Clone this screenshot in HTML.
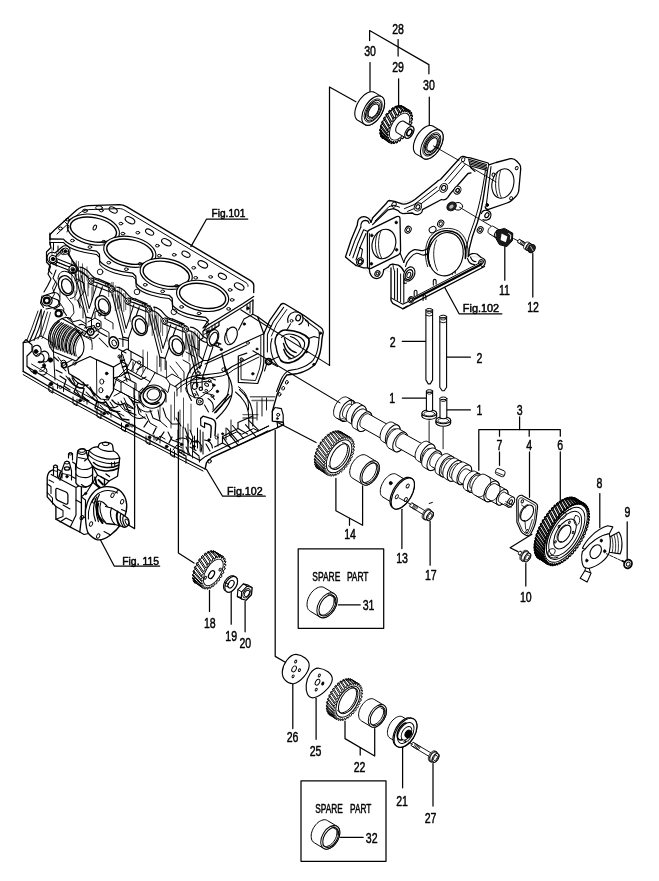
<!DOCTYPE html>
<html><head><meta charset="utf-8"><title>Parts diagram</title>
<style>
html,body{margin:0;padding:0;background:#fff}
svg{display:block}
svg text{font-family:"Liberation Sans",sans-serif;fill:#000;stroke:#000;stroke-width:0.5px}
</style></head><body>
<svg width="659" height="881" viewBox="0 0 659 881" fill="none" stroke="#000" stroke-width="1" stroke-linecap="round" stroke-linejoin="round">
<rect x="0" y="0" width="659" height="881" fill="#fff" stroke="none"/>
<g id="labels" opacity="0.995">
<text transform="translate(398.1,33.6) scale(0.72,1)" font-size="14.7" text-anchor="middle">28</text>
<text transform="translate(370.1,55.6) scale(0.72,1)" font-size="14.7" text-anchor="middle">30</text>
<text transform="translate(398.1,71.9) scale(0.72,1)" font-size="14.7" text-anchor="middle">29</text>
<text transform="translate(428.9,89.9) scale(0.72,1)" font-size="14.7" text-anchor="middle">30</text>
<path d="M369.6,40.5 L369.6,30.5 L428.9,64.6 L428.9,73.8" stroke-width="1.25"/>
<path d="M398.1,39.6 L398.1,56.0" stroke-width="1.25"/>
<path d="M370.0,62.6 L370.0,92.5" stroke-width="1.25"/>
<path d="M398.6,78.8 L398.6,105.9" stroke-width="1.25"/>
<path d="M429.3,97.1 L429.3,126.7" stroke-width="1.25"/>
<path d="M355.9,101.7 L329.5,87.0 L329.5,365.4" stroke-width="1.25"/>
<text transform="translate(504.5,295.4) scale(0.72,1)" font-size="14.7" text-anchor="middle">11</text>
<text transform="translate(533.1,312.1) scale(0.72,1)" font-size="14.7" text-anchor="middle">12</text>
<path d="M504.8,246.7 L504.8,280.2" stroke-width="1.25"/>
<path d="M532.8,253.6 L532.8,297.0" stroke-width="1.25"/>
<text x="462.8" y="311.6" font-size="11" textLength="36.4" lengthAdjust="spacingAndGlyphs">Fig.102</text>
<path d="M444.6,287.3 L459.1,313.8 L501.9,313.8" stroke-width="1.25"/>
<text x="211.6" y="216.7" font-size="11" textLength="33.7" lengthAdjust="spacingAndGlyphs">Fig.101</text>
<path d="M190.9,246.6 L206.6,219.0 L247.8,219.0" stroke-width="1.25"/>
<text x="227" y="495.0" font-size="11" textLength="35.6" lengthAdjust="spacingAndGlyphs">Fig.102</text>
<path d="M206.4,469.3 L222.6,496.2 L265.3,496.2" stroke-width="1.25"/>
<text x="122.2" y="565" font-size="11" textLength="36.8" lengthAdjust="spacingAndGlyphs">Fig. 115</text>
<path d="M100.5,540.0 L114.2,566.0 L159.7,566.0" stroke-width="1.25"/>
<text transform="translate(392.6,346.7) scale(0.72,1)" font-size="14.7" text-anchor="middle">2</text>
<path d="M402.3,341.4 L425.9,341.4" stroke-width="1.25"/>
<text transform="translate(479.4,362.5) scale(0.72,1)" font-size="14.7" text-anchor="middle">2</text>
<path d="M446.8,357.2 L470.4,357.2" stroke-width="1.25"/>
<text transform="translate(392.3,403.4) scale(0.72,1)" font-size="14.7" text-anchor="middle">1</text>
<path d="M402.3,398.1 L426.4,398.1" stroke-width="1.25"/>
<text transform="translate(479.4,415.2) scale(0.72,1)" font-size="14.7" text-anchor="middle">1</text>
<path d="M446.8,409.9 L470.4,409.9" stroke-width="1.25"/>
<text transform="translate(519.6,414.8) scale(0.72,1)" font-size="14.7" text-anchor="middle">3</text>
<path d="M519.6,416.9 L519.6,429.5" stroke-width="1.25"/>
<path d="M478.8,470.3 L478.8,429.5 L560.3,429.5 L560.3,436.2" stroke-width="1.25"/>
<path d="M499.5,429.5 L499.5,436.2" stroke-width="1.25"/>
<path d="M529.2,429.5 L529.2,436.2" stroke-width="1.25"/>
<text transform="translate(499.5,449.5) scale(0.72,1)" font-size="14.7" text-anchor="middle">7</text>
<path d="M499.5,451.9 L499.5,465.3" stroke-width="1.25"/>
<text transform="translate(529.2,449.5) scale(0.72,1)" font-size="14.7" text-anchor="middle">4</text>
<path d="M529.5,451.9 L529.5,497.3" stroke-width="1.25"/>
<text transform="translate(560.3,449.5) scale(0.72,1)" font-size="14.7" text-anchor="middle">6</text>
<path d="M560.3,451.9 L560.3,500.3" stroke-width="1.25"/>
<text transform="translate(599.4,488.2) scale(0.72,1)" font-size="14.7" text-anchor="middle">8</text>
<path d="M599.8,493.6 L599.8,527.5" stroke-width="1.25"/>
<text transform="translate(627.4,516.5) scale(0.72,1)" font-size="14.7" text-anchor="middle">9</text>
<path d="M627.2,521.8 L627.2,560.0" stroke-width="1.25"/>
<text transform="translate(525.8,601.6) scale(0.72,1)" font-size="14.7" text-anchor="middle">10</text>
<path d="M525.8,563.5 L525.8,586.0" stroke-width="1.25"/>
<path d="M531.9,534.3 L510.1,547.7 L518.0,551.6" stroke-width="1.25"/>
<text transform="translate(402.1,563.1) scale(0.72,1)" font-size="14.7" text-anchor="middle">13</text>
<path d="M401.9,509.3 L401.9,548.5" stroke-width="1.25"/>
<text transform="translate(430.8,579.7) scale(0.72,1)" font-size="14.7" text-anchor="middle">17</text>
<path d="M430.1,521.4 L430.1,565.2" stroke-width="1.25"/>
<text transform="translate(350.1,538.8) scale(0.72,1)" font-size="14.7" text-anchor="middle">14</text>
<path d="M335.9,478.3 L335.9,510.8 L362.6,525.3 L362.6,485.9" stroke-width="1.25"/>
<path d="M349.5,518.4 L349.5,525.3" stroke-width="1.25"/>
<text transform="translate(209.8,628.0) scale(0.72,1)" font-size="14.7" text-anchor="middle">18</text>
<path d="M209.5,590.4 L209.5,611.6" stroke-width="1.25"/>
<text transform="translate(231.2,640.5) scale(0.72,1)" font-size="14.7" text-anchor="middle">19</text>
<path d="M231.2,592.4 L231.2,624.2" stroke-width="1.25"/>
<text transform="translate(245.3,648.3) scale(0.72,1)" font-size="14.7" text-anchor="middle">20</text>
<path d="M245.1,601.5 L245.1,631.8" stroke-width="1.25"/>
<text transform="translate(292.5,742.1) scale(0.72,1)" font-size="14.7" text-anchor="middle">26</text>
<path d="M292.8,684.0 L292.8,728.6" stroke-width="1.25"/>
<text transform="translate(315.5,755.8) scale(0.72,1)" font-size="14.7" text-anchor="middle">25</text>
<path d="M316.1,698.3 L316.1,739.3" stroke-width="1.25"/>
<text transform="translate(359.5,771.9) scale(0.72,1)" font-size="14.7" text-anchor="middle">22</text>
<path d="M345.0,721.0 L345.0,738.6 L374.7,756.0 L374.7,728.6" stroke-width="1.25"/>
<path d="M360.2,747.5 L360.2,755.0" stroke-width="1.25"/>
<text transform="translate(402.0,805.9) scale(0.72,1)" font-size="14.7" text-anchor="middle">21</text>
<path d="M402.6,746.8 L402.6,787.8" stroke-width="1.25"/>
<text transform="translate(430.6,822.9) scale(0.72,1)" font-size="14.7" text-anchor="middle">27</text>
<path d="M433.0,763.5 L433.0,806.0" stroke-width="1.25"/>
<text transform="translate(368.6,610.4) scale(0.72,1)" font-size="14.7" text-anchor="middle">31</text>
<path d="M338.3,604.9 L360.2,604.9" stroke-width="1.25"/>
<text transform="translate(371.7,843.2) scale(0.72,1)" font-size="14.7" text-anchor="middle">32</text>
<path d="M340.4,837.3 L363.2,837.3" stroke-width="1.25"/>
<rect x="298.2" y="548.9" width="85.5" height="79.4" stroke-width="1.25"/>
<rect x="301" y="780.8" width="85" height="80.5" stroke-width="1.25"/>
<text x="312.3" y="580.9" font-size="13" textLength="28.1" lengthAdjust="spacingAndGlyphs">SPARE</text>
<text x="346.9" y="580.9" font-size="13" textLength="21.6" lengthAdjust="spacingAndGlyphs">PART</text>
<text x="315.2" y="813.4" font-size="13" textLength="27.6" lengthAdjust="spacingAndGlyphs">SPARE</text>
<text x="350.1" y="813.4" font-size="13" textLength="21.3" lengthAdjust="spacingAndGlyphs">PART</text>
<path d="M126.8,524.0 L134.6,528.6 L134.6,396.0" stroke-width="1.25"/>
<path d="M194.0,563.1 L178.4,552.9 L178.4,412.0" stroke-width="1.25"/>
<path d="M285.8,662.5 L275.2,656.4 L275.2,430.3" stroke-width="1.25"/>
<path d="M278.2,422.8 L316.1,442.5" stroke-width="1.25"/>
</g>
<g id="p14">
<path d="M318.3,469.5 L317.1,468.5 L316.0,467.2 L315.2,465.7 L314.7,463.8 L314.4,461.8 L314.3,459.6 L314.5,457.2 L315.0,454.7 L315.8,452.1 L316.7,449.5 L317.9,446.9 L319.3,444.4 L320.9,442.0 L322.6,439.7 L324.4,437.7 L326.4,435.8 L328.3,434.2 L330.3,432.9 L332.3,431.9 L334.3,431.2 L336.2,430.8 L337.9,430.8 L339.6,431.1 L341.0,431.8 L350.4,437.4 L351.7,438.4 L352.7,439.7 L353.5,441.3 L354.1,443.1 L354.4,445.1 L354.4,447.4 L354.2,449.8 L353.7,452.3 L353.0,454.8 L352.1,457.4 L350.9,460.0 L349.5,462.5 L347.9,464.9 L346.2,467.2 L344.3,469.3 L342.4,471.1 L340.4,472.7 L338.4,474.0 L336.4,475.1 L334.5,475.7 L332.6,476.1 L330.8,476.1 L329.2,475.8 L327.8,475.2 Z" stroke-width="0.01" fill="#fff"/>
<path d="M318.8,469.7 L319.5,467.8 L319.0,467.6 L317.6,469.0 L317.1,468.5 L318.0,466.6 L317.6,466.2 L316.2,467.4 L315.7,466.7 L316.8,464.9 L316.6,464.4 L315.1,465.3 L314.8,464.5 L316.1,462.8 L315.9,462.2 L314.5,462.8 L314.4,461.8 L315.7,460.3 L315.7,459.6 L314.3,459.9 L314.4,458.8 L315.8,457.5 L315.9,456.7 L314.6,456.7 L314.8,455.5 L316.3,454.5 L316.5,453.7 L315.4,453.3 L315.8,452.1 L317.2,451.3 L317.5,450.5 L316.6,449.8 L317.1,448.6 L318.5,448.2 L318.9,447.4 L318.2,446.4 L318.8,445.2 L320.2,445.1 L320.6,444.4 L320.1,443.1 L320.9,442.0 L322.1,442.2 L322.6,441.5 L322.3,440.0 L323.2,439.0 L324.2,439.6 L324.8,439.0 L324.8,437.3 L325.7,436.4 L326.5,437.3 L327.1,436.7 L327.4,434.9 L328.3,434.2 L328.9,435.4 L329.6,435.0 L330.1,433.1 L331.0,432.5 L331.4,433.9 L332.0,433.6 L332.7,431.7 L333.7,431.4 L333.8,433.0 L334.3,432.8 L335.3,431.0 L336.2,430.8 L336.0,432.6 L336.6,432.6 L337.7,430.8 L338.5,430.9 L338.1,432.7 L338.6,432.9 L339.9,431.2 L340.5,431.5 L339.9,433.4" stroke-width="0.9"/>
<path d="M350.8,437.7 L343.2,433.8" stroke-width="0.9"/>
<path d="M327.4,474.9 L316.2,467.4" stroke-width="0.9"/>
<path d="M326.8,474.5 L315.7,466.7" stroke-width="0.9"/>
<path d="M325.9,473.4 L315.1,465.3" stroke-width="0.9"/>
<path d="M325.4,472.8 L314.8,464.5" stroke-width="0.9"/>
<path d="M324.7,471.5 L314.5,462.8" stroke-width="0.9"/>
<path d="M324.4,470.6 L314.4,461.8" stroke-width="0.9"/>
<path d="M324.0,469.0 L314.3,459.9" stroke-width="0.9"/>
<path d="M323.9,468.0 L314.4,458.8" stroke-width="0.9"/>
<path d="M323.7,466.1 L314.6,456.7" stroke-width="0.9"/>
<path d="M323.8,465.1 L314.8,455.5" stroke-width="0.9"/>
<path d="M324.0,463.0 L315.4,453.3" stroke-width="0.9"/>
<path d="M324.1,461.8 L315.8,452.1" stroke-width="0.9"/>
<path d="M324.6,459.7 L316.6,449.8" stroke-width="0.9"/>
<path d="M325.0,458.4 L317.1,448.6" stroke-width="0.9"/>
<path d="M325.7,456.2 L318.2,446.4" stroke-width="0.9"/>
<path d="M326.2,455.0 L318.8,445.2" stroke-width="0.9"/>
<path d="M327.3,452.8 L320.1,443.1" stroke-width="0.9"/>
<path d="M327.9,451.6 L320.9,442.0" stroke-width="0.9"/>
<path d="M329.1,449.4 L322.3,440.0" stroke-width="0.9"/>
<path d="M329.9,448.3 L323.2,439.0" stroke-width="0.9"/>
<path d="M331.3,446.3 L324.8,437.3" stroke-width="0.9"/>
<path d="M332.1,445.3 L325.7,436.4" stroke-width="0.9"/>
<path d="M333.7,443.5 L327.4,434.9" stroke-width="0.9"/>
<path d="M334.6,442.6 L328.3,434.2" stroke-width="0.9"/>
<path d="M336.3,441.0 L330.1,433.1" stroke-width="0.9"/>
<path d="M337.2,440.3 L331.0,432.5" stroke-width="0.9"/>
<path d="M339.0,439.1 L332.7,431.7" stroke-width="0.9"/>
<path d="M339.9,438.5 L333.7,431.4" stroke-width="0.9"/>
<path d="M341.6,437.6 L335.3,431.0" stroke-width="0.9"/>
<path d="M342.6,437.2 L336.2,430.8" stroke-width="0.9"/>
<path d="M344.2,436.7 L337.7,430.8" stroke-width="0.9"/>
<path d="M345.1,436.6 L338.5,430.9" stroke-width="0.9"/>
<path d="M346.7,436.4 L339.9,431.2" stroke-width="0.9"/>
<path d="M347.5,436.5 L340.5,431.5" stroke-width="0.9"/>
<path d="M348.9,436.8 L341.7,432.3" stroke-width="0.9"/>
<path d="M349.6,437.0 L342.3,432.8" stroke-width="0.9"/>
<path d="M349.4,439.2 L350.8,437.7 L351.4,438.1 L350.5,440.0 L350.9,440.4 L352.3,439.2 L352.8,439.8 L351.8,441.7 L352.0,442.1 L353.5,441.1 L353.8,442.0 L352.6,443.7 L352.7,444.3 L354.2,443.6 L354.3,444.6 L353.0,446.1 L353.1,446.8 L354.5,446.5 L354.4,447.5 L353.0,448.9 L352.9,449.6 L354.2,449.6 L354.1,450.8 L352.6,451.9 L352.4,452.6 L353.6,452.9 L353.2,454.2 L351.8,455.0 L351.5,455.8 L352.5,456.4 L352.0,457.6 L350.5,458.1 L350.2,458.9 L350.9,459.8 L350.3,461.0 L349.0,461.2 L348.5,462.0 L349.1,463.2 L348.3,464.3 L347.1,464.2 L346.6,464.9 L346.9,466.3 L346.1,467.3 L345.0,466.9 L344.4,467.5 L344.5,469.1 L343.6,470.0 L342.7,469.2 L342.1,469.8 L341.9,471.6 L341.0,472.3 L340.3,471.2 L339.7,471.7 L339.2,473.5 L338.3,474.1 L337.9,472.8 L337.3,473.1 L336.6,475.0 L335.6,475.4 L335.5,473.8 L334.9,474.0 L334.0,475.9 L333.1,476.0 L333.2,474.3 L332.6,474.3 L331.5,476.2 L330.7,476.1 L331.1,474.3 L330.6,474.2 L329.3,475.8 L328.6,475.6 L329.2,473.7 L328.8,473.4 L327.4,474.9 L326.8,474.5 L327.7,472.6 L327.3,472.2 L325.9,473.4 L325.4,472.8 L326.4,470.9 L326.2,470.5 L324.7,471.5 L324.4,470.6 L325.6,468.9 L325.5,468.3 L324.0,469.0 L323.9,468.0 L325.2,466.5 L325.1,465.8 L323.7,466.1 L323.8,465.1 L325.2,463.7 L325.3,463.0 L324.0,463.0 L324.1,461.8 L325.6,460.7 L325.8,460.0 L324.6,459.7 L325.0,458.4 L326.4,457.6 L326.7,456.8 L325.7,456.2 L326.2,455.0 L327.7,454.5 L328.0,453.7 L327.3,452.8 L327.9,451.6 L329.2,451.4 L329.7,450.6 L329.1,449.4 L329.9,448.3 L331.1,448.4 L331.6,447.7 L331.3,446.3 L332.1,445.3 L333.2,445.7 L333.8,445.1 L333.7,443.5 L334.6,442.6 L335.5,443.4 L336.1,442.8 L336.3,441.0 L337.2,440.3 L337.9,441.4 L338.5,440.9 L339.0,439.1 L339.9,438.5 L340.3,439.8 L340.9,439.5 L341.6,437.6 L342.6,437.2 L342.7,438.8 L343.3,438.6 L344.2,436.7 L345.1,436.6 L345.0,438.3 L345.6,438.3 L346.7,436.4 L347.5,436.5 L347.1,438.3 L347.6,438.4 L348.9,436.8 L349.6,437.0 L349.0,438.9 Z" stroke-width="0.9" fill="#fff"/>
<ellipse cx="339.1" cy="456.3" rx="10.07" ry="18.30" transform="rotate(31.0 339.1 456.3)" stroke-width="1.0"/>
<ellipse cx="339.6" cy="456.6" rx="7.44" ry="14.30" transform="rotate(31.0 339.6 456.6)" stroke-width="1.0"/>
<path d="M342.5,442.8 L343.8,442.8 L345.0,443.2 L345.9,443.9 L346.7,445.0 L347.2,446.2 L347.5,447.8 L347.5,449.5 L347.3,451.4 L346.9,453.3 L346.2,455.4 L345.3,457.4 L344.2,459.4 L342.9,461.3 L341.5,463.1 L340.1,464.7 L338.5,466.0 L337.0,467.1 L335.4,467.8 L333.9,468.3 L332.6,468.4 L331.3,468.3 L330.3,467.7 L329.4,466.9 L328.7,465.8" stroke-width="1.0"/>
<path d="M352.6,478.2 L351.7,477.6 L351.0,476.8 L350.5,475.8 L350.1,474.6 L349.8,473.4 L349.7,472.0 L349.8,470.5 L350.1,469.0 L350.5,467.4 L351.0,465.8 L351.7,464.2 L352.6,462.7 L353.5,461.3 L354.6,459.9 L355.7,458.7 L356.9,457.6 L358.2,456.6 L359.4,455.9 L360.7,455.3 L361.9,454.9 L363.1,454.7 L364.3,454.7 L365.3,455.0 L366.3,455.4 L376.6,461.6 L377.4,462.2 L378.1,463.1 L378.6,464.0 L379.1,465.2 L379.3,466.5 L379.4,467.8 L379.3,469.3 L379.0,470.9 L378.6,472.4 L378.1,474.0 L377.4,475.6 L376.5,477.1 L375.6,478.6 L374.5,479.9 L373.4,481.2 L372.2,482.3 L371.0,483.2 L369.7,484.0 L368.4,484.5 L367.2,484.9 L366.0,485.1 L364.9,485.1 L363.8,484.8 L362.8,484.4 Z" stroke-width="1.0" fill="#fff"/>
<ellipse cx="369.7" cy="473.0" rx="7.98" ry="13.30" transform="rotate(31.0 369.7 473.0)" stroke-width="1.0" fill="#fff"/>
<ellipse cx="370.0" cy="473.2" rx="6.55" ry="11.30" transform="rotate(31.0 370.0 473.2)" stroke-width="1.0"/>
<path d="M370.6,462.1 L371.8,461.9 L373.0,462.0 L374.0,462.4 L374.8,463.0 L375.5,463.8 L376.0,464.8 L376.4,466.1 L376.5,467.5 L376.4,469.0 L376.1,470.6 L375.6,472.2 L374.9,473.8 L374.1,475.4 L373.1,476.9 L372.0,478.3 L370.8,479.6 L369.5,480.6 L368.3,481.4 L367.0,482.0 L365.7,482.4 L364.5,482.5 L363.5,482.3 L362.5,481.8 L361.7,481.2" stroke-width="1.0"/>
</g>
<g id="p13">
<path d="M382.7,496.9 L381.9,496.3 L381.3,495.6 L380.8,494.6 L380.5,493.5 L380.3,492.3 L380.3,490.9 L380.4,489.5 L380.7,488.0 L381.1,486.5 L381.7,484.9 L382.4,483.4 L383.3,481.9 L384.2,480.4 L385.2,479.0 L386.4,477.8 L387.5,476.7 L388.7,475.7 L389.9,474.9 L391.1,474.3 L392.3,473.9 L393.4,473.7 L394.5,473.7 L395.4,473.9 L396.3,474.3 L408.3,481.5 L409.1,482.1 L409.7,482.8 L410.2,483.8 L410.5,484.9 L410.7,486.1 L410.7,487.4 L410.6,488.9 L410.3,490.4 L409.9,491.9 L409.3,493.5 L408.6,495.0 L407.7,496.5 L406.8,498.0 L405.8,499.3 L404.6,500.6 L403.5,501.7 L402.3,502.7 L401.1,503.4 L399.9,504.1 L398.7,504.5 L397.6,504.7 L396.5,504.7 L395.6,504.5 L394.7,504.1 Z" stroke-width="1.0" fill="#fff"/>
<ellipse cx="401.5" cy="492.8" rx="7.26" ry="13.20" transform="rotate(31.0 401.5 492.8)" stroke-width="1.0" fill="#fff"/>
<path d="M392.7,507.7 L391.8,507.0 L391.1,506.1 L390.6,504.9 L390.2,503.5 L390.0,501.9 L390.1,500.2 L390.3,498.4 L390.7,496.4 L391.4,494.4 L392.2,492.4 L393.1,490.3 L394.2,488.3 L395.5,486.4 L396.8,484.6 L398.2,483.0 L399.7,481.5 L401.2,480.2 L402.7,479.1 L404.3,478.3 L405.7,477.7 L407.1,477.3 L408.4,477.3 L409.6,477.5 L410.6,477.9 L411.8,478.6 L412.7,479.3 L413.4,480.3 L413.9,481.4 L414.3,482.8 L414.4,484.4 L414.4,486.1 L414.2,488.0 L413.7,489.9 L413.1,491.9 L412.3,494.0 L411.4,496.0 L410.3,498.0 L409.0,499.9 L407.7,501.7 L406.3,503.3 L404.8,504.8 L403.3,506.1 L401.7,507.2 L400.2,508.1 L398.8,508.7 L397.4,509.0 L396.1,509.1 L394.9,508.9 L393.8,508.4 Z" stroke-width="1.2" fill="#fff"/>
<ellipse cx="402.8" cy="493.5" rx="8.70" ry="17.40" transform="rotate(31.0 402.8 493.5)" stroke-width="1.2" fill="#fff"/>
<ellipse cx="407.7" cy="486.0" rx="1.32" ry="2.20" transform="rotate(31.0 407.7 486.0)" stroke-width="0.9"/>
<ellipse cx="396.8" cy="496.7" rx="1.32" ry="2.20" transform="rotate(31.0 396.8 496.7)" stroke-width="0.9"/>
<ellipse cx="405.8" cy="499.5" rx="1.32" ry="2.20" transform="rotate(31.0 405.8 499.5)" stroke-width="0.9"/>
<ellipse cx="390.7" cy="483.1" rx="1.4" ry="1.6" fill="#000"/>
<path d="M398.9,497.9 L411.1,504.5" stroke-width="0.9"/>
<path d="M412.3,503.1 L427.3,512.1" stroke-width="0.9"/>
<path d="M410.1,506.7 L425.1,515.7" stroke-width="0.9"/>
<path d="M410.1,506.7 L409.8,506.3 L409.7,505.8 L409.9,505.0 L410.2,504.3 L410.7,503.7 L411.3,503.2 L411.8,503.0 L412.3,503.1" stroke-width="0.9"/>
<path d="M413.5,503.8 L413.8,504.4 L413.8,505.2 L413.4,506.2 L412.7,507.0 L412.0,507.5 L411.3,507.4" stroke-width="0.9"/>
<path d="M414.7,504.5 L415.0,505.1 L415.0,506.0 L414.6,506.9 L413.9,507.8 L413.2,508.2 L412.5,508.1" stroke-width="0.9"/>
<path d="M415.9,505.3 L416.2,505.8 L416.2,506.7 L415.8,507.7 L415.1,508.5 L414.4,508.9 L413.7,508.9" stroke-width="0.9"/>
<path d="M417.1,506.0 L417.4,506.5 L417.4,507.4 L417.0,508.4 L416.3,509.2 L415.6,509.6 L414.9,509.6" stroke-width="0.9"/>
<path d="M423.2,518.9 L422.9,518.6 L422.6,518.3 L422.4,517.9 L422.2,517.4 L422.2,516.9 L422.2,516.3 L422.2,515.6 L422.3,515.0 L422.5,514.3 L422.8,513.6 L423.1,512.9 L423.5,512.3 L423.9,511.6 L424.3,511.0 L424.8,510.5 L425.3,510.0 L425.8,509.6 L426.4,509.2 L426.9,509.0 L427.4,508.8 L427.9,508.7 L428.4,508.7 L428.8,508.8 L429.2,508.9 L430.2,509.6 L430.5,509.8 L430.8,510.2 L431.0,510.6 L431.2,511.0 L431.3,511.6 L431.3,512.2 L431.2,512.8 L431.1,513.5 L430.9,514.1 L430.6,514.8 L430.3,515.5 L430.0,516.2 L429.6,516.8 L429.1,517.4 L428.6,518.0 L428.1,518.4 L427.6,518.9 L427.1,519.2 L426.5,519.5 L426.0,519.7 L425.5,519.8 L425.1,519.8 L424.6,519.7 L424.2,519.5 Z" stroke-width="0.9" fill="#fff"/>
<ellipse cx="427.2" cy="514.5" rx="3.19" ry="5.80" transform="rotate(31.0 427.2 514.5)" stroke-width="0.9" fill="#fff"/>
<path d="M424.7,518.8 L424.4,518.5 L424.2,518.3 L424.0,517.9 L423.9,517.5 L423.8,517.0 L423.8,516.5 L423.8,516.0 L423.9,515.4 L424.1,514.9 L424.3,514.3 L424.6,513.7 L424.9,513.1 L425.3,512.6 L425.6,512.1 L426.1,511.6 L426.5,511.2 L426.9,510.9 L427.4,510.6 L427.8,510.3 L428.3,510.2 L428.7,510.1 L429.1,510.1 L429.4,510.2 L429.8,510.3 L432.5,512.0 L432.8,512.2 L433.0,512.5 L433.2,512.8 L433.3,513.2 L433.4,513.7 L433.4,514.2 L433.4,514.7 L433.3,515.3 L433.1,515.9 L432.9,516.4 L432.6,517.0 L432.3,517.6 L431.9,518.1 L431.6,518.6 L431.1,519.1 L430.7,519.5 L430.3,519.9 L429.8,520.2 L429.4,520.4 L428.9,520.5 L428.5,520.6 L428.1,520.6 L427.8,520.6 L427.4,520.4 Z" stroke-width="0.9" fill="#fff"/>
<ellipse cx="430.0" cy="516.2" rx="2.71" ry="4.93" transform="rotate(31.0 430.0 516.2)" stroke-width="0.9" fill="#fff"/>
<path d="M433.3,513.2 L432.3,517.6 L428.9,520.5 L426.6,519.1 L427.6,514.8 L431.0,511.8 Z" stroke-width="0.9" fill="#fff"/>
<ellipse cx="430.0" cy="516.2" rx="1.59" ry="2.90" transform="rotate(31.0 430.0 516.2)" stroke-width="0.7200000000000001"/>
<path d="M429.2,503.5 L432.4,502.4" stroke-width="1.0"/>
</g>
<g id="p22">
<path d="M296.2,654.4 C302.2,654.9 309.7,659.7 309.2,665.7 C308.7,672.7 300.4,682.7 293.4,683.7 C287.4,684.2 281.8,678.6 282.3,671.6 C282.8,664.6 289.2,654.1 296.2,654.4 Z" fill="#fff" stroke-width="1.15"/>
<ellipse cx="294.1" cy="668.9" rx="1.98" ry="3.20" transform="rotate(31.0 294.1 668.9)" stroke-width="0.9"/>
<ellipse cx="295.7" cy="661.5" rx="0.93" ry="1.50" transform="rotate(31.0 295.7 661.5)" stroke-width="0.9"/>
<ellipse cx="299.4" cy="670.2" rx="0.93" ry="1.50" transform="rotate(31.0 299.4 670.2)" stroke-width="0.9"/>
<ellipse cx="293.1" cy="676.3" rx="0.93" ry="1.50" transform="rotate(31.0 293.1 676.3)" stroke-width="0.9"/>
<path d="M318.8,668.2 C324.8,668.7 332.8,673.5 332.3,679.5 C331.8,686.5 320.5,696.8 313.5,697.8 C307.5,698.3 305.7,691.8 306.2,684.8 C306.7,677.8 311.8,667.9 318.8,668.2 Z" fill="#fff" stroke-width="1.15"/>
<ellipse cx="317.5" cy="682.2" rx="1.98" ry="3.20" transform="rotate(31.0 317.5 682.2)" stroke-width="0.9"/>
<ellipse cx="319.3" cy="675.5" rx="0.93" ry="1.50" transform="rotate(31.0 319.3 675.5)" stroke-width="0.9"/>
<ellipse cx="322.8" cy="683.5" rx="0.93" ry="1.50" transform="rotate(31.0 322.8 683.5)" stroke-width="0.9" fill="#000"/>
<ellipse cx="316.2" cy="689.6" rx="0.93" ry="1.50" transform="rotate(31.0 316.2 689.6)" stroke-width="0.9"/>
<path d="M330.2,715.6 L329.0,714.6 L328.0,713.4 L327.3,711.9 L326.7,710.2 L326.4,708.2 L326.4,706.1 L326.6,703.8 L327.1,701.4 L327.8,699.0 L328.7,696.5 L329.8,694.0 L331.1,691.6 L332.6,689.3 L334.3,687.2 L336.0,685.2 L337.9,683.4 L339.8,681.9 L341.7,680.6 L343.6,679.7 L345.5,679.0 L347.2,678.7 L348.9,678.7 L350.5,679.0 L351.9,679.6 L358.7,683.7 L359.9,684.6 L360.9,685.9 L361.7,687.3 L362.2,689.1 L362.5,691.0 L362.5,693.2 L362.3,695.5 L361.9,697.9 L361.2,700.3 L360.3,702.8 L359.1,705.2 L357.8,707.6 L356.3,709.9 L354.7,712.1 L352.9,714.1 L351.1,715.9 L349.2,717.4 L347.3,718.6 L345.3,719.6 L343.5,720.3 L341.7,720.6 L340.0,720.6 L338.5,720.3 L337.1,719.7 Z" stroke-width="0.01" fill="#fff"/>
<path d="M331.1,716.0 L331.7,714.1 L331.3,713.9 L329.9,715.3 L329.3,714.9 L330.1,713.0 L329.8,712.6 L328.3,713.8 L327.9,713.2 L328.9,711.3 L328.7,710.8 L327.2,711.8 L326.9,710.9 L328.1,709.2 L328.0,708.6 L326.5,709.2 L326.4,708.2 L327.8,706.7 L327.8,706.0 L326.4,706.3 L326.5,705.2 L327.9,703.8 L328.0,703.1 L326.7,703.0 L327.0,701.8 L328.5,700.8 L328.7,700.0 L327.6,699.6 L328.0,698.4 L329.4,697.7 L329.7,696.9 L328.9,696.1 L329.4,694.9 L330.8,694.5 L331.2,693.7 L330.6,692.6 L331.2,691.5 L332.5,691.5 L333.0,690.7 L332.6,689.4 L333.4,688.3 L334.6,688.6 L335.1,687.9 L335.0,686.4 L335.8,685.4 L336.8,686.1 L337.4,685.5 L337.5,683.7 L338.5,682.9 L339.2,683.9 L339.8,683.5 L340.2,681.6 L341.1,681.0 L341.6,682.3 L342.2,681.9 L342.9,680.0 L343.8,679.6 L344.1,681.1 L344.6,680.9 L345.5,679.0 L346.4,678.8 L346.4,680.5 L346.9,680.4 L348.0,678.6 L348.9,678.6 L348.5,680.5 L349.0,680.6 L350.3,678.9 L351.0,679.1 L350.4,681.1" stroke-width="0.9"/>
<path d="M359.1,683.9 L353.8,681.3" stroke-width="0.9"/>
<path d="M336.7,719.5 L328.3,713.8" stroke-width="0.9"/>
<path d="M336.1,719.0 L327.9,713.2" stroke-width="0.9"/>
<path d="M335.2,718.0 L327.2,711.8" stroke-width="0.9"/>
<path d="M334.7,717.3 L326.9,710.9" stroke-width="0.9"/>
<path d="M334.1,715.9 L326.5,709.2" stroke-width="0.9"/>
<path d="M333.8,715.0 L326.4,708.2" stroke-width="0.9"/>
<path d="M333.4,713.3 L326.4,706.3" stroke-width="0.9"/>
<path d="M333.3,712.3 L326.5,705.2" stroke-width="0.9"/>
<path d="M333.2,710.4 L326.7,703.0" stroke-width="0.9"/>
<path d="M333.3,709.3 L327.0,701.8" stroke-width="0.9"/>
<path d="M333.6,707.1 L327.6,699.6" stroke-width="0.9"/>
<path d="M333.8,705.9 L328.0,698.4" stroke-width="0.9"/>
<path d="M334.4,703.7 L328.9,696.1" stroke-width="0.9"/>
<path d="M334.8,702.5 L329.4,694.9" stroke-width="0.9"/>
<path d="M335.7,700.2 L330.6,692.6" stroke-width="0.9"/>
<path d="M336.3,699.0 L331.2,691.5" stroke-width="0.9"/>
<path d="M337.4,696.8 L332.6,689.4" stroke-width="0.9"/>
<path d="M338.1,695.6 L333.4,688.3" stroke-width="0.9"/>
<path d="M339.5,693.5 L335.0,686.4" stroke-width="0.9"/>
<path d="M340.3,692.4 L335.8,685.4" stroke-width="0.9"/>
<path d="M341.8,690.5 L337.5,683.7" stroke-width="0.9"/>
<path d="M342.7,689.5 L338.5,682.9" stroke-width="0.9"/>
<path d="M344.4,687.9 L340.2,681.6" stroke-width="0.9"/>
<path d="M345.3,687.1 L341.1,681.0" stroke-width="0.9"/>
<path d="M347.1,685.7 L342.9,680.0" stroke-width="0.9"/>
<path d="M348.0,685.1 L343.8,679.6" stroke-width="0.9"/>
<path d="M349.8,684.1 L345.5,679.0" stroke-width="0.9"/>
<path d="M350.7,683.7 L346.4,678.8" stroke-width="0.9"/>
<path d="M352.4,683.1 L348.0,678.6" stroke-width="0.9"/>
<path d="M353.3,682.9 L348.9,678.6" stroke-width="0.9"/>
<path d="M354.9,682.7 L350.3,678.9" stroke-width="0.9"/>
<path d="M355.7,682.8 L351.0,679.1" stroke-width="0.9"/>
<path d="M357.1,683.0 L352.2,679.8" stroke-width="0.9"/>
<path d="M357.9,683.3 L352.8,680.3" stroke-width="0.9"/>
<path d="M357.7,685.4 L359.1,683.9 L359.7,684.4 L358.8,686.3 L359.2,686.7 L360.6,685.4 L361.1,686.1 L360.0,688.0 L360.3,688.5 L361.7,687.5 L362.0,688.4 L360.8,690.1 L360.9,690.7 L362.4,690.1 L362.5,691.1 L361.2,692.6 L361.2,693.3 L362.6,693.0 L362.5,694.1 L361.0,695.4 L360.9,696.2 L362.2,696.3 L362.0,697.5 L360.5,698.5 L360.3,699.3 L361.4,699.7 L361.0,700.9 L359.5,701.6 L359.2,702.4 L360.1,703.2 L359.5,704.4 L358.1,704.8 L357.7,705.6 L358.4,706.6 L357.7,707.8 L356.4,707.8 L355.9,708.6 L356.3,709.9 L355.5,711.0 L354.4,710.7 L353.8,711.3 L354.0,712.9 L353.1,713.9 L352.1,713.2 L351.6,713.8 L351.4,715.5 L350.5,716.3 L349.8,715.3 L349.2,715.8 L348.7,717.7 L347.8,718.3 L347.3,717.0 L346.7,717.4 L346.0,719.3 L345.1,719.7 L344.9,718.2 L344.3,718.4 L343.4,720.3 L342.5,720.5 L342.6,718.8 L342.0,718.8 L340.9,720.7 L340.1,720.6 L340.4,718.8 L339.9,718.7 L338.7,720.4 L337.9,720.1 L338.5,718.2 L338.1,718.0 L336.7,719.5 L336.1,719.0 L337.0,717.1 L336.6,716.7 L335.2,718.0 L334.7,717.3 L335.8,715.4 L335.5,714.9 L334.1,715.9 L333.8,715.0 L335.0,713.3 L334.9,712.7 L333.4,713.3 L333.3,712.3 L334.6,710.8 L334.6,710.1 L333.2,710.4 L333.3,709.3 L334.8,708.0 L334.9,707.2 L333.6,707.1 L333.8,705.9 L335.3,704.9 L335.5,704.1 L334.4,703.7 L334.8,702.5 L336.3,701.8 L336.6,701.0 L335.7,700.2 L336.3,699.0 L337.7,698.6 L338.1,697.8 L337.4,696.8 L338.1,695.6 L339.4,695.6 L339.9,694.8 L339.5,693.5 L340.3,692.4 L341.4,692.7 L342.0,692.1 L341.8,690.5 L342.7,689.5 L343.7,690.2 L344.2,689.6 L344.4,687.9 L345.3,687.1 L346.0,688.1 L346.6,687.6 L347.1,685.7 L348.0,685.1 L348.5,686.4 L349.1,686.0 L349.8,684.1 L350.7,683.7 L350.9,685.2 L351.5,685.0 L352.4,683.1 L353.3,682.9 L353.2,684.6 L353.8,684.6 L354.9,682.7 L355.7,682.8 L355.4,684.6 L355.9,684.7 L357.1,683.0 L357.9,683.3 L357.3,685.2 Z" stroke-width="0.9" fill="#fff"/>
<ellipse cx="347.9" cy="701.7" rx="9.52" ry="17.30" transform="rotate(31.0 347.9 701.7)" stroke-width="1.0"/>
<ellipse cx="348.2" cy="700.8" rx="7.44" ry="14.30" transform="rotate(31.0 348.2 700.8)" stroke-width="1.0"/>
<path d="M351.5,687.2 L352.8,687.2 L354.0,687.6 L354.9,688.3 L355.7,689.4 L356.2,690.6 L356.5,692.2 L356.5,693.9 L356.3,695.8 L355.9,697.7 L355.2,699.8 L354.3,701.8 L353.2,703.8 L351.9,705.7 L350.5,707.5 L349.1,709.1 L347.5,710.4 L346.0,711.5 L344.4,712.2 L342.9,712.7 L341.6,712.8 L340.3,712.7 L339.3,712.1 L338.4,711.3 L337.7,710.2" stroke-width="1.0"/>
<path d="M361.3,720.8 L360.5,720.2 L359.8,719.4 L359.3,718.5 L358.9,717.4 L358.7,716.2 L358.6,714.9 L358.7,713.5 L358.9,712.1 L359.3,710.6 L359.8,709.1 L360.5,707.6 L361.3,706.2 L362.2,704.9 L363.2,703.6 L364.2,702.4 L365.4,701.4 L366.5,700.5 L367.7,699.8 L368.9,699.2 L370.1,698.9 L371.2,698.7 L372.3,698.7 L373.3,699.0 L374.2,699.4 L383.8,705.2 L384.6,705.8 L385.3,706.6 L385.8,707.5 L386.2,708.6 L386.4,709.8 L386.5,711.1 L386.4,712.4 L386.2,713.9 L385.8,715.4 L385.3,716.9 L384.6,718.3 L383.8,719.8 L382.9,721.1 L381.9,722.4 L380.9,723.6 L379.7,724.6 L378.6,725.5 L377.4,726.2 L376.2,726.8 L375.0,727.1 L373.9,727.3 L372.8,727.2 L371.9,727.0 L371.0,726.6 Z" stroke-width="1.0" fill="#fff"/>
<ellipse cx="377.4" cy="715.9" rx="7.50" ry="12.50" transform="rotate(31.0 377.4 715.9)" stroke-width="1.0" fill="#fff"/>
<ellipse cx="377.7" cy="716.1" rx="6.09" ry="10.50" transform="rotate(31.0 377.7 716.1)" stroke-width="1.0"/>
<path d="M378.3,705.8 L379.4,705.7 L380.4,705.8 L381.4,706.1 L382.2,706.6 L382.8,707.4 L383.3,708.4 L383.6,709.5 L383.7,710.8 L383.6,712.2 L383.4,713.7 L382.9,715.2 L382.3,716.7 L381.5,718.2 L380.6,719.6 L379.6,720.9 L378.4,722.0 L377.3,723.0 L376.1,723.8 L374.9,724.3 L373.7,724.7 L372.6,724.7 L371.6,724.6 L370.7,724.2 L370.0,723.5" stroke-width="1.0"/>
<path d="M381,708 l3.5,2 -0.5,4" stroke-width="0.9"/>
<path d="M389.9,738.0 L389.1,737.4 L388.5,736.7 L388.0,735.8 L387.7,734.7 L387.5,733.5 L387.4,732.3 L387.5,730.9 L387.8,729.5 L388.1,728.1 L388.7,726.6 L389.3,725.2 L390.1,723.7 L391.0,722.4 L391.9,721.1 L393.0,720.0 L394.1,719.0 L395.2,718.1 L396.4,717.4 L397.5,716.8 L398.6,716.5 L399.7,716.3 L400.8,716.3 L401.7,716.5 L402.5,716.9 L409.8,721.3 L410.6,721.8 L411.2,722.6 L411.7,723.5 L412.0,724.5 L412.2,725.7 L412.3,726.9 L412.2,728.3 L412.0,729.7 L411.6,731.2 L411.0,732.6 L410.4,734.1 L409.6,735.5 L408.7,736.8 L407.8,738.1 L406.7,739.2 L405.6,740.3 L404.5,741.1 L403.3,741.9 L402.2,742.4 L401.1,742.8 L400.0,742.9 L399.0,742.9 L398.0,742.7 L397.2,742.3 Z" stroke-width="1.0" fill="#fff"/>
<ellipse cx="403.5" cy="731.8" rx="7.13" ry="12.30" transform="rotate(31.0 403.5 731.8)" stroke-width="1.0" fill="#fff"/>
<path d="M396.2,745.9 L395.3,745.2 L394.5,744.2 L393.8,743.0 L393.4,741.7 L393.1,740.2 L393.0,738.5 L393.1,736.7 L393.5,734.9 L394.0,733.0 L394.7,731.1 L395.5,729.2 L396.5,727.4 L397.7,725.7 L398.9,724.0 L400.3,722.5 L401.7,721.2 L403.2,720.0 L404.7,719.1 L406.2,718.4 L407.6,717.9 L409.0,717.7 L410.4,717.7 L411.6,718.0 L412.7,718.5 L413.7,719.1 L414.7,719.8 L415.5,720.8 L416.2,722.0 L416.6,723.3 L416.9,724.8 L417.0,726.5 L416.8,728.2 L416.5,730.1 L416.0,732.0 L415.3,733.9 L414.5,735.7 L413.5,737.6 L412.3,739.3 L411.1,741.0 L409.7,742.5 L408.3,743.8 L406.8,744.9 L405.3,745.9 L403.8,746.6 L402.3,747.1 L400.9,747.3 L399.6,747.3 L398.4,747.0 L397.3,746.5 Z" stroke-width="1.15" fill="#fff"/>
<ellipse cx="405.5" cy="732.8" rx="9.28" ry="16.00" transform="rotate(31.0 405.5 732.8)" stroke-width="1.15" fill="#fff"/>
<ellipse cx="405.8" cy="733.0" rx="6.67" ry="11.50" transform="rotate(31.0 405.8 733.0)" stroke-width="0.9"/>
<ellipse cx="406.5" cy="733.3" rx="4.35" ry="7.50" transform="rotate(31.0 406.5 733.3)" stroke-width="0.9"/>
<ellipse cx="408.3" cy="733.9" rx="3.0" ry="3.9" transform="rotate(31 408.3 733.9)" fill="#000"/>
<ellipse cx="404.9" cy="741.3" rx="0.78" ry="1.30" transform="rotate(31.0 404.9 741.3)" stroke-width="0.8"/>
<path d="M402.1,739.9 L401.3,740.0 L400.5,740.0 L399.8,739.8 L399.1,739.5 L398.5,739.1 L398.1,738.5 L397.7,737.8 L397.4,737.0 L397.2,736.1 L397.2,735.2 L397.3,734.1 L397.5,733.0 L397.8,731.9 L398.2,730.8 L398.7,729.6 L399.3,728.6 L400.0,727.5 L400.7,726.6 L401.5,725.7 L402.4,724.9 L403.2,724.2 L404.1,723.6 L405.0,723.2 L405.9,722.9" stroke-width="1.6"/>
<path d="M408.7,742.2 L412.5,744.3" stroke-width="0.9"/>
<path d="M413.6,742.5 L433.3,754.3" stroke-width="0.9"/>
<path d="M411.6,745.9 L431.3,757.8" stroke-width="0.9"/>
<path d="M411.6,745.9 L411.3,745.6 L411.2,745.0 L411.3,744.3 L411.7,743.6 L412.1,743.0 L412.7,742.6 L413.2,742.4 L413.6,742.5" stroke-width="0.9"/>
<path d="M414.8,743.2 L415.2,743.7 L415.1,744.6 L414.7,745.5 L414.1,746.3 L413.4,746.7 L412.8,746.6" stroke-width="0.9"/>
<path d="M416.0,743.9 L416.4,744.4 L416.3,745.3 L415.9,746.2 L415.3,747.0 L414.6,747.4 L414.0,747.4" stroke-width="0.9"/>
<path d="M417.2,744.6 L417.6,745.2 L417.5,746.0 L417.1,746.9 L416.5,747.7 L415.8,748.1 L415.2,748.1" stroke-width="0.9"/>
<path d="M418.4,745.4 L418.8,745.9 L418.7,746.7 L418.3,747.7 L417.7,748.4 L417.0,748.9 L416.4,748.8" stroke-width="0.9"/>
<path d="M419.6,746.1 L420.0,746.6 L419.9,747.4 L419.5,748.4 L418.9,749.2 L418.2,749.6 L417.6,749.5" stroke-width="0.9"/>
<path d="M429.3,761.0 L429.0,760.8 L428.7,760.4 L428.5,760.0 L428.4,759.5 L428.3,759.0 L428.3,758.4 L428.3,757.8 L428.5,757.1 L428.6,756.4 L428.9,755.7 L429.2,755.1 L429.6,754.4 L430.0,753.8 L430.4,753.2 L430.9,752.6 L431.4,752.1 L432.0,751.7 L432.5,751.4 L433.0,751.1 L433.5,750.9 L434.0,750.8 L434.5,750.8 L434.9,750.9 L435.3,751.1 L436.3,751.7 L436.7,751.9 L436.9,752.3 L437.1,752.7 L437.3,753.2 L437.4,753.7 L437.4,754.3 L437.3,754.9 L437.2,755.6 L437.0,756.3 L436.8,757.0 L436.4,757.6 L436.1,758.3 L435.7,758.9 L435.2,759.5 L434.7,760.1 L434.2,760.6 L433.7,761.0 L433.2,761.3 L432.6,761.6 L432.1,761.8 L431.6,761.9 L431.2,761.9 L430.7,761.8 L430.4,761.6 Z" stroke-width="0.9" fill="#fff"/>
<ellipse cx="433.3" cy="756.7" rx="3.19" ry="5.80" transform="rotate(31.0 433.3 756.7)" stroke-width="0.9" fill="#fff"/>
<path d="M430.8,760.9 L430.5,760.7 L430.3,760.4 L430.1,760.0 L430.0,759.6 L429.9,759.2 L429.9,758.7 L430.0,758.1 L430.1,757.6 L430.2,757.0 L430.4,756.4 L430.7,755.8 L431.0,755.3 L431.4,754.7 L431.8,754.2 L432.2,753.8 L432.6,753.3 L433.0,753.0 L433.5,752.7 L433.9,752.5 L434.4,752.3 L434.8,752.2 L435.2,752.2 L435.6,752.3 L435.9,752.4 L438.0,753.7 L438.3,753.9 L438.5,754.2 L438.7,754.6 L438.8,755.0 L438.9,755.4 L438.9,756.0 L438.9,756.5 L438.8,757.0 L438.6,757.6 L438.4,758.2 L438.1,758.8 L437.8,759.3 L437.5,759.9 L437.1,760.4 L436.7,760.9 L436.2,761.3 L435.8,761.6 L435.3,761.9 L434.9,762.2 L434.4,762.3 L434.0,762.4 L433.6,762.4 L433.3,762.3 L432.9,762.2 Z" stroke-width="0.9" fill="#fff"/>
<ellipse cx="435.5" cy="758.0" rx="2.71" ry="4.93" transform="rotate(31.0 435.5 758.0)" stroke-width="0.9" fill="#fff"/>
<path d="M438.8,755.0 L437.8,759.3 L434.4,762.3 L432.1,760.9 L433.2,756.6 L436.5,753.6 Z" stroke-width="0.9" fill="#fff"/>
<ellipse cx="435.5" cy="758.0" rx="1.59" ry="2.90" transform="rotate(31.0 435.5 758.0)" stroke-width="0.7200000000000001"/>
</g>
<g id="spare">
<path d="M310.1,611.1 L309.2,610.4 L308.4,609.6 L307.8,608.6 L307.4,607.4 L307.1,606.0 L307.0,604.6 L307.1,603.1 L307.3,601.5 L307.7,599.8 L308.3,598.2 L309.0,596.6 L309.9,595.0 L310.8,593.5 L311.9,592.1 L313.1,590.8 L314.4,589.7 L315.7,588.8 L317.0,588.0 L318.3,587.4 L319.6,587.0 L320.9,586.9 L322.1,586.9 L323.2,587.2 L324.2,587.6 L334.1,593.6 L334.9,594.2 L335.7,595.1 L336.3,596.1 L336.8,597.3 L337.0,598.6 L337.1,600.1 L337.1,601.6 L336.8,603.2 L336.4,604.8 L335.9,606.5 L335.1,608.1 L334.3,609.7 L333.3,611.2 L332.2,612.6 L331.0,613.8 L329.8,615.0 L328.5,615.9 L327.2,616.7 L325.8,617.3 L324.5,617.7 L323.3,617.8 L322.1,617.8 L321.0,617.5 L319.9,617.0 Z" stroke-width="1.0" fill="#fff"/>
<ellipse cx="327.0" cy="605.3" rx="8.49" ry="13.70" transform="rotate(31.0 327.0 605.3)" stroke-width="1.0" fill="#fff"/>
<ellipse cx="327.4" cy="605.5" rx="6.96" ry="11.60" transform="rotate(31.0 327.4 605.5)" stroke-width="1.0"/>
<path d="M328.1,594.2 L329.4,594.0 L330.5,594.1 L331.6,594.5 L332.5,595.1 L333.3,596.0 L333.8,597.1 L334.2,598.4 L334.3,599.8 L334.3,601.4 L334.0,603.0 L333.5,604.7 L332.8,606.4 L332.0,608.0 L330.9,609.6 L329.8,611.0 L328.5,612.3 L327.2,613.3 L325.9,614.2 L324.5,614.8 L323.2,615.1 L322.0,615.2 L320.9,615.0 L319.8,614.5 L319.0,613.8" stroke-width="1.0"/>
<path d="M330.5,595.5 l3.8,2.2 -0.3,4.5" stroke-width="0.9"/>
<path d="M314.1,842.6 L313.2,842.0 L312.5,841.1 L311.9,840.2 L311.5,839.0 L311.3,837.8 L311.2,836.4 L311.2,835.0 L311.4,833.5 L311.8,832.0 L312.4,830.4 L313.0,828.9 L313.8,827.4 L314.8,826.0 L315.8,824.7 L316.9,823.5 L318.1,822.4 L319.3,821.5 L320.6,820.8 L321.8,820.3 L323.0,819.9 L324.2,819.7 L325.3,819.8 L326.4,820.0 L327.3,820.5 L336.9,826.2 L337.8,826.9 L338.5,827.7 L339.1,828.7 L339.5,829.8 L339.7,831.0 L339.8,832.4 L339.8,833.8 L339.6,835.3 L339.2,836.9 L338.6,838.4 L338.0,839.9 L337.2,841.4 L336.2,842.8 L335.2,844.1 L334.1,845.3 L332.9,846.4 L331.7,847.3 L330.4,848.0 L329.2,848.6 L328.0,848.9 L326.8,849.1 L325.7,849.0 L324.6,848.8 L323.7,848.4 Z" stroke-width="1.0" fill="#fff"/>
<ellipse cx="330.3" cy="837.3" rx="8.00" ry="12.90" transform="rotate(31.0 330.3 837.3)" stroke-width="1.0" fill="#fff"/>
<ellipse cx="330.7" cy="837.5" rx="6.54" ry="10.90" transform="rotate(31.0 330.7 837.5)" stroke-width="1.0"/>
<path d="M331.3,826.8 L332.5,826.7 L333.6,826.8 L334.6,827.1 L335.4,827.7 L336.1,828.5 L336.7,829.6 L337.0,830.8 L337.1,832.1 L337.1,833.6 L336.8,835.1 L336.3,836.7 L335.7,838.3 L334.9,839.8 L333.9,841.3 L332.9,842.6 L331.7,843.8 L330.5,844.8 L329.2,845.6 L327.9,846.1 L326.7,846.5 L325.5,846.5 L324.5,846.3 L323.5,845.9 L322.7,845.2" stroke-width="1.0"/>
<path d="M333.5,828 l3.8,2.2 -0.3,4.5" stroke-width="0.9"/>
</g>
<g id="p18">
<path d="M195.5,583.6 L194.5,582.9 L193.7,581.8 L193.1,580.5 L192.7,579.0 L192.6,577.3 L192.6,575.5 L192.9,573.5 L193.3,571.4 L194.0,569.2 L194.9,567.0 L195.9,564.8 L197.1,562.7 L198.4,560.6 L199.9,558.7 L201.4,556.9 L203.0,555.3 L204.7,553.9 L206.3,552.7 L207.9,551.8 L209.5,551.1 L211.0,550.8 L212.4,550.7 L213.7,550.9 L214.8,551.4 L223.0,556.3 L224.0,557.1 L224.7,558.1 L225.3,559.4 L225.7,560.9 L225.9,562.6 L225.8,564.4 L225.6,566.4 L225.1,568.5 L224.4,570.7 L223.6,572.9 L222.6,575.1 L221.4,577.2 L220.0,579.3 L218.6,581.2 L217.0,583.0 L215.4,584.7 L213.8,586.1 L212.2,587.2 L210.5,588.1 L208.9,588.8 L207.4,589.1 L206.0,589.2 L204.8,589.0 L203.6,588.5 Z" stroke-width="0.01" fill="#fff"/>
<path d="M197.1,582.0 L196.6,581.7 L195.1,583.4 L194.5,582.8 L195.5,580.7 L195.2,580.3 L193.6,581.6 L193.2,580.7 L194.4,578.7 L194.3,578.1 L192.7,578.9 L192.6,577.9 L194.0,576.1 L194.0,575.3 L192.6,575.7 L192.7,574.4 L194.3,572.9 L194.4,572.1 L193.2,571.9 L193.6,570.5 L195.2,569.4 L195.5,568.6 L194.5,567.9 L195.1,566.5 L196.6,565.9 L197.1,565.0 L196.4,563.8 L197.2,562.5 L198.6,562.4 L199.1,561.5 L198.8,560.0 L199.8,558.8 L200.9,559.2 L201.5,558.5 L201.6,556.6 L202.7,555.6 L203.5,556.5 L204.2,555.9 L204.6,553.9 L205.7,553.1 L206.2,554.4 L206.8,554.0 L207.7,551.9 L208.7,551.4 L208.8,553.1 L209.4,552.9 L210.5,550.9 L211.5,550.7 L211.2,552.7 L211.8,552.7 L213.1,550.8 L213.9,551.0 L213.3,553.0" stroke-width="1.0"/>
<path d="M223.4,556.5 L216.7,553.4" stroke-width="1.0"/>
<path d="M203.2,588.3 L193.6,581.6" stroke-width="1.0"/>
<path d="M202.6,587.7 L193.2,580.7" stroke-width="1.0"/>
<path d="M201.7,586.5 L192.7,578.9" stroke-width="1.0"/>
<path d="M201.3,585.6 L192.6,577.9" stroke-width="1.0"/>
<path d="M200.9,583.8 L192.6,575.7" stroke-width="1.0"/>
<path d="M200.7,582.8 L192.7,574.4" stroke-width="1.0"/>
<path d="M200.7,580.5 L193.2,571.9" stroke-width="1.0"/>
<path d="M200.9,579.3 L193.6,570.5" stroke-width="1.0"/>
<path d="M201.3,576.8 L194.5,567.9" stroke-width="1.0"/>
<path d="M201.7,575.4 L195.1,566.5" stroke-width="1.0"/>
<path d="M202.6,572.8 L196.4,563.8" stroke-width="1.0"/>
<path d="M203.3,571.4 L197.2,562.5" stroke-width="1.0"/>
<path d="M204.6,568.7 L198.8,560.0" stroke-width="1.0"/>
<path d="M205.4,567.4 L199.8,558.8" stroke-width="1.0"/>
<path d="M207.0,564.9 L201.6,556.6" stroke-width="1.0"/>
<path d="M207.9,563.7 L202.7,555.6" stroke-width="1.0"/>
<path d="M209.8,561.5 L204.6,553.9" stroke-width="1.0"/>
<path d="M210.8,560.5 L205.7,553.1" stroke-width="1.0"/>
<path d="M212.8,558.8 L207.7,551.9" stroke-width="1.0"/>
<path d="M213.8,558.0 L208.7,551.4" stroke-width="1.0"/>
<path d="M215.8,556.8 L210.5,550.9" stroke-width="1.0"/>
<path d="M216.8,556.3 L211.5,550.7" stroke-width="1.0"/>
<path d="M218.7,555.7 L213.1,550.8" stroke-width="1.0"/>
<path d="M219.6,555.6 L213.9,551.0" stroke-width="1.0"/>
<path d="M221.3,555.7 L215.2,551.6" stroke-width="1.0"/>
<path d="M222.1,555.9 L215.8,552.2" stroke-width="1.0"/>
<path d="M221.8,558.2 L223.4,556.5 L224.0,557.1 L223.0,559.2 L223.3,559.6 L224.9,558.3 L225.3,559.2 L224.0,561.2 L224.2,561.8 L225.7,561.0 L225.9,562.0 L224.4,563.8 L224.4,564.6 L225.9,564.3 L225.7,565.5 L224.2,567.0 L224.0,567.8 L225.3,568.0 L224.9,569.4 L223.3,570.5 L223.0,571.4 L224.0,572.0 L223.3,573.4 L221.8,574.0 L221.4,574.9 L222.0,576.1 L221.2,577.4 L219.9,577.5 L219.3,578.4 L219.6,579.9 L218.7,581.1 L217.5,580.7 L216.9,581.4 L216.8,583.3 L215.8,584.3 L215.0,583.4 L214.3,584.0 L213.8,586.0 L212.8,586.8 L212.3,585.5 L211.6,585.9 L210.8,588.0 L209.8,588.5 L209.7,586.8 L209.0,587.0 L207.9,589.1 L207.0,589.2 L207.3,587.3 L206.7,587.2 L205.3,589.1 L204.5,588.9 L205.2,586.9 L204.8,586.6 L203.2,588.3 L202.6,587.7 L203.6,585.6 L203.3,585.2 L201.7,586.5 L201.3,585.6 L202.6,583.6 L202.4,583.0 L200.9,583.8 L200.7,582.8 L202.2,581.0 L202.2,580.2 L200.7,580.5 L200.9,579.3 L202.4,577.8 L202.6,577.0 L201.3,576.8 L201.7,575.4 L203.3,574.3 L203.6,573.4 L202.6,572.8 L203.3,571.4 L204.8,570.8 L205.2,569.9 L204.6,568.7 L205.4,567.4 L206.7,567.3 L207.3,566.4 L207.0,564.9 L207.9,563.7 L209.1,564.1 L209.7,563.4 L209.8,561.5 L210.8,560.5 L211.6,561.4 L212.3,560.8 L212.8,558.8 L213.8,558.0 L214.3,559.3 L215.0,558.9 L215.8,556.8 L216.8,556.3 L216.9,558.0 L217.6,557.8 L218.7,555.7 L219.6,555.6 L219.3,557.5 L219.9,557.6 L221.3,555.7 L222.1,555.9 L221.4,557.9 Z" stroke-width="1.0" fill="#fff"/>
<ellipse cx="213.3" cy="572.4" rx="7.40" ry="14.80" transform="rotate(31.0 213.3 572.4)" stroke-width="0.9"/>
<ellipse cx="211.5" cy="574.6" rx="2.37" ry="4.30" transform="rotate(31.0 211.5 574.6)" stroke-width="1.3"/>
<ellipse cx="220.1" cy="569.6" rx="0.96" ry="1.60" transform="rotate(31.0 220.1 569.6)" stroke-width="0.9"/>
<ellipse cx="205.3" cy="577.8" rx="0.96" ry="1.60" transform="rotate(31.0 205.3 577.8)" stroke-width="0.9"/>
<path d="M225.5,590.9 L224.9,590.5 L224.5,589.9 L224.1,589.3 L223.8,588.5 L223.6,587.7 L223.6,586.8 L223.6,585.8 L223.7,584.8 L224.0,583.8 L224.4,582.8 L224.8,581.8 L225.3,580.8 L226.0,579.8 L226.6,579.0 L227.4,578.2 L228.2,577.5 L229.0,576.9 L229.8,576.4 L230.6,576.0 L231.5,575.8 L232.3,575.7 L233.0,575.7 L233.7,575.9 L234.3,576.2 L235.6,576.9 L236.2,577.3 L236.7,577.9 L237.0,578.5 L237.3,579.3 L237.5,580.1 L237.6,581.0 L237.5,582.0 L237.4,583.0 L237.1,584.0 L236.8,585.0 L236.3,586.1 L235.8,587.0 L235.2,588.0 L234.5,588.9 L233.7,589.7 L232.9,590.4 L232.1,591.0 L231.3,591.5 L230.5,591.8 L229.6,592.1 L228.9,592.2 L228.1,592.1 L227.4,592.0 L226.8,591.7 Z" stroke-width="1.1" fill="#fff"/>
<ellipse cx="231.2" cy="584.3" rx="5.33" ry="8.60" transform="rotate(31.0 231.2 584.3)" stroke-width="1.1" fill="#fff"/>
<ellipse cx="231.0" cy="584.2" rx="2.60" ry="4.20" transform="rotate(31.0 231.0 584.2)" stroke-width="1.1"/>
<path d="M224.6,582.2 L228.6,584.4 M224.9,585.8 L228.2,586.6" stroke-width="1.0"/>
<path d="M242.2,597.9 L237.3,596.6 L237.9,589.6 L243.3,583.9 L248.2,585.1 L252.0,587.5 L251.5,594.5 L246.1,600.2 Z" stroke-width="1.1" fill="#fff"/>
<path d="M241.2,598.9 L237.3,596.6" stroke-width="1.0"/>
<path d="M241.7,591.9 L237.9,589.6" stroke-width="1.0"/>
<path d="M247.1,586.2 L243.3,583.9" stroke-width="1.0"/>
<path d="M252.0,587.5 L251.5,594.5 L246.1,600.2 L241.2,598.9 L241.7,591.9 L247.1,586.2 Z" stroke-width="1.1" fill="#fff"/>
<ellipse cx="246.6" cy="593.2" rx="3.05" ry="5.08" transform="rotate(31.0 246.6 593.2)" stroke-width="1.0"/>
<ellipse cx="246.9" cy="593.4" rx="2.07" ry="3.44" transform="rotate(31.0 246.9 593.4)" stroke-width="0.9"/>
</g>
<g id="p6">
<path d="M516.7,499.6 C516.9,497 519.5,495 521.8,495.3 L535.5,503 C537.6,504.3 537.8,505.5 537.6,507 L536.2,518.6 C535.8,522 533,530 530.6,534 C529.4,536 527.8,536.2 526,535.3 L523,533.6 C521.6,532.6 521,531.6 520.4,530 L516.9,522.2 Z" fill="#fff" stroke-width="1.15"/>
<path d="M518.4,501 C518.6,498.6 520.4,497.4 522,497.8 L534.4,504.8 C535.8,505.6 535.9,506.4 535.8,507.6 L534.6,518.4 C534.2,521.6 531.6,529 529.4,532.8 C528.6,534 527.6,534.2 526.4,533.6 L524,532.2 C523,531.4 522.4,530.6 521.9,529.2 L518.6,521.8 Z" stroke-width="0.8"/>
<ellipse cx="527.1" cy="513.1" rx="5.46" ry="8.80" transform="rotate(31.0 527.1 513.1)" stroke-width="1.1"/>
<path d="M524.7,520.5 L523.9,520.6 L523.1,520.6 L522.4,520.4 L521.8,520.1 L521.2,519.7 L520.7,519.2 L520.3,518.5 L520.0,517.7 L519.9,516.9 L519.8,515.9 L519.8,515.0 L520.0,513.9 L520.2,512.9 L520.6,511.8 L521.1,510.8 L521.6,509.8 L522.3,508.8 L523.0,507.9 L523.7,507.1 L524.5,506.4 L525.3,505.8 L526.2,505.3 L527.0,504.9 L527.9,504.7" stroke-width="0.9"/>
<ellipse cx="522.3" cy="501.4" rx="1.10" ry="1.70" transform="rotate(31.0 522.3 501.4)" stroke-width="0.9"/>
<ellipse cx="527.1" cy="531.2" rx="1.10" ry="1.70" transform="rotate(31.0 527.1 531.2)" stroke-width="0.9"/>
<path d="M521.5,505.0 L525.8,508.0" stroke-width="0.8"/>
<path d="M525.0,521.3 L525.6,529.0" stroke-width="0.8"/>
<path d="M532.3,519.5 L529.0,529.5" stroke-width="0.8"/>
<path d="M520.4,551.3 L524.7,553.9" stroke-width="0.9"/>
<path d="M518.6,554.3 L522.9,556.8" stroke-width="0.9"/>
<path d="M518.6,554.3 L518.4,554.0 L518.3,553.5 L518.4,552.9 L518.7,552.3 L519.1,551.8 L519.6,551.4 L520.0,551.3 L520.4,551.3" stroke-width="0.9"/>
<path d="M521.6,552.1 L521.9,552.5 L521.8,553.2 L521.5,554.0 L521.0,554.7 L520.3,555.0 L519.8,555.0" stroke-width="0.9"/>
<path d="M522.8,552.8 L523.1,553.2 L523.0,553.9 L522.7,554.7 L522.2,555.4 L521.5,555.7 L521.0,555.7" stroke-width="0.9"/>
<path d="M520.9,560.2 L520.6,559.9 L520.3,559.6 L520.1,559.2 L520.0,558.7 L519.9,558.2 L519.9,557.6 L519.9,557.0 L520.1,556.4 L520.2,555.7 L520.5,555.1 L520.8,554.4 L521.1,553.8 L521.5,553.2 L522.0,552.6 L522.5,552.1 L522.9,551.6 L523.4,551.2 L524.0,550.9 L524.5,550.6 L525.0,550.4 L525.4,550.3 L525.9,550.3 L526.3,550.4 L526.7,550.6 L527.7,551.2 L528.0,551.4 L528.3,551.8 L528.5,552.2 L528.6,552.6 L528.7,553.2 L528.7,553.7 L528.7,554.3 L528.5,555.0 L528.4,555.6 L528.1,556.3 L527.8,556.9 L527.5,557.6 L527.1,558.2 L526.6,558.8 L526.1,559.3 L525.7,559.8 L525.2,560.2 L524.6,560.5 L524.1,560.8 L523.6,560.9 L523.2,561.0 L522.7,561.0 L522.3,561.0 L521.9,560.8 Z" stroke-width="0.9" fill="#fff"/>
<ellipse cx="524.8" cy="556.0" rx="3.08" ry="5.60" transform="rotate(31.0 524.8 556.0)" stroke-width="0.9" fill="#fff"/>
<path d="M522.4,560.1 L522.1,559.9 L521.9,559.6 L521.7,559.2 L521.6,558.9 L521.5,558.4 L521.5,557.9 L521.5,557.4 L521.6,556.9 L521.8,556.3 L522.0,555.7 L522.3,555.2 L522.6,554.6 L522.9,554.1 L523.3,553.6 L523.7,553.2 L524.1,552.8 L524.5,552.4 L525.0,552.2 L525.4,551.9 L525.8,551.8 L526.2,551.7 L526.6,551.7 L527.0,551.8 L527.3,551.9 L529.8,553.5 L530.1,553.7 L530.3,553.9 L530.5,554.3 L530.6,554.7 L530.7,555.1 L530.7,555.6 L530.7,556.1 L530.6,556.7 L530.4,557.2 L530.2,557.8 L529.9,558.3 L529.6,558.9 L529.3,559.4 L528.9,559.9 L528.5,560.3 L528.1,560.7 L527.7,561.1 L527.2,561.4 L526.8,561.6 L526.4,561.7 L526.0,561.8 L525.6,561.8 L525.2,561.8 L524.9,561.6 Z" stroke-width="0.9" fill="#fff"/>
<ellipse cx="527.4" cy="557.5" rx="2.62" ry="4.76" transform="rotate(31.0 527.4 557.5)" stroke-width="0.9" fill="#fff"/>
<path d="M530.6,554.7 L529.6,558.9 L526.4,561.7 L524.1,560.4 L525.1,556.2 L528.4,553.3 Z" stroke-width="0.9" fill="#fff"/>
<ellipse cx="527.4" cy="557.5" rx="1.54" ry="2.80" transform="rotate(31.0 527.4 557.5)" stroke-width="0.7200000000000001"/>
<path d="M539.2,559.3 L537.5,557.9 L536.1,556.0 L535.0,553.6 L534.4,550.8 L534.1,547.6 L534.3,544.2 L534.8,540.4 L535.7,536.5 L537.0,532.4 L538.7,528.2 L540.7,524.1 L542.9,520.1 L545.4,516.2 L548.2,512.5 L551.0,509.1 L554.0,506.0 L557.1,503.4 L560.1,501.1 L563.1,499.4 L566.1,498.1 L568.8,497.4 L571.4,497.2 L573.7,497.5 L575.8,498.4 L584.4,503.6 L586.1,505.0 L587.5,506.9 L588.6,509.2 L589.2,512.0 L589.5,515.2 L589.4,518.7 L588.8,522.4 L587.9,526.4 L586.6,530.5 L584.9,534.6 L583.0,538.7 L580.7,542.8 L578.2,546.7 L575.5,550.4 L572.6,553.8 L569.6,556.8 L566.6,559.5 L563.5,561.7 L560.5,563.5 L557.6,564.7 L554.8,565.5 L552.2,565.7 L549.9,565.3 L547.8,564.4 Z" stroke-width="0.01" fill="#fff"/>
<path d="M541.5,558.2 L541.1,558.0 L539.7,559.6 L539.2,559.2 L539.9,557.3 L539.5,557.1 L538.2,558.5 L537.7,558.0 L538.5,556.1 L538.2,555.8 L536.8,557.1 L536.4,556.5 L537.4,554.6 L537.1,554.1 L535.7,555.3 L535.4,554.6 L536.5,552.7 L536.3,552.2 L534.9,553.2 L534.7,552.3 L535.9,550.6 L535.8,550.0 L534.4,550.7 L534.3,549.8 L535.5,548.1 L535.5,547.5 L534.1,548.0 L534.1,547.0 L535.5,545.4 L535.5,544.7 L534.2,545.1 L534.3,544.0 L535.7,542.6 L535.8,541.8 L534.5,541.9 L534.7,540.8 L536.1,539.5 L536.3,538.7 L535.2,538.6 L535.5,537.4 L536.9,536.3 L537.1,535.5 L536.1,535.2 L536.5,534.0 L537.9,533.0 L538.2,532.2 L537.3,531.7 L537.8,530.4 L539.2,529.7 L539.5,528.8 L538.7,528.1 L539.3,526.9 L540.6,526.3 L541.0,525.5 L540.4,524.6 L541.1,523.4 L542.3,523.0 L542.8,522.2 L542.3,521.1 L543.0,519.9 L544.2,519.8 L544.7,519.0 L544.4,517.7 L545.2,516.6 L546.3,516.6 L546.8,515.9 L546.7,514.5 L547.5,513.4 L548.5,513.7 L549.1,512.9 L549.0,511.4 L549.9,510.4 L550.8,510.9 L551.4,510.2 L551.5,508.5 L552.4,507.6 L553.2,508.3 L553.8,507.7 L554.1,506.0 L555.0,505.1 L555.7,506.0 L556.3,505.5 L556.7,503.6 L557.6,502.9 L558.1,504.0 L558.7,503.5 L559.3,501.7 L560.3,501.0 L560.6,502.3 L561.2,501.9 L561.9,500.0 L562.8,499.5 L563.0,500.9 L563.6,500.6 L564.5,498.7 L565.4,498.4 L565.4,499.9 L566.0,499.7 L566.9,497.8 L567.8,497.6 L567.6,499.3 L568.2,499.2 L569.3,497.3 L570.1,497.2 L569.8,499.0 L570.3,499.0 L571.5,497.2 L572.2,497.2 L571.8,499.1 L572.2,499.2 L573.5,497.5 L574.2,497.7 L573.6,499.5 L574.0,499.7 L575.3,498.1" stroke-width="1.15"/>
<path d="M584.7,503.8 L578.2,500.6" stroke-width="1.15"/>
<path d="M547.5,564.2 L536.8,557.1" stroke-width="1.15"/>
<path d="M547.0,563.8 L536.4,556.5" stroke-width="1.15"/>
<path d="M546.0,563.0 L535.7,555.3" stroke-width="1.15"/>
<path d="M545.6,562.5 L535.4,554.6" stroke-width="1.15"/>
<path d="M544.8,561.4 L534.9,553.2" stroke-width="1.15"/>
<path d="M544.4,560.7 L534.7,552.3" stroke-width="1.15"/>
<path d="M543.8,559.4 L534.4,550.7" stroke-width="1.15"/>
<path d="M543.6,558.6 L534.3,549.8" stroke-width="1.15"/>
<path d="M543.2,557.1 L534.1,548.0" stroke-width="1.15"/>
<path d="M543.0,556.3 L534.1,547.0" stroke-width="1.15"/>
<path d="M542.8,554.6 L534.2,545.1" stroke-width="1.15"/>
<path d="M542.7,553.6 L534.3,544.0" stroke-width="1.15"/>
<path d="M542.7,551.7 L534.5,541.9" stroke-width="1.15"/>
<path d="M542.7,550.7 L534.7,540.8" stroke-width="1.15"/>
<path d="M542.9,548.7 L535.2,538.6" stroke-width="1.15"/>
<path d="M543.0,547.6 L535.5,537.4" stroke-width="1.15"/>
<path d="M543.4,545.5 L536.1,535.2" stroke-width="1.15"/>
<path d="M543.6,544.3 L536.5,534.0" stroke-width="1.15"/>
<path d="M544.2,542.1 L537.3,531.7" stroke-width="1.15"/>
<path d="M544.5,540.9 L537.8,530.4" stroke-width="1.15"/>
<path d="M545.2,538.6 L538.7,528.1" stroke-width="1.15"/>
<path d="M545.7,537.4 L539.3,526.9" stroke-width="1.15"/>
<path d="M546.6,535.1 L540.4,524.6" stroke-width="1.15"/>
<path d="M547.1,533.8 L541.1,523.4" stroke-width="1.15"/>
<path d="M548.1,531.5 L542.3,521.1" stroke-width="1.15"/>
<path d="M548.7,530.3 L543.0,519.9" stroke-width="1.15"/>
<path d="M549.9,528.0 L544.4,517.7" stroke-width="1.15"/>
<path d="M550.6,526.8 L545.2,516.6" stroke-width="1.15"/>
<path d="M551.9,524.5 L546.7,514.5" stroke-width="1.15"/>
<path d="M552.6,523.4 L547.5,513.4" stroke-width="1.15"/>
<path d="M554.1,521.2 L549.0,511.4" stroke-width="1.15"/>
<path d="M554.9,520.1 L549.9,510.4" stroke-width="1.15"/>
<path d="M556.4,518.1 L551.5,508.5" stroke-width="1.15"/>
<path d="M557.2,517.0 L552.4,507.6" stroke-width="1.15"/>
<path d="M558.8,515.1 L554.1,506.0" stroke-width="1.15"/>
<path d="M559.7,514.1 L555.0,505.1" stroke-width="1.15"/>
<path d="M561.4,512.4 L556.7,503.6" stroke-width="1.15"/>
<path d="M562.3,511.5 L557.6,502.9" stroke-width="1.15"/>
<path d="M564.0,509.9 L559.3,501.7" stroke-width="1.15"/>
<path d="M564.9,509.1 L560.3,501.0" stroke-width="1.15"/>
<path d="M566.6,507.8 L561.9,500.0" stroke-width="1.15"/>
<path d="M567.5,507.1 L562.8,499.5" stroke-width="1.15"/>
<path d="M569.2,505.9 L564.5,498.7" stroke-width="1.15"/>
<path d="M570.1,505.4 L565.4,498.4" stroke-width="1.15"/>
<path d="M571.8,504.5 L566.9,497.8" stroke-width="1.15"/>
<path d="M572.7,504.0 L567.8,497.6" stroke-width="1.15"/>
<path d="M574.3,503.4 L569.3,497.3" stroke-width="1.15"/>
<path d="M575.2,503.1 L570.1,497.2" stroke-width="1.15"/>
<path d="M576.7,502.7 L571.5,497.2" stroke-width="1.15"/>
<path d="M577.5,502.5 L572.2,497.2" stroke-width="1.15"/>
<path d="M579.0,502.3 L573.5,497.5" stroke-width="1.15"/>
<path d="M579.7,502.3 L574.2,497.7" stroke-width="1.15"/>
<path d="M581.1,502.4 L575.3,498.1" stroke-width="1.15"/>
<path d="M581.8,502.6 L575.9,498.5" stroke-width="1.15"/>
<path d="M583.0,502.9 L576.9,499.2" stroke-width="1.15"/>
<path d="M583.6,503.2 L577.4,499.7" stroke-width="1.15"/>
<path d="M583.4,505.3 L584.7,503.8 L585.2,504.2 L584.5,506.1 L584.8,506.4 L586.2,505.0 L586.6,505.5 L585.7,507.5 L586.0,507.8 L587.4,506.6 L587.8,507.3 L586.7,509.2 L586.9,509.6 L588.4,508.6 L588.6,509.4 L587.5,511.2 L587.6,511.7 L589.0,510.9 L589.2,511.7 L588.0,513.5 L588.0,514.1 L589.4,513.4 L589.5,514.4 L588.2,516.0 L588.2,516.7 L589.5,516.3 L589.5,517.3 L588.1,518.8 L588.0,519.6 L589.3,519.3 L589.2,520.4 L587.8,521.8 L587.6,522.6 L588.8,522.5 L588.6,523.7 L587.1,524.9 L587.0,525.7 L588.0,525.9 L587.7,527.1 L586.3,528.2 L586.0,529.0 L587.0,529.4 L586.5,530.6 L585.1,531.5 L584.8,532.3 L585.6,532.9 L585.1,534.2 L583.8,534.8 L583.4,535.7 L584.1,536.5 L583.5,537.7 L582.2,538.2 L581.7,539.0 L582.3,540.0 L581.6,541.2 L580.4,541.5 L579.9,542.3 L580.3,543.5 L579.6,544.6 L578.4,544.7 L577.9,545.4 L578.1,546.8 L577.3,547.9 L576.3,547.7 L575.7,548.5 L575.8,549.9 L575.0,551.0 L574.0,550.6 L573.4,551.3 L573.4,552.9 L572.5,553.9 L571.6,553.3 L571.0,553.9 L570.8,555.6 L569.9,556.5 L569.2,555.7 L568.6,556.3 L568.2,558.1 L567.3,558.9 L566.7,557.9 L566.1,558.4 L565.6,560.2 L564.7,560.9 L564.3,559.7 L563.6,560.2 L563.0,562.1 L562.1,562.6 L561.8,561.3 L561.2,561.6 L560.4,563.5 L559.5,564.0 L559.4,562.5 L558.8,562.7 L557.9,564.6 L557.0,564.9 L557.1,563.3 L556.5,563.5 L555.5,565.3 L554.7,565.5 L554.9,563.8 L554.4,563.8 L553.2,565.7 L552.5,565.7 L552.8,563.9 L552.3,563.8 L551.1,565.6 L550.4,565.4 L550.9,563.6 L550.5,563.5 L549.2,565.1 L548.6,564.8 L549.2,562.9 L548.8,562.7 L547.5,564.2 L547.0,563.8 L547.7,561.9 L547.4,561.6 L546.0,563.0 L545.6,562.5 L546.5,560.5 L546.2,560.2 L544.8,561.4 L544.4,560.7 L545.5,558.8 L545.3,558.4 L543.8,559.4 L543.6,558.6 L544.7,556.8 L544.6,556.3 L543.2,557.1 L543.0,556.3 L544.2,554.5 L544.2,553.9 L542.8,554.6 L542.7,553.6 L544.0,552.0 L544.0,551.3 L542.7,551.7 L542.7,550.7 L544.1,549.2 L544.2,548.4 L542.9,548.7 L543.0,547.6 L544.4,546.2 L544.6,545.4 L543.4,545.5 L543.6,544.3 L545.1,543.1 L545.2,542.3 L544.2,542.1 L544.5,540.9 L545.9,539.8 L546.2,539.0 L545.2,538.6 L545.7,537.4 L547.1,536.5 L547.4,535.7 L546.6,535.1 L547.1,533.8 L548.4,533.2 L548.8,532.3 L548.1,531.5 L548.7,530.3 L550.0,529.8 L550.5,529.0 L549.9,528.0 L550.6,526.8 L551.8,526.5 L552.3,525.7 L551.9,524.5 L552.6,523.4 L553.8,523.3 L554.3,522.6 L554.1,521.2 L554.9,520.1 L555.9,520.3 L556.5,519.5 L556.4,518.1 L557.2,517.0 L558.2,517.4 L558.8,516.7 L558.8,515.1 L559.7,514.1 L560.6,514.7 L561.2,514.1 L561.4,512.4 L562.3,511.5 L563.0,512.3 L563.6,511.7 L564.0,509.9 L564.9,509.1 L565.5,510.1 L566.1,509.6 L566.6,507.8 L567.5,507.1 L567.9,508.3 L568.6,507.8 L569.2,505.9 L570.1,505.4 L570.4,506.7 L571.0,506.4 L571.8,504.5 L572.7,504.0 L572.8,505.5 L573.4,505.3 L574.3,503.4 L575.2,503.1 L575.1,504.7 L575.7,504.5 L576.7,502.7 L577.5,502.5 L577.3,504.2 L577.8,504.2 L579.0,502.3 L579.7,502.3 L579.4,504.1 L579.9,504.2 L581.1,502.4 L581.8,502.6 L581.3,504.4 L581.7,504.5 L583.0,502.9 L583.6,503.2 L583.0,505.1 Z" stroke-width="1.15" fill="#fff"/>
<ellipse cx="565.9" cy="533.2" rx="15.65" ry="32.60" transform="rotate(31.0 565.9 533.2)" stroke-width="1.0"/>
<ellipse cx="565.6" cy="533.4" rx="14.02" ry="29.20" transform="rotate(31.0 565.6 533.4)" stroke-width="1.0"/>
<path d="M557.9,557.2 L555.7,557.8 L553.7,558.0 L551.8,557.7 L550.2,557.0 L548.8,555.9 L547.7,554.4 L546.9,552.5 L546.4,550.3 L546.1,547.8 L546.3,545.1 L546.7,542.1 L547.4,539.0 L548.4,535.8 L549.7,532.5 L551.3,529.3 L553.1,526.1 L555.1,523.0 L557.2,520.1 L559.5,517.4 L561.8,515.0 L564.2,512.9 L566.7,511.1 L569.0,509.7 L571.3,508.8" stroke-width="1.0"/>
<ellipse cx="565.2" cy="533.6" rx="12.00" ry="25.00" transform="rotate(31.0 565.2 533.6)" stroke-width="0.9"/>
<ellipse cx="565.0" cy="534.0" rx="8.63" ry="16.60" transform="rotate(31.0 565.0 534.0)" stroke-width="1.0"/>
<ellipse cx="564.4" cy="533.6" rx="5.17" ry="9.40" transform="rotate(31.0 564.4 533.6)" stroke-width="1.1"/>
<path d="M561.6,541.5 L560.8,541.7 L560.1,541.7 L559.4,541.5 L558.8,541.3 L558.2,540.8 L557.8,540.3 L557.4,539.6 L557.2,538.8 L557.1,538.0 L557.0,537.0 L557.1,536.0 L557.3,534.9 L557.7,533.8 L558.1,532.7 L558.6,531.6 L559.2,530.5 L559.8,529.5 L560.6,528.5 L561.4,527.7 L562.2,526.9 L563.0,526.2 L563.9,525.6 L564.7,525.2 L565.6,524.9" stroke-width="0.8"/>
<ellipse cx="569.4" cy="522.3" rx="0.78" ry="1.30" transform="rotate(31.0 569.4 522.3)" stroke-width="0.9"/>
<ellipse cx="573.1" cy="532.4" rx="0.78" ry="1.30" transform="rotate(31.0 573.1 532.4)" stroke-width="0.9"/>
<ellipse cx="555.4" cy="541.9" rx="0.78" ry="1.30" transform="rotate(31.0 555.4 541.9)" stroke-width="0.9"/>
<ellipse cx="559.0" cy="526.5" rx="0.78" ry="1.30" transform="rotate(31.0 559.0 526.5)" stroke-width="0.9"/>
<path d="M560,514.2 c1.5,-1.8 4.2,-2.5 5.6,-1.4 c1.2,1.0 0.6,3.2 -1.4,5.0 c-1.6,1.4 -3.6,1.8 -4.6,1.0 c-0.9,-0.8 -0.7,-3.0 0.4,-4.6 Z" stroke-width="0.9"/>
<path d="M575.6,515.6 c1.6,-0.6 3.6,0.8 4.0,3.2 c0.4,2.6 -0.6,5.4 -2.2,6.2 c-1.4,0.6 -2.8,-0.8 -3.2,-3.2 c-0.4,-2.6 0,-5.6 1.4,-6.2 Z" stroke-width="0.9"/>
<path d="M549.2,550.0 c1.4,-1.6 4.4,-1.8 5.6,-0.6 c1.0,1.2 0.2,3.6 -1.6,5.2 c-1.6,1.4 -3.8,1.6 -4.8,0.6 c-0.9,-1.0 -0.5,-3.6 0.8,-5.2 Z" stroke-width="0.9"/>
<path d="M582.4,548.2 C586,540 596,529.5 607.6,525.8 L612.8,526.9 L609.3,533.8 C600,535 590,543 584.9,549.3 Z" fill="#fff" stroke-width="1.1"/>
<path d="M608.7,537.6 L618.9,532.1 C622.5,537 623,548 620.1,553.9 L609.3,552.2 Z" fill="#fff" stroke-width="1.1"/>
<path d="M611.6,536.2 C613.3,541 613.4,547.5 612.2,552.6 M614.0,534.8 C616.0,540 616.2,547.5 615.0,553.0 M616.6,533.4 C618.8,539 619.0,547.5 617.8,553.4" stroke-width="0.8"/>
<path d="M584.9,549.3 C590,543 600,535 609.3,533.8 C610.5,538 610.6,546 609.3,552.2 C607,559 598,566.5 588.5,568.5 L584.5,567.5 C581.5,565 581.0,556 582.4,551.5 Z" fill="#fff" stroke-width="1.1"/>
<ellipse cx="595.7" cy="551.6" rx="5.03" ry="7.40" transform="rotate(31.0 595.7 551.6)" stroke-width="1.1"/>
<ellipse cx="601.3" cy="540.6" rx="1.2" ry="1.6" fill="#000" stroke-width="0.6"/>
<ellipse cx="604.7" cy="551.2" rx="1.2" ry="1.6" fill="#000" stroke-width="0.6"/>
<ellipse cx="586.8" cy="560.5" rx="1.2" ry="1.6" fill="#000" stroke-width="0.6"/>
<path d="M584.8,570.8 L591.1,573.0 L587.1,582.1 L580.2,578.2 Z" fill="#fff" stroke-width="1.1"/>
<path d="M585.5,567.8 L585.0,570.8" stroke-width="1.0"/>
<path d="M589.2,568.3 L590.4,572.6" stroke-width="1.0"/>
<path d="M606.4,553.7 L623.5,561.7" stroke-width="0.9" stroke-dasharray="3 1.2"/>
<ellipse cx="628.0" cy="564.0" rx="3.74" ry="4.40" transform="rotate(31.0 628.0 564.0)" stroke-width="1.8"/>
<ellipse cx="628.2" cy="564.1" rx="1.76" ry="2.20" transform="rotate(31.0 628.2 564.1)" stroke-width="0.9"/>
<path d="M622.2,560.8 L624.4,562.0" stroke-width="1.6"/>
<path d="M496.0,469.8 c0.4,-1.2 1.6,-1.6 2.8,-1.2 l5.2,2.2 c1.0,0.5 1.2,1.4 1.0,2.4 l-0.6,2.4 c-0.4,1.0 -1.4,1.4 -2.6,1.0 l-5.2,-2.2 c-1.0,-0.5 -1.4,-1.4 -1.2,-2.4 Z" fill="#fff" stroke-width="1.0"/>
<path d="M496.2,472.2 l7.6,3.2" stroke-width="0.8"/>
</g>
<g id="cam">
<path d="M335.8,417.6 L335.2,417.1 L334.6,416.5 L334.1,415.7 L333.8,414.7 L333.6,413.6 L333.6,412.5 L333.6,411.2 L333.8,409.9 L334.2,408.5 L334.7,407.1 L335.2,405.7 L335.9,404.4 L336.7,403.1 L337.6,401.9 L338.5,400.7 L339.5,399.7 L340.5,398.9 L341.6,398.1 L342.6,397.6 L343.6,397.2 L344.6,397.0 L345.5,396.9 L346.4,397.1 L347.2,397.4 L353.3,400.8 L353.9,401.3 L354.5,401.9 L355.0,402.8 L355.3,403.7 L355.5,404.8 L355.6,406.0 L355.5,407.2 L355.3,408.5 L354.9,409.9 L354.5,411.3 L353.9,412.7 L353.2,414.0 L352.4,415.3 L351.5,416.5 L350.6,417.7 L349.6,418.7 L348.6,419.5 L347.5,420.3 L346.5,420.8 L345.5,421.2 L344.5,421.5 L343.6,421.5 L342.7,421.4 L342.0,421.0 Z" stroke-width="1.0" fill="#fff"/>
<ellipse cx="347.6" cy="410.9" rx="6.38" ry="11.60" transform="rotate(29.2 347.6 410.9)" stroke-width="1.0" fill="#fff"/>
<path d="M348.8,398.4 L349.6,398.8 L350.3,399.4 L350.8,400.1 L351.2,401.1 L351.5,402.1 L351.6,403.4 L351.6,404.7 L351.4,406.1 L351.1,407.5 L350.6,409.0 L350.0,410.4 L349.3,411.8 L348.4,413.2 L347.5,414.5 L346.5,415.6 L345.5,416.7 L344.4,417.6 L343.3,418.3 L342.2,418.8 L341.1,419.2 L340.1,419.3 L339.2,419.3 L338.3,419.0 L337.6,418.5" stroke-width="0.9"/>
<path d="M351.0,399.6 L351.8,400.0 L352.5,400.6 L353.0,401.4 L353.4,402.3 L353.7,403.4 L353.8,404.6 L353.8,405.9 L353.6,407.3 L353.2,408.7 L352.8,410.2 L352.2,411.6 L351.4,413.1 L350.6,414.4 L349.7,415.7 L348.7,416.9 L347.6,417.9 L346.6,418.8 L345.5,419.5 L344.4,420.0 L343.3,420.4 L342.3,420.5 L341.4,420.5 L340.5,420.2 L339.7,419.8" stroke-width="0.9"/>
<path d="M344.0,417.5 L343.5,417.1 L343.1,416.7 L342.9,416.2 L342.6,415.6 L342.5,414.9 L342.5,414.1 L342.5,413.3 L342.7,412.4 L342.9,411.6 L343.2,410.7 L343.6,409.8 L344.0,408.9 L344.5,408.1 L345.1,407.3 L345.7,406.6 L346.3,405.9 L347.0,405.3 L347.7,404.9 L348.3,404.5 L349.0,404.2 L349.6,404.1 L350.2,404.1 L350.8,404.2 L351.3,404.4 L356.5,407.3 L356.9,407.6 L357.3,408.0 L357.6,408.6 L357.8,409.2 L357.9,409.9 L358.0,410.6 L357.9,411.5 L357.8,412.3 L357.6,413.2 L357.3,414.1 L356.9,415.0 L356.4,415.9 L355.9,416.7 L355.4,417.5 L354.8,418.2 L354.1,418.9 L353.5,419.4 L352.8,419.9 L352.1,420.3 L351.5,420.5 L350.8,420.7 L350.2,420.7 L349.7,420.6 L349.2,420.4 Z" stroke-width="1.0" fill="#fff"/>
<ellipse cx="352.8" cy="413.8" rx="4.12" ry="7.50" transform="rotate(29.2 352.8 413.8)" stroke-width="1.0" fill="#fff"/>
<path d="M348.3,422.0 L347.7,421.5 L347.1,420.9 L346.7,420.1 L346.4,419.2 L346.2,418.2 L346.2,417.1 L346.3,416.0 L346.5,414.7 L346.8,413.5 L347.2,412.2 L347.8,410.9 L348.4,409.6 L349.1,408.4 L349.9,407.3 L350.8,406.2 L351.7,405.3 L352.7,404.5 L353.6,403.8 L354.6,403.3 L355.6,402.9 L356.5,402.7 L357.3,402.7 L358.1,402.8 L358.8,403.1 L364.1,406.0 L364.7,406.5 L365.2,407.1 L365.7,407.9 L366.0,408.7 L366.2,409.7 L366.2,410.8 L366.1,412.0 L365.9,413.3 L365.6,414.5 L365.2,415.8 L364.6,417.1 L364.0,418.4 L363.3,419.6 L362.5,420.7 L361.6,421.7 L360.7,422.7 L359.7,423.5 L358.8,424.2 L357.8,424.7 L356.8,425.1 L355.9,425.3 L355.1,425.3 L354.3,425.2 L353.5,424.9 Z" stroke-width="1.0" fill="#fff"/>
<ellipse cx="358.8" cy="415.5" rx="5.94" ry="10.80" transform="rotate(29.2 358.8 415.5)" stroke-width="1.0" fill="#fff"/>
<path d="M354.4,423.3 L354.0,423.0 L353.6,422.6 L353.3,422.0 L353.1,421.4 L353.0,420.7 L353.0,420.0 L353.0,419.2 L353.1,418.3 L353.4,417.4 L353.7,416.5 L354.0,415.6 L354.5,414.8 L355.0,413.9 L355.6,413.1 L356.2,412.4 L356.8,411.8 L357.5,411.2 L358.1,410.7 L358.8,410.4 L359.5,410.1 L360.1,410.0 L360.7,409.9 L361.2,410.0 L361.7,410.2 L363.5,411.2 L363.9,411.5 L364.3,411.9 L364.6,412.5 L364.8,413.1 L364.9,413.8 L365.0,414.5 L364.9,415.4 L364.8,416.2 L364.6,417.1 L364.3,418.0 L363.9,418.9 L363.4,419.8 L362.9,420.6 L362.4,421.4 L361.8,422.1 L361.1,422.8 L360.5,423.3 L359.8,423.8 L359.1,424.2 L358.5,424.4 L357.8,424.6 L357.2,424.6 L356.7,424.5 L356.2,424.3 Z" stroke-width="1.0" fill="#fff"/>
<ellipse cx="359.8" cy="417.7" rx="4.12" ry="7.50" transform="rotate(29.2 359.8 417.7)" stroke-width="1.0" fill="#fff"/>
<path d="M354.0,428.2 L353.3,427.8 L352.8,427.1 L352.4,426.4 L352.1,425.5 L351.9,424.5 L351.9,423.4 L351.9,422.2 L352.1,421.0 L352.4,419.7 L352.9,418.4 L353.4,417.2 L354.1,415.9 L354.8,414.7 L355.6,413.6 L356.5,412.5 L357.4,411.6 L358.3,410.8 L359.3,410.1 L360.3,409.5 L361.2,409.2 L362.1,409.0 L363.0,408.9 L363.8,409.1 L364.5,409.4 L369.8,412.3 L370.4,412.8 L370.9,413.4 L371.3,414.1 L371.6,415.0 L371.8,416.0 L371.9,417.1 L371.8,418.3 L371.6,419.5 L371.3,420.8 L370.9,422.1 L370.3,423.4 L369.7,424.6 L368.9,425.8 L368.1,427.0 L367.3,428.0 L366.3,428.9 L365.4,429.8 L364.4,430.4 L363.5,431.0 L362.5,431.3 L361.6,431.5 L360.7,431.6 L359.9,431.4 L359.2,431.1 Z" stroke-width="1.0" fill="#fff"/>
<ellipse cx="364.5" cy="421.7" rx="5.94" ry="10.80" transform="rotate(29.2 364.5 421.7)" stroke-width="1.0" fill="#fff"/>
<path d="M361.4,427.3 L360.9,427.0 L360.5,426.6 L360.2,426.0 L360.0,425.4 L359.9,424.7 L359.9,423.9 L359.9,423.1 L360.1,422.2 L360.3,421.3 L360.6,420.4 L361.0,419.5 L361.4,418.6 L361.9,417.8 L362.5,417.0 L363.1,416.2 L363.8,415.6 L364.4,415.0 L365.1,414.5 L365.8,414.2 L366.5,413.9 L367.1,413.8 L367.7,413.7 L368.3,413.8 L368.8,414.0 L390.6,426.2 L391.0,426.6 L391.4,427.0 L391.7,427.5 L391.9,428.1 L392.1,428.8 L392.1,429.6 L392.0,430.4 L391.9,431.3 L391.7,432.2 L391.4,433.1 L391.0,434.0 L390.5,434.9 L390.0,435.8 L389.5,436.6 L388.8,437.3 L388.2,438.0 L387.5,438.5 L386.9,439.0 L386.2,439.4 L385.5,439.6 L384.9,439.8 L384.3,439.8 L383.7,439.7 L383.2,439.5 Z" stroke-width="1.0" fill="#fff"/>
<ellipse cx="386.9" cy="432.9" rx="4.18" ry="7.60" transform="rotate(29.2 386.9 432.9)" stroke-width="1.0" fill="#fff"/>
<path d="M382.2,441.2 L381.6,440.8 L381.0,440.2 L380.6,439.4 L380.3,438.5 L380.1,437.5 L380.1,436.4 L380.2,435.3 L380.4,434.0 L380.7,432.8 L381.1,431.5 L381.6,430.2 L382.3,428.9 L383.0,427.7 L383.8,426.6 L384.7,425.5 L385.6,424.6 L386.6,423.8 L387.5,423.1 L388.5,422.6 L389.4,422.2 L390.4,422.0 L391.2,422.0 L392.0,422.1 L392.7,422.4 L398.0,425.3 L398.6,425.8 L399.1,426.4 L399.6,427.1 L399.9,428.0 L400.1,429.0 L400.1,430.1 L400.0,431.3 L399.8,432.5 L399.5,433.8 L399.1,435.1 L398.5,436.4 L397.9,437.6 L397.2,438.9 L396.4,440.0 L395.5,441.0 L394.6,442.0 L393.6,442.8 L392.7,443.5 L391.7,444.0 L390.7,444.4 L389.8,444.6 L389.0,444.6 L388.2,444.5 L387.4,444.2 Z" stroke-width="1.0" fill="#fff"/>
<ellipse cx="392.7" cy="434.7" rx="5.94" ry="10.80" transform="rotate(29.2 392.7 434.7)" stroke-width="1.0" fill="#fff"/>
<path d="M388.4,442.4 L388.0,442.1 L387.6,441.7 L387.3,441.1 L387.1,440.5 L387.0,439.8 L386.9,439.0 L387.0,438.2 L387.1,437.3 L387.3,436.5 L387.6,435.5 L388.0,434.6 L388.5,433.8 L389.0,432.9 L389.6,432.1 L390.2,431.4 L390.8,430.7 L391.5,430.1 L392.2,429.7 L392.8,429.3 L393.5,429.0 L394.2,428.9 L394.8,428.9 L395.3,429.0 L395.8,429.2 L398.5,430.6 L398.9,430.9 L399.3,431.4 L399.6,431.9 L399.8,432.5 L399.9,433.2 L400.0,434.0 L399.9,434.8 L399.8,435.7 L399.5,436.6 L399.2,437.5 L398.8,438.4 L398.4,439.3 L397.9,440.1 L397.3,440.9 L396.7,441.7 L396.1,442.3 L395.4,442.9 L394.7,443.4 L394.0,443.8 L393.4,444.0 L392.7,444.2 L392.1,444.2 L391.5,444.1 L391.0,443.9 Z" stroke-width="1.0" fill="#fff"/>
<ellipse cx="394.7" cy="437.3" rx="4.18" ry="7.60" transform="rotate(29.2 394.7 437.3)" stroke-width="1.0" fill="#fff"/>
<path d="M388.7,448.0 L388.1,447.5 L387.6,446.9 L387.2,446.2 L386.9,445.3 L386.7,444.3 L386.6,443.2 L386.7,442.0 L386.9,440.8 L387.2,439.5 L387.6,438.2 L388.2,436.9 L388.8,435.7 L389.6,434.5 L390.4,433.3 L391.2,432.3 L392.2,431.3 L393.1,430.5 L394.1,429.9 L395.0,429.3 L396.0,429.0 L396.9,428.7 L397.8,428.7 L398.6,428.8 L399.3,429.1 L405.4,432.6 L406.0,433.0 L406.6,433.6 L407.0,434.4 L407.3,435.3 L407.5,436.3 L407.5,437.4 L407.4,438.5 L407.3,439.8 L406.9,441.1 L406.5,442.3 L406.0,443.6 L405.3,444.9 L404.6,446.1 L403.8,447.2 L402.9,448.3 L402.0,449.2 L401.0,450.0 L400.1,450.7 L399.1,451.2 L398.2,451.6 L397.2,451.8 L396.4,451.8 L395.6,451.7 L394.9,451.4 Z" stroke-width="1.0" fill="#fff"/>
<ellipse cx="400.1" cy="442.0" rx="5.94" ry="10.80" transform="rotate(29.2 400.1 442.0)" stroke-width="1.0" fill="#fff"/>
<path d="M397.2,447.3 L396.7,447.0 L396.3,446.6 L396.0,446.0 L395.8,445.4 L395.7,444.7 L395.7,443.9 L395.7,443.1 L395.8,442.2 L396.1,441.3 L396.4,440.4 L396.8,439.5 L397.2,438.6 L397.7,437.8 L398.3,437.0 L398.9,436.3 L399.6,435.6 L400.2,435.0 L400.9,434.5 L401.6,434.2 L402.2,433.9 L402.9,433.8 L403.5,433.7 L404.1,433.8 L404.6,434.0 L425.5,445.7 L426.0,446.1 L426.3,446.5 L426.6,447.0 L426.8,447.7 L427.0,448.4 L427.0,449.1 L427.0,450.0 L426.8,450.8 L426.6,451.7 L426.3,452.6 L425.9,453.5 L425.5,454.4 L424.9,455.3 L424.4,456.1 L423.8,456.8 L423.1,457.5 L422.4,458.0 L421.8,458.5 L421.1,458.9 L420.4,459.1 L419.8,459.3 L419.2,459.3 L418.6,459.2 L418.1,459.0 Z" stroke-width="1.0" fill="#fff"/>
<ellipse cx="421.8" cy="452.4" rx="4.18" ry="7.60" transform="rotate(29.2 421.8 452.4)" stroke-width="1.0" fill="#fff"/>
<path d="M417.3,460.5 L416.6,460.0 L416.1,459.4 L415.7,458.7 L415.4,457.8 L415.2,456.8 L415.1,455.7 L415.2,454.5 L415.4,453.3 L415.7,452.0 L416.2,450.7 L416.7,449.4 L417.4,448.2 L418.1,447.0 L418.9,445.8 L419.8,444.8 L420.7,443.9 L421.6,443.0 L422.6,442.4 L423.6,441.8 L424.5,441.5 L425.4,441.3 L426.3,441.2 L427.1,441.3 L427.8,441.6 L433.0,444.6 L433.7,445.0 L434.2,445.6 L434.6,446.4 L434.9,447.3 L435.1,448.3 L435.2,449.4 L435.1,450.6 L434.9,451.8 L434.6,453.1 L434.2,454.4 L433.6,455.6 L433.0,456.9 L432.2,458.1 L431.4,459.2 L430.6,460.3 L429.6,461.2 L428.7,462.0 L427.7,462.7 L426.8,463.2 L425.8,463.6 L424.9,463.8 L424.0,463.9 L423.2,463.7 L422.5,463.4 Z" stroke-width="1.0" fill="#fff"/>
<ellipse cx="427.8" cy="454.0" rx="5.94" ry="10.80" transform="rotate(29.2 427.8 454.0)" stroke-width="1.0" fill="#fff"/>
<path d="M423.3,461.9 L422.9,461.6 L422.5,461.2 L422.2,460.7 L422.0,460.0 L421.9,459.3 L421.8,458.6 L421.9,457.7 L422.0,456.9 L422.3,456.0 L422.6,455.1 L422.9,454.2 L423.4,453.3 L423.9,452.4 L424.5,451.6 L425.1,450.9 L425.7,450.2 L426.4,449.7 L427.1,449.2 L427.8,448.8 L428.4,448.5 L429.1,448.4 L429.7,448.4 L430.2,448.5 L430.8,448.7 L433.4,450.1 L433.8,450.5 L434.2,450.9 L434.5,451.4 L434.7,452.0 L434.8,452.8 L434.9,453.5 L434.8,454.4 L434.7,455.2 L434.5,456.1 L434.1,457.0 L433.8,457.9 L433.3,458.8 L432.8,459.7 L432.2,460.5 L431.6,461.2 L431.0,461.9 L430.3,462.4 L429.6,462.9 L428.9,463.3 L428.3,463.5 L427.6,463.7 L427.0,463.7 L426.5,463.6 L426.0,463.4 Z" stroke-width="1.0" fill="#fff"/>
<ellipse cx="429.7" cy="456.8" rx="4.18" ry="7.60" transform="rotate(29.2 429.7 456.8)" stroke-width="1.0" fill="#fff"/>
<path d="M423.8,467.2 L423.2,466.8 L422.6,466.2 L422.2,465.4 L421.9,464.5 L421.7,463.5 L421.7,462.4 L421.8,461.3 L422.0,460.0 L422.3,458.8 L422.7,457.5 L423.3,456.2 L423.9,454.9 L424.6,453.7 L425.4,452.6 L426.3,451.5 L427.2,450.6 L428.2,449.8 L429.1,449.1 L430.1,448.6 L431.1,448.2 L432.0,448.0 L432.8,448.0 L433.6,448.1 L434.3,448.4 L439.6,451.3 L440.2,451.8 L440.7,452.4 L441.2,453.1 L441.5,454.0 L441.7,455.0 L441.7,456.1 L441.6,457.3 L441.4,458.5 L441.1,459.8 L440.7,461.1 L440.1,462.4 L439.5,463.6 L438.8,464.9 L438.0,466.0 L437.1,467.0 L436.2,468.0 L435.2,468.8 L434.3,469.5 L433.3,470.0 L432.3,470.4 L431.4,470.6 L430.6,470.6 L429.8,470.5 L429.0,470.2 Z" stroke-width="1.0" fill="#fff"/>
<ellipse cx="434.3" cy="460.7" rx="5.94" ry="10.80" transform="rotate(29.2 434.3 460.7)" stroke-width="1.0" fill="#fff"/>
<path d="M431.2,466.3 L430.8,466.0 L430.4,465.6 L430.1,465.0 L429.9,464.4 L429.7,463.7 L429.7,463.0 L429.8,462.1 L429.9,461.3 L430.1,460.4 L430.4,459.4 L430.8,458.5 L431.3,457.7 L431.8,456.8 L432.3,456.0 L433.0,455.3 L433.6,454.6 L434.3,454.0 L434.9,453.6 L435.6,453.2 L436.3,452.9 L436.9,452.8 L437.5,452.8 L438.1,452.9 L438.6,453.1 L446.5,457.5 L446.9,457.8 L447.3,458.2 L447.6,458.7 L447.8,459.4 L447.9,460.1 L448.0,460.8 L447.9,461.7 L447.8,462.5 L447.5,463.4 L447.2,464.3 L446.9,465.2 L446.4,466.1 L445.9,467.0 L445.3,467.8 L444.7,468.5 L444.1,469.2 L443.4,469.7 L442.7,470.2 L442.0,470.6 L441.4,470.9 L440.7,471.0 L440.1,471.0 L439.6,470.9 L439.1,470.7 Z" stroke-width="1.0" fill="#fff"/>
<ellipse cx="442.8" cy="464.1" rx="4.18" ry="7.60" transform="rotate(29.2 442.8 464.1)" stroke-width="1.0" fill="#fff"/>
<path d="M437.2,474.0 L436.5,473.6 L436.0,472.9 L435.5,472.1 L435.2,471.2 L435.0,470.1 L435.0,469.0 L435.0,467.7 L435.2,466.4 L435.6,465.1 L436.0,463.7 L436.6,462.4 L437.3,461.0 L438.1,459.8 L438.9,458.6 L439.8,457.5 L440.8,456.5 L441.8,455.6 L442.8,454.9 L443.8,454.3 L444.8,453.9 L445.8,453.7 L446.7,453.7 L447.6,453.8 L448.3,454.1 L452.7,456.6 L453.4,457.1 L453.9,457.7 L454.4,458.5 L454.7,459.4 L454.9,460.5 L454.9,461.7 L454.9,462.9 L454.6,464.2 L454.3,465.5 L453.8,466.9 L453.3,468.3 L452.6,469.6 L451.8,470.9 L451.0,472.1 L450.1,473.2 L449.1,474.2 L448.1,475.0 L447.1,475.7 L446.0,476.3 L445.0,476.7 L444.1,476.9 L443.2,476.9 L442.3,476.8 L441.6,476.5 Z" stroke-width="1.0" fill="#fff"/>
<ellipse cx="447.1" cy="466.5" rx="6.27" ry="11.40" transform="rotate(29.2 447.1 466.5)" stroke-width="1.0" fill="#fff"/>
<path d="M442.7,474.4 L442.2,474.0 L441.8,473.5 L441.4,472.9 L441.2,472.1 L441.0,471.3 L441.0,470.4 L441.0,469.4 L441.2,468.4 L441.5,467.3 L441.8,466.2 L442.3,465.2 L442.8,464.1 L443.4,463.1 L444.1,462.2 L444.8,461.3 L445.6,460.5 L446.4,459.8 L447.2,459.3 L448.0,458.8 L448.8,458.5 L449.5,458.3 L450.2,458.3 L450.9,458.4 L451.5,458.7 L455.0,460.6 L455.5,461.0 L456.0,461.5 L456.3,462.1 L456.6,462.9 L456.7,463.7 L456.8,464.6 L456.7,465.6 L456.6,466.6 L456.3,467.7 L455.9,468.8 L455.5,469.9 L454.9,470.9 L454.3,471.9 L453.7,472.8 L452.9,473.7 L452.2,474.5 L451.4,475.2 L450.6,475.7 L449.8,476.2 L449.0,476.5 L448.2,476.7 L447.5,476.7 L446.8,476.6 L446.2,476.3 Z" stroke-width="1.0" fill="#fff"/>
<ellipse cx="450.6" cy="468.5" rx="4.95" ry="9.00" transform="rotate(29.2 450.6 468.5)" stroke-width="1.0" fill="#fff"/>
<path d="M445.1,478.4 L444.4,477.9 L443.8,477.3 L443.4,476.5 L443.1,475.6 L442.9,474.5 L442.8,473.4 L442.9,472.1 L443.1,470.8 L443.4,469.5 L443.9,468.1 L444.5,466.7 L445.1,465.4 L445.9,464.2 L446.8,463.0 L447.7,461.8 L448.7,460.9 L449.7,460.0 L450.7,459.3 L451.7,458.7 L452.7,458.3 L453.7,458.1 L454.6,458.1 L455.4,458.2 L456.2,458.5 L460.5,461.0 L461.2,461.5 L461.8,462.1 L462.2,462.9 L462.5,463.8 L462.7,464.9 L462.8,466.0 L462.7,467.3 L462.5,468.6 L462.2,469.9 L461.7,471.3 L461.1,472.7 L460.5,474.0 L459.7,475.3 L458.8,476.5 L457.9,477.6 L456.9,478.5 L455.9,479.4 L454.9,480.1 L453.9,480.7 L452.9,481.1 L451.9,481.3 L451.0,481.3 L450.2,481.2 L449.4,480.9 Z" stroke-width="1.0" fill="#fff"/>
<ellipse cx="455.0" cy="470.9" rx="6.27" ry="11.40" transform="rotate(29.2 455.0 470.9)" stroke-width="1.0" fill="#fff"/>
<path d="M451.1,477.9 L450.6,477.6 L450.2,477.1 L449.9,476.6 L449.7,475.9 L449.5,475.2 L449.5,474.3 L449.6,473.5 L449.7,472.6 L449.9,471.6 L450.3,470.7 L450.7,469.7 L451.1,468.8 L451.7,467.9 L452.3,467.0 L452.9,466.3 L453.6,465.6 L454.3,465.0 L455.0,464.5 L455.7,464.1 L456.4,463.8 L457.1,463.6 L457.8,463.6 L458.3,463.7 L458.9,463.9 L462.4,465.9 L462.8,466.2 L463.2,466.7 L463.5,467.2 L463.8,467.9 L463.9,468.6 L463.9,469.5 L463.9,470.3 L463.7,471.2 L463.5,472.2 L463.2,473.1 L462.8,474.1 L462.3,475.0 L461.8,475.9 L461.2,476.8 L460.5,477.5 L459.8,478.2 L459.1,478.8 L458.4,479.3 L457.7,479.7 L457.0,480.0 L456.3,480.1 L455.7,480.2 L455.1,480.1 L454.6,479.9 Z" stroke-width="1.0" fill="#fff"/>
<ellipse cx="458.5" cy="472.9" rx="4.40" ry="8.00" transform="rotate(29.2 458.5 472.9)" stroke-width="1.0" fill="#fff"/>
<path d="M453.8,481.3 L453.2,480.8 L452.6,480.2 L452.2,479.4 L451.9,478.5 L451.7,477.5 L451.7,476.4 L451.7,475.3 L451.9,474.0 L452.3,472.8 L452.7,471.5 L453.2,470.2 L453.9,468.9 L454.6,467.7 L455.4,466.6 L456.3,465.5 L457.2,464.6 L458.2,463.8 L459.1,463.1 L460.1,462.6 L461.0,462.2 L461.9,462.0 L462.8,462.0 L463.6,462.1 L464.3,462.4 L469.6,465.3 L470.2,465.8 L470.7,466.4 L471.1,467.2 L471.5,468.0 L471.6,469.0 L471.7,470.1 L471.6,471.3 L471.4,472.5 L471.1,473.8 L470.7,475.1 L470.1,476.4 L469.5,477.7 L468.7,478.9 L467.9,480.0 L467.1,481.0 L466.2,482.0 L465.2,482.8 L464.2,483.5 L463.3,484.0 L462.3,484.4 L461.4,484.6 L460.5,484.6 L459.7,484.5 L459.0,484.2 Z" stroke-width="1.0" fill="#fff"/>
<ellipse cx="464.3" cy="474.8" rx="5.94" ry="10.80" transform="rotate(29.2 464.3 474.8)" stroke-width="1.0" fill="#fff"/>
<path d="M460.0,482.4 L459.6,482.1 L459.2,481.7 L458.9,481.1 L458.7,480.5 L458.5,479.8 L458.5,479.0 L458.6,478.2 L458.7,477.4 L458.9,476.5 L459.2,475.5 L459.6,474.6 L460.1,473.8 L460.6,472.9 L461.1,472.1 L461.8,471.4 L462.4,470.7 L463.1,470.1 L463.8,469.7 L464.4,469.3 L465.1,469.0 L465.7,468.9 L466.3,468.9 L466.9,469.0 L467.4,469.2 L474.4,473.1 L474.8,473.4 L475.2,473.8 L475.5,474.4 L475.7,475.0 L475.9,475.7 L475.9,476.5 L475.8,477.3 L475.7,478.2 L475.5,479.0 L475.2,480.0 L474.8,480.9 L474.3,481.7 L473.8,482.6 L473.3,483.4 L472.6,484.1 L472.0,484.8 L471.3,485.4 L470.7,485.8 L470.0,486.2 L469.3,486.5 L468.7,486.6 L468.1,486.6 L467.5,486.5 L467.0,486.3 Z" stroke-width="1.0" fill="#fff"/>
<ellipse cx="470.7" cy="479.7" rx="4.18" ry="7.60" transform="rotate(29.2 470.7 479.7)" stroke-width="1.0" fill="#fff"/>
<path d="M465.1,489.7 L464.5,489.2 L464.0,488.6 L463.6,487.9 L463.3,487.0 L463.1,486.1 L463.1,485.0 L463.2,483.9 L463.3,482.7 L463.6,481.5 L464.1,480.2 L464.6,479.0 L465.2,477.8 L465.9,476.6 L466.7,475.5 L467.5,474.5 L468.4,473.6 L469.3,472.8 L470.3,472.2 L471.2,471.7 L472.1,471.3 L473.0,471.1 L473.8,471.1 L474.6,471.2 L475.3,471.5 L479.6,473.9 L480.3,474.4 L480.8,475.0 L481.2,475.7 L481.5,476.5 L481.6,477.5 L481.7,478.6 L481.6,479.7 L481.4,480.9 L481.1,482.1 L480.7,483.4 L480.2,484.6 L479.6,485.8 L478.9,487.0 L478.1,488.1 L477.2,489.1 L476.4,490.0 L475.4,490.8 L474.5,491.4 L473.6,491.9 L472.7,492.3 L471.8,492.5 L471.0,492.5 L470.2,492.4 L469.5,492.1 Z" stroke-width="1.0" fill="#fff"/>
<ellipse cx="474.6" cy="483.0" rx="5.72" ry="10.40" transform="rotate(29.2 474.6 483.0)" stroke-width="1.0" fill="#fff"/>
<path d="M477.0,472.5 L477.7,472.9 L478.3,473.4 L478.8,474.1 L479.2,474.9 L479.4,475.9 L479.5,477.0 L479.5,478.2 L479.3,479.4 L479.0,480.7 L478.6,482.0 L478.0,483.3 L477.4,484.6 L476.6,485.8 L475.8,487.0 L474.9,488.0 L474.0,488.9 L473.0,489.7 L472.0,490.4 L471.0,490.9 L470.1,491.2 L469.2,491.3 L468.3,491.2 L467.6,491.0 L466.9,490.6" stroke-width="0.9"/>
<path d="M471.3,488.8 L470.9,488.5 L470.5,488.0 L470.2,487.5 L470.0,486.9 L469.9,486.2 L469.9,485.4 L469.9,484.6 L470.0,483.7 L470.3,482.8 L470.6,481.9 L471.0,481.0 L471.4,480.1 L471.9,479.3 L472.5,478.5 L473.1,477.7 L473.8,477.1 L474.4,476.5 L475.1,476.0 L475.8,475.6 L476.4,475.4 L477.1,475.2 L477.7,475.2 L478.3,475.3 L478.8,475.5 L483.1,477.9 L483.6,478.3 L483.9,478.7 L484.2,479.2 L484.5,479.9 L484.6,480.6 L484.6,481.3 L484.6,482.2 L484.4,483.0 L484.2,483.9 L483.9,484.8 L483.5,485.7 L483.1,486.6 L482.6,487.5 L482.0,488.3 L481.4,489.0 L480.7,489.7 L480.1,490.2 L479.4,490.7 L478.7,491.1 L478.0,491.3 L477.4,491.5 L476.8,491.5 L476.2,491.4 L475.7,491.2 Z" stroke-width="1.0" fill="#fff"/>
<ellipse cx="479.4" cy="484.6" rx="4.18" ry="7.60" transform="rotate(29.2 479.4 484.6)" stroke-width="1.0" fill="#fff"/>
<path d="M473.9,494.5 L473.2,494.0 L472.6,493.4 L472.2,492.6 L471.9,491.7 L471.7,490.6 L471.6,489.5 L471.7,488.2 L471.9,486.9 L472.2,485.6 L472.7,484.2 L473.3,482.8 L473.9,481.5 L474.7,480.3 L475.6,479.1 L476.5,477.9 L477.5,477.0 L478.5,476.1 L479.5,475.4 L480.5,474.8 L481.5,474.4 L482.5,474.2 L483.4,474.2 L484.2,474.3 L485.0,474.6 L497.2,481.5 L497.9,481.9 L498.4,482.6 L498.9,483.4 L499.2,484.3 L499.4,485.4 L499.4,486.5 L499.4,487.8 L499.2,489.1 L498.8,490.4 L498.4,491.8 L497.8,493.1 L497.1,494.5 L496.3,495.7 L495.5,496.9 L494.6,498.0 L493.6,499.0 L492.6,499.9 L491.6,500.6 L490.6,501.2 L489.6,501.6 L488.6,501.8 L487.7,501.8 L486.8,501.7 L486.1,501.4 Z" stroke-width="1.0" fill="#fff"/>
<ellipse cx="491.6" cy="491.4" rx="6.27" ry="11.40" transform="rotate(29.2 491.6 491.4)" stroke-width="1.0" fill="#fff"/>
<path d="M488.0,476.4 L488.7,476.8 L489.4,477.3 L489.9,478.1 L490.3,479.0 L490.6,480.1 L490.7,481.3 L490.7,482.5 L490.5,483.9 L490.2,485.3 L489.7,486.8 L489.1,488.2 L488.4,489.6 L487.6,490.9 L486.7,492.2 L485.7,493.3 L484.7,494.4 L483.6,495.2 L482.5,495.9 L481.4,496.5 L480.4,496.8 L479.4,496.9 L478.5,496.9 L477.6,496.6 L476.9,496.2" stroke-width="0.9"/>
<path d="M487.4,498.9 L486.9,498.6 L486.5,498.1 L486.2,497.5 L485.9,496.8 L485.8,496.0 L485.8,495.1 L485.8,494.2 L486.0,493.2 L486.2,492.2 L486.6,491.1 L487.0,490.1 L487.5,489.1 L488.1,488.1 L488.7,487.2 L489.4,486.4 L490.2,485.7 L490.9,485.0 L491.7,484.5 L492.5,484.1 L493.2,483.8 L493.9,483.6 L494.6,483.6 L495.3,483.7 L495.8,483.9 L506.3,489.8 L506.8,490.1 L507.2,490.6 L507.6,491.2 L507.8,491.9 L508.0,492.7 L508.0,493.6 L507.9,494.5 L507.8,495.5 L507.5,496.5 L507.2,497.6 L506.8,498.6 L506.2,499.6 L505.7,500.5 L505.0,501.4 L504.3,502.3 L503.6,503.0 L502.8,503.7 L502.1,504.2 L501.3,504.6 L500.5,504.9 L499.8,505.1 L499.1,505.1 L498.5,505.0 L497.9,504.8 Z" stroke-width="1.0" fill="#fff"/>
<ellipse cx="502.1" cy="497.3" rx="4.73" ry="8.60" transform="rotate(29.2 502.1 497.3)" stroke-width="1.0" fill="#fff"/>
<path d="M498.1,485.2 L498.7,485.5 L499.2,485.9 L499.6,486.5 L499.9,487.2 L500.1,488.0 L500.1,488.9 L500.1,489.9 L500.0,490.9 L499.7,492.0 L499.4,493.0 L498.9,494.1 L498.4,495.2 L497.8,496.2 L497.1,497.1 L496.4,498.0 L495.6,498.8 L494.8,499.4 L494.0,500.0 L493.2,500.4 L492.4,500.6 L491.6,500.7 L490.9,500.7 L490.3,500.5 L489.7,500.2" stroke-width="0.9"/>
<path d="M499.4,502.2 L499.1,501.9 L498.8,501.6 L498.6,501.2 L498.4,500.7 L498.3,500.2 L498.3,499.7 L498.3,499.0 L498.4,498.4 L498.6,497.7 L498.8,497.1 L499.1,496.4 L499.4,495.8 L499.8,495.1 L500.2,494.5 L500.7,494.0 L501.2,493.5 L501.6,493.1 L502.1,492.7 L502.6,492.5 L503.1,492.3 L503.6,492.2 L504.1,492.2 L504.5,492.2 L504.8,492.4 L513.6,497.3 L513.9,497.5 L514.2,497.8 L514.4,498.2 L514.6,498.7 L514.7,499.2 L514.7,499.8 L514.6,500.4 L514.5,501.0 L514.4,501.7 L514.2,502.3 L513.9,503.0 L513.5,503.6 L513.2,504.3 L512.7,504.9 L512.3,505.4 L511.8,505.9 L511.3,506.3 L510.8,506.7 L510.3,506.9 L509.8,507.1 L509.4,507.2 L508.9,507.3 L508.5,507.2 L508.1,507.0 Z" stroke-width="1.0" fill="#fff"/>
<ellipse cx="510.8" cy="502.1" rx="3.08" ry="5.60" transform="rotate(29.2 510.8 502.1)" stroke-width="1.0" fill="#fff"/>
<path d="M505.8,501.6 L512.3,505.1 M504.8,503.6 L511.3,507.1" stroke-width="0.9"/>
<ellipse cx="510.8" cy="502.1" rx="1.32" ry="2.40" transform="rotate(29.2 510.8 502.1)" stroke-width="1.0"/>
<path d="M425.9,309.7 L425.9,379.9 L428.25,383.9 L430.25,383.9 L432.6,379.9 L432.6,309.7" fill="#fff" stroke-width="1.1"/>
<ellipse cx="429.25" cy="309.9" rx="3.3500000000000227" ry="1.4" fill="#fff" stroke-width="1.0"/>
<path d="M425.9,315.2 Q429.25,317.2 432.6,315.2" stroke-width="0.9"/>
<ellipse cx="429.25" cy="312.09999999999997" rx="2.550000000000023" ry="1.2" stroke-width="0.8"/>
<path d="M439.8,316.4 L439.8,387.2 L442.20000000000005,390.8 L444.20000000000005,390.8 L446.6,387.2 L446.6,316.4" fill="#fff" stroke-width="1.1"/>
<ellipse cx="443.20000000000005" cy="316.59999999999997" rx="3.4000000000000057" ry="1.4" fill="#fff" stroke-width="1.0"/>
<path d="M439.8,321.9 Q443.20000000000005,323.9 446.6,321.9" stroke-width="0.9"/>
<ellipse cx="443.20000000000005" cy="318.79999999999995" rx="2.600000000000006" ry="1.2" stroke-width="0.8"/>
<ellipse cx="429.3" cy="415.90000000000003" rx="7.4" ry="3.5" fill="#fff" stroke-width="1.1"/>
<path d="M421.90000000000003,413.3 L421.90000000000003,415.90000000000003 M436.7,413.3 L436.7,415.90000000000003" stroke-width="1.0"/>
<ellipse cx="429.3" cy="413.3" rx="7.4" ry="3.5" fill="#fff" stroke-width="1.1"/>
<ellipse cx="429.3" cy="413.7" rx="5.4" ry="2.3" stroke-width="0.8"/>
<path d="M426.4,390.9 L426.4,410.5 Q429.5,412.5 432.6,410.5 L432.6,390.9" fill="#fff" stroke-width="1.1"/>
<ellipse cx="429.5" cy="391.09999999999997" rx="3.1000000000000227" ry="1.4" fill="#fff" stroke-width="1.0"/>
<ellipse cx="429.5" cy="393.09999999999997" rx="2.300000000000023" ry="1.1" stroke-width="0.8"/>
<ellipse cx="443.3" cy="422.8" rx="7.4" ry="3.5" fill="#fff" stroke-width="1.1"/>
<path d="M435.90000000000003,420.2 L435.90000000000003,422.8 M450.7,420.2 L450.7,422.8" stroke-width="1.0"/>
<ellipse cx="443.3" cy="420.2" rx="7.4" ry="3.5" fill="#fff" stroke-width="1.1"/>
<ellipse cx="443.3" cy="420.59999999999997" rx="5.4" ry="2.3" stroke-width="0.8"/>
<path d="M440,398.2 L440,417.7 Q443.4,419.7 446.8,417.7 L446.8,398.2" fill="#fff" stroke-width="1.1"/>
<ellipse cx="443.4" cy="398.4" rx="3.4000000000000057" ry="1.4" fill="#fff" stroke-width="1.0"/>
<ellipse cx="443.4" cy="400.4" rx="2.600000000000006" ry="1.1" stroke-width="0.8"/>
<path d="M429.1,420.8 L429.1,442.6" stroke-width="0.9"/>
<path d="M443.1,427.1 L443.1,448.9" stroke-width="0.9"/>
</g>
<g id="p28">
<path d="M357.8,120.3 L356.8,119.6 L356.1,118.7 L355.5,117.5 L355.1,116.2 L354.8,114.7 L354.8,113.0 L355.0,111.2 L355.3,109.4 L355.9,107.5 L356.6,105.5 L357.5,103.6 L358.5,101.8 L359.6,100.0 L360.9,98.3 L362.3,96.8 L363.7,95.4 L365.2,94.2 L366.7,93.2 L368.2,92.5 L369.6,92.0 L371.0,91.7 L372.3,91.7 L373.5,91.9 L374.6,92.4 L381.6,96.6 L382.5,97.4 L383.3,98.3 L383.9,99.5 L384.3,100.8 L384.5,102.3 L384.6,104.0 L384.4,105.8 L384.1,107.6 L383.5,109.5 L382.8,111.4 L381.9,113.4 L380.9,115.2 L379.7,117.0 L378.4,118.7 L377.1,120.2 L375.7,121.6 L374.2,122.8 L372.7,123.7 L371.2,124.5 L369.8,125.0 L368.4,125.3 L367.1,125.3 L365.9,125.1 L364.8,124.6 Z" stroke-width="1.1" fill="#fff"/>
<ellipse cx="373.2" cy="110.6" rx="8.97" ry="16.30" transform="rotate(31.0 373.2 110.6)" stroke-width="1.1" fill="#fff"/>
<ellipse cx="373.2" cy="110.6" rx="7.17" ry="13.04" transform="rotate(31.0 373.2 110.6)" stroke-width="0.8"/>
<ellipse cx="373.4" cy="110.7" rx="6.28" ry="11.41" transform="rotate(31.0 373.4 110.7)" stroke-width="1.0"/>
<ellipse cx="373.4" cy="110.7" rx="5.20" ry="9.45" transform="rotate(31.0 373.4 110.7)" stroke-width="0.8"/>
<ellipse cx="373.5" cy="110.8" rx="4.21" ry="7.66" transform="rotate(31.0 373.5 110.8)" stroke-width="1.1"/>
<path d="M370.6,116.8 L369.9,116.9 L369.3,116.9 L368.8,116.8 L368.3,116.6 L367.8,116.2 L367.5,115.8 L367.2,115.2 L367.0,114.6 L366.9,113.9 L366.9,113.1 L366.9,112.3 L367.1,111.4 L367.4,110.5 L367.7,109.6 L368.1,108.7 L368.6,107.8 L369.1,107.0 L369.7,106.2 L370.4,105.5 L371.0,104.8 L371.7,104.3 L372.4,103.8 L373.1,103.5 L373.8,103.2" stroke-width="0.8"/>
<path d="M383.0,138.8 L381.9,138.0 L381.1,136.9 L380.5,135.6 L380.0,134.0 L379.8,132.3 L379.8,130.4 L380.1,128.4 L380.5,126.2 L381.2,124.0 L382.0,121.8 L383.1,119.6 L384.3,117.4 L385.6,115.3 L387.1,113.3 L388.7,111.5 L390.3,109.9 L392.0,108.5 L393.7,107.4 L395.4,106.5 L397.0,105.8 L398.5,105.5 L400.0,105.4 L401.3,105.7 L402.5,106.2 L409.4,110.3 L410.4,111.1 L411.2,112.2 L411.9,113.5 L412.3,115.0 L412.5,116.8 L412.5,118.7 L412.3,120.7 L411.8,122.9 L411.2,125.1 L410.3,127.3 L409.3,129.5 L408.1,131.7 L406.7,133.8 L405.2,135.7 L403.7,137.5 L402.0,139.1 L400.4,140.6 L398.7,141.7 L397.0,142.6 L395.4,143.2 L393.8,143.6 L392.3,143.6 L391.0,143.4 L389.8,142.9 Z" stroke-width="0.01" fill="#fff"/>
<path d="M384.6,137.0 L384.1,136.8 L382.6,138.5 L381.9,137.9 L382.9,135.8 L382.6,135.3 L380.9,136.6 L380.5,135.8 L381.8,133.7 L381.7,133.1 L380.0,133.9 L379.9,132.8 L381.4,131.0 L381.4,130.2 L379.8,130.6 L379.9,129.3 L381.6,127.8 L381.7,126.9 L380.4,126.8 L380.8,125.3 L382.4,124.3 L382.7,123.4 L381.7,122.7 L382.3,121.2 L383.9,120.7 L384.3,119.8 L383.6,118.6 L384.4,117.2 L385.8,117.2 L386.4,116.3 L386.0,114.7 L387.0,113.5 L388.2,114.0 L388.8,113.2 L388.9,111.3 L389.9,110.3 L390.8,111.2 L391.5,110.7 L392.0,108.5 L393.0,107.8 L393.6,109.2 L394.2,108.8 L395.1,106.6 L396.1,106.1 L396.3,107.9 L396.9,107.7 L398.0,105.6 L399.0,105.4 L398.7,107.5 L399.3,107.5 L400.7,105.5 L401.6,105.7 L400.9,107.9" stroke-width="1.05"/>
<path d="M409.8,110.6 L404.5,108.3" stroke-width="1.05"/>
<path d="M389.4,142.6 L380.9,136.6" stroke-width="1.05"/>
<path d="M388.8,142.1 L380.5,135.8" stroke-width="1.05"/>
<path d="M387.8,140.8 L380.0,133.9" stroke-width="1.05"/>
<path d="M387.4,139.9 L379.9,132.8" stroke-width="1.05"/>
<path d="M386.9,138.1 L379.8,130.6" stroke-width="1.05"/>
<path d="M386.7,136.9 L379.9,129.3" stroke-width="1.05"/>
<path d="M386.7,134.7 L380.4,126.8" stroke-width="1.05"/>
<path d="M386.8,133.4 L380.8,125.3" stroke-width="1.05"/>
<path d="M387.2,130.9 L381.7,122.7" stroke-width="1.05"/>
<path d="M387.6,129.5 L382.3,121.2" stroke-width="1.05"/>
<path d="M388.5,126.8 L383.6,118.6" stroke-width="1.05"/>
<path d="M389.1,125.4 L384.4,117.2" stroke-width="1.05"/>
<path d="M390.4,122.7 L386.0,114.7" stroke-width="1.05"/>
<path d="M391.3,121.3 L387.0,113.5" stroke-width="1.05"/>
<path d="M392.9,118.8 L388.9,111.3" stroke-width="1.05"/>
<path d="M393.9,117.6 L389.9,110.3" stroke-width="1.05"/>
<path d="M395.7,115.4 L392.0,108.5" stroke-width="1.05"/>
<path d="M396.8,114.4 L393.0,107.8" stroke-width="1.05"/>
<path d="M398.8,112.7 L395.1,106.6" stroke-width="1.05"/>
<path d="M399.9,111.9 L396.1,106.1" stroke-width="1.05"/>
<path d="M401.9,110.7 L398.0,105.6" stroke-width="1.05"/>
<path d="M403.0,110.2 L399.0,105.4" stroke-width="1.05"/>
<path d="M404.9,109.7 L400.7,105.5" stroke-width="1.05"/>
<path d="M405.9,109.6 L401.6,105.7" stroke-width="1.05"/>
<path d="M407.6,109.6 L402.9,106.5" stroke-width="1.05"/>
<path d="M408.4,109.9 L403.6,107.0" stroke-width="1.05"/>
<path d="M408.2,112.3 L409.8,110.6 L410.4,111.1 L409.4,113.3 L409.7,113.8 L411.4,112.4 L411.8,113.3 L410.5,115.4 L410.7,116.0 L412.3,115.1 L412.5,116.3 L411.0,118.1 L411.0,118.9 L412.5,118.5 L412.4,119.8 L410.8,121.3 L410.6,122.1 L412.0,122.3 L411.6,123.7 L409.9,124.8 L409.6,125.7 L410.7,126.4 L410.1,127.8 L408.5,128.4 L408.0,129.3 L408.8,130.5 L407.9,131.9 L406.5,131.9 L406.0,132.8 L406.3,134.4 L405.3,135.6 L404.1,135.1 L403.5,135.9 L403.5,137.8 L402.4,138.8 L401.5,137.8 L400.8,138.4 L400.4,140.5 L399.3,141.3 L398.8,139.9 L398.1,140.3 L397.3,142.5 L396.2,143.0 L396.1,141.2 L395.4,141.4 L394.3,143.5 L393.3,143.6 L393.6,141.6 L393.0,141.6 L391.6,143.6 L390.8,143.3 L391.5,141.2 L391.0,140.9 L389.4,142.6 L388.8,142.1 L389.8,139.9 L389.5,139.4 L387.8,140.8 L387.4,139.9 L388.7,137.8 L388.5,137.2 L386.9,138.1 L386.7,136.9 L388.2,135.1 L388.2,134.3 L386.7,134.7 L386.8,133.4 L388.4,131.9 L388.6,131.1 L387.2,130.9 L387.6,129.5 L389.3,128.4 L389.6,127.5 L388.5,126.8 L389.1,125.4 L390.7,124.8 L391.2,123.9 L390.4,122.7 L391.3,121.3 L392.7,121.3 L393.2,120.4 L392.9,118.8 L393.9,117.6 L395.1,118.1 L395.7,117.3 L395.7,115.4 L396.8,114.4 L397.7,115.4 L398.4,114.8 L398.8,112.7 L399.9,111.9 L400.4,113.3 L401.1,112.9 L401.9,110.7 L403.0,110.2 L403.1,112.0 L403.8,111.8 L404.9,109.7 L405.9,109.6 L405.6,111.6 L406.2,111.6 L407.6,109.6 L408.4,109.9 L407.7,112.0 Z" stroke-width="1.05" fill="#fff"/>
<ellipse cx="399.6" cy="126.6" rx="7.80" ry="15.00" transform="rotate(31.0 399.6 126.6)" stroke-width="0.9"/>
<path d="M396.9,132.6 L396.5,132.4 L396.2,132.0 L396.0,131.5 L395.8,131.0 L395.7,130.3 L395.7,129.7 L395.8,129.0 L395.9,128.2 L396.1,127.4 L396.4,126.7 L396.8,125.9 L397.2,125.1 L397.7,124.4 L398.2,123.7 L398.7,123.1 L399.3,122.5 L399.9,122.1 L400.5,121.7 L401.1,121.4 L401.7,121.2 L402.2,121.0 L402.8,121.0 L403.3,121.1 L403.7,121.3 L412.7,126.7 L413.1,127.0 L413.4,127.4 L413.6,127.9 L413.8,128.4 L413.9,129.0 L413.9,129.7 L413.8,130.4 L413.7,131.2 L413.5,132.0 L413.2,132.7 L412.8,133.5 L412.4,134.3 L411.9,135.0 L411.4,135.7 L410.9,136.3 L410.3,136.8 L409.7,137.3 L409.1,137.7 L408.5,138.0 L407.9,138.2 L407.4,138.3 L406.8,138.3 L406.3,138.3 L405.9,138.1 Z" stroke-width="1.05" fill="#fff"/>
<ellipse cx="409.3" cy="132.4" rx="3.63" ry="6.60" transform="rotate(31.0 409.3 132.4)" stroke-width="1.05" fill="#fff"/>
<ellipse cx="409.4" cy="132.5" rx="2.16" ry="3.60" transform="rotate(31.0 409.4 132.5)" stroke-width="1.6"/>
<path d="M416.4,154.1 L415.4,153.4 L414.7,152.5 L414.1,151.3 L413.7,150.0 L413.4,148.5 L413.4,146.8 L413.6,145.0 L413.9,143.2 L414.5,141.3 L415.2,139.3 L416.1,137.4 L417.1,135.6 L418.2,133.8 L419.5,132.1 L420.9,130.6 L422.3,129.2 L423.8,128.0 L425.3,127.0 L426.8,126.3 L428.2,125.8 L429.6,125.5 L430.9,125.5 L432.1,125.7 L433.2,126.2 L440.2,130.4 L441.1,131.2 L441.9,132.1 L442.5,133.3 L442.9,134.6 L443.1,136.1 L443.2,137.8 L443.0,139.6 L442.7,141.4 L442.1,143.3 L441.4,145.2 L440.5,147.2 L439.5,149.0 L438.3,150.8 L437.0,152.5 L435.7,154.0 L434.3,155.4 L432.8,156.6 L431.3,157.5 L429.8,158.3 L428.4,158.8 L427.0,159.1 L425.7,159.1 L424.5,158.9 L423.4,158.4 Z" stroke-width="1.1" fill="#fff"/>
<ellipse cx="431.8" cy="144.4" rx="8.97" ry="16.30" transform="rotate(31.0 431.8 144.4)" stroke-width="1.1" fill="#fff"/>
<ellipse cx="431.8" cy="144.4" rx="7.17" ry="13.04" transform="rotate(31.0 431.8 144.4)" stroke-width="0.8"/>
<ellipse cx="432.0" cy="144.5" rx="6.28" ry="11.41" transform="rotate(31.0 432.0 144.5)" stroke-width="1.0"/>
<ellipse cx="432.0" cy="144.5" rx="5.20" ry="9.45" transform="rotate(31.0 432.0 144.5)" stroke-width="0.8"/>
<ellipse cx="432.1" cy="144.6" rx="4.21" ry="7.66" transform="rotate(31.0 432.1 144.6)" stroke-width="1.1"/>
<path d="M429.2,150.6 L428.5,150.7 L427.9,150.7 L427.4,150.6 L426.9,150.4 L426.4,150.0 L426.1,149.6 L425.8,149.0 L425.6,148.4 L425.5,147.7 L425.5,146.9 L425.5,146.1 L425.7,145.2 L426.0,144.3 L426.3,143.4 L426.7,142.5 L427.2,141.6 L427.7,140.8 L428.3,140.0 L429.0,139.3 L429.6,138.6 L430.3,138.1 L431.0,137.6 L431.7,137.3 L432.4,137.0" stroke-width="0.8"/>
</g>
<g id="case">
<path d="M345.5,256.9 L350.9,240.5 L357.3,225.1 L359.1,218.7 L365.5,216.9 L372.8,217.8 L386.4,203.2 L389.2,200.5 L394.6,201.4 L399.7,203.1 L414.9,199.5 L436.1,182.6 L440.5,179.5 L459.5,158.5 L462.5,156.3 L466,157 L470.3,157.9 L488.1,163 L489,164.8 L486.1,179.6 L483.1,199.3 L481.2,209.2 L477.2,223 L472.3,236.8 L469.3,248.6 L469,256 L481.2,257.5 L485.2,261 L484.5,266.5 L402.8,308.8 L392.8,303.4 L391,300.6 L391,272 L383.7,269.7 L377.3,278.2 L370,273.3 L363.7,267.9 L356,265.5 L350.9,261.5 Z" stroke-width="0.12" fill="#fff"/>
<path d="M345.5,256.9 L350.9,240.5 L357.3,225.1 C357.5,221 358.3,219.3 359.1,218.7 C361,216.8 363.6,216.4 365.5,216.9 C368.5,217.8 370.3,220 371,222.3" stroke-width="1.3"/>
<path d="M345.5,256.9 L350.9,261.5 L356,265.5" stroke-width="1.3"/>
<path d="M349.5,255.5 L354.8,240.8 L360.8,227.2" stroke-width="1.06"/>
<path d="M352.8,257.8 L357.8,243.5 L363.6,229.8 L368.0,231.6" stroke-width="1.06"/>
<path d="M356.0,260.0 L360.6,246 L366.0,233.5" stroke-width="1.06"/>
<path d="M360.8,227.2 C360.6,223 362.6,220.6 365.5,220.4 C367.6,220.4 368.8,221.6 369.2,223.4" stroke-width="1.06"/>
<path d="M359.5,247.5 L362.5,249.5 L361.0,258.0" stroke-width="1.06"/>
<ellipse cx="360.0" cy="261.6" rx="3.20" ry="4.00" transform="rotate(31.0 360.0 261.6)" stroke-width="1.1" fill="#fff"/>
<ellipse cx="360.2" cy="261.8" rx="1.84" ry="2.30" transform="rotate(31.0 360.2 261.8)" stroke-width="1.4"/>
<path d="M356,265.5 L363.7,267.9 L369.1,267.9" stroke-width="1.3"/>
<path d="M371,222.3 L372.8,217.8 L386.4,203.2 C387.3,201.2 388.3,200.6 389.2,200.5 L394.6,201.4 L399.7,203.1 C404,205.5 410,203 414.9,199.5 L436.1,182.6 C437.5,180.5 439,180 440.5,179.5 L459.5,158.5 C460.5,157 461.5,156.4 462.5,156.3 C464,156.2 465.3,156.6 466,157.4" stroke-width="1.3"/>
<path d="M372.6,224.6 L388.0,209.8 L393.5,208.6 L398.2,210.6 C399.5,212.6 401.5,213.6 402.8,213.7 L412.5,213.0 C414,214.4 416.5,215.0 418.5,214.4 C421,213.6 422.5,211.5 422.4,209.6 L441.5,199.5 C443.5,200.2 446,199.6 447.6,197.6 L450.5,193.5 L468.0,173.5 L471.0,172.8" stroke-width="1.3"/>
<path d="M375.0,221.0 L389.0,206.6 L394.0,205.2 L399.5,207.2" stroke-width="1.0"/>
<path d="M404.5,208.6 L414.0,204.6 L437.0,187.0" stroke-width="1.0"/>
<path d="M407.5,211.4 L415.5,208.0 L438.6,190.4" stroke-width="1.0"/>
<path d="M445.0,181.0 L462.0,161.5" stroke-width="1.0"/>
<path d="M448.8,183.6 L465.2,164.4" stroke-width="1.0"/>
<ellipse cx="417.9" cy="206.9" rx="3.44" ry="4.30" transform="rotate(31.0 417.9 206.9)" stroke-width="1.0" fill="#fff"/>
<ellipse cx="417.9" cy="206.9" rx="1.84" ry="2.30" transform="rotate(31.0 417.9 206.9)" stroke-width="1.1"/>
<ellipse cx="443.7" cy="187.9" rx="3.68" ry="4.60" transform="rotate(31.0 443.7 187.9)" stroke-width="1.0" fill="#fff"/>
<ellipse cx="443.7" cy="187.9" rx="2.00" ry="2.50" transform="rotate(31.0 443.7 187.9)" stroke-width="1.1"/>
<ellipse cx="457.4" cy="190.2" rx="3.36" ry="4.20" transform="rotate(31.0 457.4 190.2)" stroke-width="1.0" fill="#fff"/>
<ellipse cx="457.6" cy="190.3" rx="1.60" ry="2.00" transform="rotate(31.0 457.6 190.3)" stroke-width="1.3"/>
<ellipse cx="394.0" cy="204.6" rx="2.08" ry="2.60" transform="rotate(31.0 394.0 204.6)" stroke-width="0.9"/>
<ellipse cx="463.2" cy="159.6" rx="1.60" ry="2.00" transform="rotate(31.0 463.2 159.6)" stroke-width="0.9"/>
<path d="M466,157.4 L470.3,157.9 L488.1,163 L489,164.8" stroke-width="1.18"/>
<path d="M469.5,159.5 L486.5,164.4" stroke-width="1.06"/>
<path d="M469.8,161.1 L486.7,165.9" stroke-width="1.06"/>
<path d="M470.1,162.7 L486.9,167.4" stroke-width="1.06"/>
<path d="M470.4,164.3 L487.1,168.9" stroke-width="1.06"/>
<path d="M470.7,165.9 L487.3,170.4" stroke-width="1.06"/>
<path d="M468.6,159 L470.5,167.5 L475,171.5" stroke-width="1.06"/>
<path d="M489,164.8 C487.5,170 486.6,175 486.1,179.6 L483.1,199.3 L481.2,209.2 L477.2,223 L472.3,236.8 L469.3,248.6 L468.6,256.0" stroke-width="1.3"/>
<path d="M485.5,170 C484,180 482,192 480.0,200.5 L478.0,209.0 L474.2,222.0 L469.2,236.0 L466.2,248.0 L465.6,257.5" stroke-width="1.0"/>
<path d="M489,164.8 L496,162.5 L510.5,158.6 C513.5,158.2 515.2,159.4 516.6,161 L519.6,164.4 C520.8,166 520.9,167.4 520.7,169 L518.7,191.0 C518.3,193.4 517.4,194.8 516.0,196.2 L511.6,200.6 C510.2,201.8 508.8,202.4 507.0,203.0 L488.5,209.4 C486.6,209.6 485.4,208.4 485.2,206.6" stroke-width="1.3" fill="#fff"/>
<path d="M491.0,166.6 L486.3,205.0" stroke-width="1.06"/>
<ellipse cx="502.9" cy="183.5" rx="10.8" ry="15.0" transform="rotate(14 502.9 183.5)" fill="#fff" stroke-width="1.1"/>
<path d="M497.5,172.0 C495,178 494.6,189 497.8,196.2" stroke-width="0.9"/>
<path d="M500.6,170.6 C498,178 497.8,190 501.2,197.4" stroke-width="0.8"/>
<ellipse cx="493.4" cy="174.7" rx="1.36" ry="1.70" transform="rotate(31.0 493.4 174.7)" stroke-width="0.9"/>
<ellipse cx="516.7" cy="168.1" rx="1.36" ry="1.70" transform="rotate(31.0 516.7 168.1)" stroke-width="0.9"/>
<ellipse cx="511.1" cy="198.3" rx="1.36" ry="1.70" transform="rotate(31.0 511.1 198.3)" stroke-width="0.9"/>
<ellipse cx="487.2" cy="205.0" rx="1.3" ry="1.5" fill="#000"/>
<path d="M481.5,213.5 C482,210.5 485,209.8 488.0,210.6 C491,211.6 491.6,215 490.4,217.6 C489,220.2 485.5,220.8 483.0,219.6" stroke-width="1.18" fill="#fff"/>
<ellipse cx="486.9" cy="215.2" rx="1.82" ry="2.60" transform="rotate(31.0 486.9 215.2)" stroke-width="1.2"/>
<ellipse cx="480.2" cy="229.9" rx="2.72" ry="3.40" transform="rotate(31.0 480.2 229.9)" stroke-width="1.0" fill="#fff"/>
<ellipse cx="480.2" cy="229.9" rx="1.36" ry="1.70" transform="rotate(31.0 480.2 229.9)" stroke-width="1.0"/>
<path d="M468.6,256.0 C470,253.5 474,253 477,254 L481.2,257.5 C484,258.5 485.6,260 485.2,262.5 C484.8,265 483.5,266.5 481.6,266.9" stroke-width="1.24"/>
<ellipse cx="481.0" cy="262.2" rx="2.16" ry="2.70" transform="rotate(31.0 481.0 262.2)" stroke-width="1.0"/>
<ellipse cx="481.0" cy="262.2" rx="1.04" ry="1.30" transform="rotate(31.0 481.0 262.2)" stroke-width="0.9"/>
<path d="M467.5,258.5 C468.5,262 471.5,264.5 474.5,264.6 M470.5,257.0 C471.5,260 473.5,261.6 476.0,261.8" stroke-width="1.06"/>
<path d="M402.8,308.8 L484.5,266.5" stroke-width="1.3"/>
<path d="M411.5,300.6 L481.0,264.6" stroke-width="2.24"/>
<path d="M413.0,297.6 L478.5,263.4" stroke-width="0.94"/>
<path d="M414.2,296.0 L414.2,291.5 C414.4,289.9 416.8,289.9 417.0,291.5 L417.0,295.0" stroke-width="1.06"/>
<path d="M433.3,285.1 L433.3,280.6 C433.5,279.0 435.9,279.0 436.1,280.6 L436.1,284.1" stroke-width="1.06"/>
<path d="M452.4,274.2 L452.4,269.7 C452.6,268.1 455.0,268.1 455.2,269.7 L455.2,273.2" stroke-width="1.06"/>
<path d="M423.1,300.5 L423.1,296.0 C423.3,294.4 425.7,294.4 425.9,296.0 L425.9,299.5" stroke-width="1.06"/>
<path d="M388.3,267 C389.5,264.8 391.2,264 392.8,264.2 L398.3,265.1 C401,266.5 402.8,268.6 403.8,271.5" stroke-width="1.24"/>
<path d="M391,267.9 L391,300.6 L392.8,303.4 L402.8,308.8 L407.4,306.1" stroke-width="1.3"/>
<path d="M394.6,271.5 L394.6,298.8" stroke-width="1.06"/>
<path d="M397.4,268.5 L397.4,300.2" stroke-width="1.06"/>
<path d="M403.8,275.1 L403.8,302.5" stroke-width="1.06"/>
<path d="M400.6,274.0 L400.6,301.8" stroke-width="0.94"/>
<path d="M391,297.9 L402.8,304.3 L409.0,301.2" stroke-width="1.06"/>
<path d="M392.8,264.2 C393.0,266.5 393.6,269 394.6,271.5" stroke-width="0.94"/>
<ellipse cx="409.3" cy="274.0" rx="5.2" ry="7.4" transform="rotate(25 409.3 274)" fill="#fff" stroke-width="1.1"/>
<ellipse cx="409.0" cy="274.6" rx="3.4" ry="5.2" transform="rotate(25 409 274.6)" stroke-width="1.3"/>
<ellipse cx="408.8" cy="275.0" rx="1.7" ry="2.8" transform="rotate(25 408.8 275)" stroke-width="0.9"/>
<path d="M404.0,279.5 L404.0,283.5 L406.5,283.0" stroke-width="1.06"/>
<ellipse cx="411.0" cy="299.7" rx="2.72" ry="3.20" transform="rotate(31.0 411.0 299.7)" stroke-width="1.0" fill="#fff"/>
<ellipse cx="411.0" cy="299.7" rx="1.44" ry="1.70" transform="rotate(31.0 411.0 299.7)" stroke-width="1.3"/>
<path d="M367.4,233.8 C367.2,232 368,230.6 369.6,229.8 L396.6,216.6 C398.6,215.8 399.9,216.6 400.0,218.8 L400.6,251.0 C400.6,252.8 399.8,254.0 398.4,254.8 L371.0,268.4 C369.0,269.2 367.6,268.4 367.5,266.4 Z" stroke-width="1.3" fill="#fff"/>
<path d="M369.4,233.6 L369.6,267.4" stroke-width="1.0"/>
<ellipse cx="383.9" cy="244.0" rx="11.6" ry="15.0" transform="rotate(17 383.9 244)" fill="#fff" stroke-width="1.15"/>
<path d="M378.0,232.4 C374.6,239 374.4,250 378.4,257.0" stroke-width="0.9"/>
<path d="M381.2,230.4 C377.6,238 377.4,250.5 381.6,258.0" stroke-width="0.85"/>
<ellipse cx="371.8" cy="235.4" rx="1.3" ry="1.5" fill="#000" stroke-width="0.5"/>
<ellipse cx="396.2" cy="222.4" rx="1.3" ry="1.5" fill="#000" stroke-width="0.5"/>
<ellipse cx="396.6" cy="249.8" rx="1.3" ry="1.5" fill="#000" stroke-width="0.5"/>
<ellipse cx="371.4" cy="263.8" rx="1.3" ry="1.5" fill="#000" stroke-width="0.5"/>
<path d="M369.1,267.9 L370,273.3 C371.5,277 374.5,279 377.8,278.4 C381,277.6 383.4,274 383.7,269.7" stroke-width="1.24"/>
<ellipse cx="377.4" cy="273.6" rx="2.40" ry="3.00" transform="rotate(31.0 377.4 273.6)" stroke-width="1.0"/>
<ellipse cx="377.4" cy="273.6" rx="1.20" ry="1.50" transform="rotate(31.0 377.4 273.6)" stroke-width="0.9"/>
<path d="M383.7,269.7 L388.3,267" stroke-width="1.18"/>
<path d="M403.8,262.4 C404.5,259 405.8,257 407.4,255.1 C409.5,252.2 412,250.2 414.7,249.6 C417.5,249.2 420,250.8 422.9,250.6 C425.5,250.4 427.6,248.8 429.3,246.9 C431,244.8 432.4,242.4 433.8,240.5" stroke-width="1.24"/>
<path d="M405.5,266.5 C406.3,262.6 408,260 410.1,257.8 C412,255.6 414,253.8 416.5,253.3 C419,253 421.4,255.2 423.8,255.1 C426.6,254.8 429,253.4 431.1,251.5" stroke-width="1.12"/>
<path d="M400.2,253.3 L403.8,262.4" stroke-width="1.06"/>
<ellipse cx="445.8" cy="254.2" rx="17.2" ry="21.8" transform="rotate(12 445.8 254.2)" fill="#fff" stroke-width="1.15"/>
<path d="M430.0,266.0 C426.0,256 427.0,243 433.8,236.2 C440,230.0 450,229.0 457.0,233.4 C463.6,238 466.6,248 465.4,258.5" stroke-width="1.6"/>
<path d="M427.6,266.6 C423.6,255 425.0,241 432.4,234.0 C439,227.6 451,226.6 458.6,231.2 C465.8,236 469.0,246.5 468.0,257.0" stroke-width="0.9"/>
<path d="M436.5,240.0 C432.5,247 432.6,262 437.4,270.5" stroke-width="0.85"/>
<ellipse cx="408.1" cy="229.7" rx="2.88" ry="3.60" transform="rotate(31.0 408.1 229.7)" stroke-width="1.0"/>
<ellipse cx="408.1" cy="229.7" rx="1.52" ry="1.90" transform="rotate(31.0 408.1 229.7)" stroke-width="0.9"/>
<ellipse cx="440.7" cy="223.6" rx="2.88" ry="3.60" transform="rotate(31.0 440.7 223.6)" stroke-width="1.0"/>
<ellipse cx="440.7" cy="223.6" rx="1.52" ry="1.90" transform="rotate(31.0 440.7 223.6)" stroke-width="0.9"/>
<ellipse cx="432.6" cy="229.6" rx="3.6" ry="2.9" transform="rotate(-30 432.6 229.6)" stroke-width="1.0"/>
<ellipse cx="458.0" cy="206.3" rx="4.6" ry="3.8" fill="#fff" stroke-width="1.0"/>
<ellipse cx="451.6" cy="206.4" rx="5.0" ry="4.0" transform="rotate(-35 451.6 206.4)" fill="#222" stroke-width="1.0"/>
<ellipse cx="451.4" cy="206.6" rx="2.4" ry="1.7" transform="rotate(-35 451.4 206.6)" fill="#bbb" stroke="none"/>
<path d="M459.5,207.2 L491.0,226.0" stroke-width="0.9"/>
<path d="M488.9,233.5 L488.6,233.3 L488.4,233.1 L488.2,232.8 L488.1,232.4 L488.0,232.0 L488.0,231.6 L488.0,231.1 L488.1,230.6 L488.2,230.1 L488.4,229.6 L488.6,229.1 L488.9,228.6 L489.2,228.2 L489.5,227.8 L489.9,227.4 L490.3,227.0 L490.7,226.7 L491.1,226.5 L491.5,226.3 L491.9,226.2 L492.2,226.1 L492.6,226.1 L492.9,226.2 L493.2,226.3 L499.7,230.2 L499.9,230.4 L500.1,230.7 L500.3,231.0 L500.5,231.3 L500.5,231.7 L500.6,232.2 L500.5,232.6 L500.5,233.1 L500.3,233.6 L500.1,234.1 L499.9,234.6 L499.7,235.1 L499.4,235.6 L499.0,236.0 L498.7,236.4 L498.3,236.7 L497.9,237.0 L497.5,237.3 L497.1,237.4 L496.7,237.6 L496.3,237.6 L496.0,237.6 L495.6,237.5 L495.3,237.4 Z" stroke-width="1.0" fill="#fff"/>
<ellipse cx="497.5" cy="233.8" rx="2.52" ry="4.20" transform="rotate(31.0 497.5 233.8)" stroke-width="1.0" fill="#fff"/>
<path d="M497.2,230.4 L504.5,228.4 L512.8,233.2 L512.4,240.6 L506.8,246.6 L499.4,244.6 L496.0,238.6 Z" fill="#1a1a1a" stroke-width="1.0"/>
<path d="M501.6,233.6 L507.4,236.6 L505.8,242.2 L500.6,240.0 Z" fill="#fff" stroke="none"/>
<path d="M508.6,233.6 L510.8,235.0 L510.4,239.0" stroke="#fff" stroke-width="0.9"/>
<path d="M519.7,239.5 L526.2,243.3" stroke-width="0.9"/>
<path d="M517.9,242.5 L524.3,246.4" stroke-width="0.9"/>
<path d="M517.9,242.5 L517.6,242.2 L517.5,241.7 L517.7,241.1 L518.0,240.5 L518.4,239.9 L518.9,239.5 L519.3,239.4 L519.7,239.5" stroke-width="0.9"/>
<path d="M520.9,240.2 L521.2,240.6 L521.2,241.4 L520.8,242.2 L520.3,242.9 L519.6,243.3 L519.1,243.3" stroke-width="0.9"/>
<path d="M522.1,240.9 L522.4,241.4 L522.4,242.1 L522.0,243.0 L521.5,243.7 L520.8,244.0 L520.3,244.0" stroke-width="0.9"/>
<path d="M523.3,241.6 L523.6,242.1 L523.6,242.8 L523.2,243.7 L522.7,244.4 L522.0,244.8 L521.5,244.7" stroke-width="0.9"/>
<path d="M524.5,242.3 L524.8,242.8 L524.8,243.6 L524.4,244.4 L523.9,245.1 L523.2,245.5 L522.7,245.4" stroke-width="0.9"/>
<path d="M525.7,243.1 L526.0,243.5 L526.0,244.3 L525.6,245.1 L525.1,245.8 L524.4,246.2 L523.9,246.1" stroke-width="0.9"/>
<path d="M524.2,248.8 L524.0,248.7 L523.8,248.4 L523.7,248.2 L523.6,247.8 L523.5,247.5 L523.5,247.1 L523.6,246.6 L523.7,246.2 L523.8,245.7 L524.0,245.3 L524.2,244.8 L524.4,244.4 L524.7,243.9 L525.0,243.5 L525.3,243.2 L525.7,242.8 L526.0,242.6 L526.4,242.3 L526.7,242.1 L527.1,242.0 L527.4,242.0 L527.7,242.0 L528.0,242.0 L528.3,242.1 L530.5,243.5 L530.7,243.6 L530.9,243.9 L531.1,244.1 L531.2,244.5 L531.2,244.8 L531.2,245.2 L531.2,245.7 L531.1,246.1 L531.0,246.6 L530.8,247.0 L530.6,247.5 L530.3,247.9 L530.1,248.4 L529.7,248.8 L529.4,249.1 L529.1,249.5 L528.7,249.7 L528.4,250.0 L528.0,250.2 L527.7,250.3 L527.3,250.3 L527.0,250.3 L526.7,250.3 L526.5,250.2 Z" stroke-width="0.9" fill="#fff"/>
<ellipse cx="528.5" cy="246.8" rx="2.15" ry="3.91" transform="rotate(31.0 528.5 246.8)" stroke-width="0.9" fill="#fff"/>
<path d="M531.2,244.5 L530.3,247.9 L527.7,250.3 L525.8,249.2 L526.6,245.7 L529.3,243.4 Z" stroke-width="0.9" fill="#fff"/>
<ellipse cx="528.5" cy="246.8" rx="1.26" ry="2.30" transform="rotate(31.0 528.5 246.8)" stroke-width="0.7200000000000001"/>
<ellipse cx="531.6" cy="248.6" rx="3.4" ry="4.4" transform="rotate(31 531.6 248.6)" fill="#222" stroke-width="1.0"/>
<path d="M530.6,246.4 L533.2,250.8" stroke="#ddd" stroke-width="0.8"/>
<path d="M513.5,238.6 L518.0,240.8" stroke-width="0.9"/>
<path d="M433.5,145.9 L459.0,160.5" stroke-width="0.9"/>
<path d="M463.0,162.5 L496.0,182.0" stroke-width="0.9"/>
</g>
<g id="block-deck">
<path d="M50,234.5 L55,229.5 L76.7,210 C80,207.5 84,206 88.4,205.7 L119.5,204.6 C122,204.6 124,205.2 126.5,206.6 L250.5,280.6 C252.8,282 253.8,283.4 253.8,285.4 L253.7,292.5" stroke-width="1.32"/>
<path d="M50,234.5 L50,239.5" stroke-width="1.26"/>
<path d="M50,239.0 L63.4,239.1 C69.4,246.6 85.4,250.1 96.4,251.1 L99.4,254.1 L99.8,261.2 C105.8,268.7 121.8,272.2 132.8,273.2 L135.8,276.2 L136.2,283.3 C142.2,290.8 158.2,294.3 169.2,295.3 L172.2,298.3 L172.6,305.4 C178.6,312.9 194.6,316.4 205.6,317.4 L208.6,320.4 L203,328 L219,318.5 L242.7,303.8 L253.7,296.5" stroke-width="1.26"/>
<path d="M50,242.4 L63.4,242.4 C69.4,249.9 85.4,253.4 96.4,254.4 L99.4,257.4 L99.8,264.5 C105.8,272.0 121.8,275.5 132.8,276.5 L135.8,279.5 L136.2,286.6 C142.2,294.1 158.2,297.6 169.2,298.6 L172.2,301.6 L172.6,308.7 C178.6,316.2 194.6,319.7 205.6,320.7 L208.6,323.7 L203,331.4 L219,321.8 L242.7,307 L253.0,300.0" stroke-width="1.03"/>
<path d="M57,234 L79,213.5 C82,211 85,210 88.8,209.6 L119,208.6 C121.5,208.6 123,209.2 125,210.4 L246,282.6 C247.6,283.8 248.2,284.8 248.0,286.4" stroke-width="0.98"/>
<ellipse cx="93.4" cy="229.6" rx="26.4" ry="15.0" transform="rotate(11 93.4 229.6)" fill="#fff" stroke-width="1.15"/>
<ellipse cx="93.4" cy="229.6" rx="23.4" ry="12.0" transform="rotate(11 93.4 229.6)" fill="#fff" stroke-width="1.4"/>
<ellipse cx="113.2" cy="210.0" rx="4.4" ry="2.5" transform="rotate(28 113.2 210.0)" stroke-width="1.1"/>
<ellipse cx="130.0" cy="220.2" rx="5.2" ry="2.9" transform="rotate(28 130.0 220.2)" stroke-width="1.1"/>
<ellipse cx="67.4" cy="219.6" rx="1.9" ry="1.3" stroke-width="1.0"/>
<ellipse cx="120.9" cy="223.6" rx="1.9" ry="1.3" stroke-width="1.0"/>
<ellipse cx="72.4" cy="240.6" rx="1.9" ry="1.3" stroke-width="1.0"/>
<ellipse cx="101.4" cy="210.6" rx="1.9" ry="1.3" stroke-width="1.0"/>
<ellipse cx="122.9" cy="233.6" rx="1.9" ry="1.3" stroke-width="1.0"/>
<ellipse cx="89.9" cy="247.1" rx="1.9" ry="1.3" stroke-width="1.0"/>
<ellipse cx="119.4" cy="242.6" rx="1.9" ry="1.3" stroke-width="1.0"/>
<ellipse cx="129.8" cy="251.7" rx="26.4" ry="15.0" transform="rotate(11 129.8 251.7)" fill="#fff" stroke-width="1.15"/>
<ellipse cx="129.8" cy="251.7" rx="23.4" ry="12.0" transform="rotate(11 129.8 251.7)" fill="#fff" stroke-width="1.4"/>
<ellipse cx="149.6" cy="232.1" rx="4.4" ry="2.5" transform="rotate(28 149.6 232.1)" stroke-width="1.1"/>
<ellipse cx="166.4" cy="242.3" rx="5.2" ry="2.9" transform="rotate(28 166.4 242.3)" stroke-width="1.1"/>
<ellipse cx="103.8" cy="241.7" rx="1.9" ry="1.3" stroke-width="1.0"/>
<ellipse cx="157.3" cy="245.7" rx="1.9" ry="1.3" stroke-width="1.0"/>
<ellipse cx="108.8" cy="262.7" rx="1.9" ry="1.3" stroke-width="1.0"/>
<ellipse cx="137.8" cy="232.7" rx="1.9" ry="1.3" stroke-width="1.0"/>
<ellipse cx="159.3" cy="255.7" rx="1.9" ry="1.3" stroke-width="1.0"/>
<ellipse cx="126.3" cy="269.2" rx="1.9" ry="1.3" stroke-width="1.0"/>
<ellipse cx="155.8" cy="264.7" rx="1.9" ry="1.3" stroke-width="1.0"/>
<ellipse cx="166.2" cy="273.8" rx="26.4" ry="15.0" transform="rotate(11 166.2 273.8)" fill="#fff" stroke-width="1.15"/>
<ellipse cx="166.2" cy="273.8" rx="23.4" ry="12.0" transform="rotate(11 166.2 273.8)" fill="#fff" stroke-width="1.4"/>
<ellipse cx="186.0" cy="254.2" rx="4.4" ry="2.5" transform="rotate(28 186.0 254.2)" stroke-width="1.1"/>
<ellipse cx="202.8" cy="264.4" rx="5.2" ry="2.9" transform="rotate(28 202.8 264.4)" stroke-width="1.1"/>
<ellipse cx="140.2" cy="263.8" rx="1.9" ry="1.3" stroke-width="1.0"/>
<ellipse cx="193.7" cy="267.8" rx="1.9" ry="1.3" stroke-width="1.0"/>
<ellipse cx="145.2" cy="284.8" rx="1.9" ry="1.3" stroke-width="1.0"/>
<ellipse cx="174.2" cy="254.8" rx="1.9" ry="1.3" stroke-width="1.0"/>
<ellipse cx="195.7" cy="277.8" rx="1.9" ry="1.3" stroke-width="1.0"/>
<ellipse cx="162.7" cy="291.3" rx="1.9" ry="1.3" stroke-width="1.0"/>
<ellipse cx="192.2" cy="286.8" rx="1.9" ry="1.3" stroke-width="1.0"/>
<ellipse cx="202.6" cy="295.9" rx="26.4" ry="15.0" transform="rotate(11 202.6 295.9)" fill="#fff" stroke-width="1.15"/>
<ellipse cx="202.6" cy="295.9" rx="23.4" ry="12.0" transform="rotate(11 202.6 295.9)" fill="#fff" stroke-width="1.4"/>
<ellipse cx="222.4" cy="276.3" rx="4.4" ry="2.5" transform="rotate(28 222.4 276.3)" stroke-width="1.1"/>
<ellipse cx="239.2" cy="286.5" rx="5.2" ry="2.9" transform="rotate(28 239.2 286.5)" stroke-width="1.1"/>
<ellipse cx="176.6" cy="285.9" rx="1.9" ry="1.3" stroke-width="1.0"/>
<ellipse cx="230.1" cy="289.9" rx="1.9" ry="1.3" stroke-width="1.0"/>
<ellipse cx="181.6" cy="306.9" rx="1.9" ry="1.3" stroke-width="1.0"/>
<ellipse cx="210.6" cy="276.9" rx="1.9" ry="1.3" stroke-width="1.0"/>
<ellipse cx="232.1" cy="299.9" rx="1.9" ry="1.3" stroke-width="1.0"/>
<ellipse cx="199.1" cy="313.4" rx="1.9" ry="1.3" stroke-width="1.0"/>
<ellipse cx="228.6" cy="308.9" rx="1.9" ry="1.3" stroke-width="1.0"/>
<ellipse cx="94.8" cy="227.6" rx="1.5" ry="2.6" transform="rotate(25 94.8 227.6)" stroke-width="1.0"/>
<ellipse cx="99" cy="207.8" rx="3.4" ry="2.0" stroke-width="1.0"/>
<ellipse cx="85" cy="210.8" rx="2.4" ry="1.6" stroke-width="1.0"/>
<ellipse cx="60.5" cy="228.5" rx="2.0" ry="1.5" stroke-width="1.0"/>
<path d="M64,221 L69,226 L67,232" stroke-width="0.92"/>
</g>
<g id="block-side">
<path d="M52.0,247.8 L52.0,262.2" stroke-width="0.63"/>
<path d="M56.5,253.1 L56.5,266.3" stroke-width="0.63"/>
<path d="M75.0,263.3 L75.0,281.1" stroke-width="0.63"/>
<path d="M78.5,261.6 L78.5,281.7" stroke-width="0.63"/>
<path d="M82.5,263.8 L82.5,282.7" stroke-width="0.63"/>
<path d="M87.0,266.8 L87.0,280.2" stroke-width="0.63"/>
<path d="M55.1,258.0 L76.1,266.2 M53.1,264.0 L74.1,272.2" stroke-width="1.15"/>
<ellipse cx="54.1" cy="261.0" rx="3.0" ry="3.0" stroke-width="1.0" fill="#fff"/>
<ellipse cx="54.1" cy="261.0" rx="1.4" ry="1.4" stroke-width="0.9"/>
<ellipse cx="75.1" cy="269.2" rx="3.0" ry="3.0" stroke-width="1.0" fill="#fff"/>
<ellipse cx="75.1" cy="269.2" rx="1.4" ry="1.4" stroke-width="0.9"/>
<ellipse cx="63.3" cy="251.9" rx="2.8" ry="2.8" stroke-width="0.9"/>
<ellipse cx="66.0" cy="285.6" rx="7.4" ry="10.2" transform="rotate(-20 66.0 285.6)" fill="#fff" stroke-width="1.35"/>
<ellipse cx="66.9" cy="286.2" rx="5.0" ry="7.6" transform="rotate(-20 66.9 286.2)" stroke-width="1.15"/>
<path d="M62.4,280.1 C60.4,284.6 61.6,290.6 65.4,293.6" stroke-width="0.8"/>
<path d="M71.8,260.5 L71.8,285.7" stroke-width="0.63"/>
<path d="M76.3,260.8 L76.3,276.4" stroke-width="0.63"/>
<path d="M80.8,267.5 L80.8,294.7" stroke-width="0.63"/>
<path d="M84.3,269.2 L84.3,287.6" stroke-width="0.63"/>
<path d="M88.8,275.1 L88.8,287.9" stroke-width="0.63"/>
<path d="M93.3,276.9 L93.3,293.5" stroke-width="0.63"/>
<path d="M111.8,282.3 L111.8,296.1" stroke-width="0.63"/>
<path d="M115.3,285.7 L115.3,310.7" stroke-width="0.63"/>
<path d="M119.3,287.1 L119.3,308.4" stroke-width="0.63"/>
<path d="M123.8,293.4 L123.8,311.4" stroke-width="0.63"/>
<path d="M75.1,273.7 L86.0,317.1 L91.5,318.4 L102.4,286.8" stroke-width="1.09"/>
<path d="M81.3,275.5 L89.2,308.6 L97.0,284.7" stroke-width="1.03"/>
<path d="M78.2,274.6 L87.8,312.6" stroke-width="0.8"/>
<path d="M86.0,317.1 L86.0,326.6 M91.5,318.4 L91.5,329.6" stroke-width="1.03"/>
<path d="M77.8,270.6 C87.8,271.6 85.8,281.6 96.8,282.6" stroke-width="1.26"/>
<path d="M79.8,267.1 C90.8,268.1 88.8,278.1 98.8,279.1" stroke-width="1.15"/>
<path d="M96.8,282.6 L109.3,287.6 M98.8,279.1 L110.3,284.1" stroke-width="1.15"/>
<ellipse cx="106.8" cy="284.6" rx="1.5" ry="1.5" stroke-width="1.0"/>
<path d="M91.9,278.0 L112.9,286.2 M89.9,284.0 L110.9,292.2" stroke-width="1.15"/>
<ellipse cx="90.9" cy="281.0" rx="3.0" ry="3.0" stroke-width="1.0" fill="#fff"/>
<ellipse cx="90.9" cy="281.0" rx="1.4" ry="1.4" stroke-width="0.9"/>
<ellipse cx="111.9" cy="289.2" rx="3.0" ry="3.0" stroke-width="1.0" fill="#fff"/>
<ellipse cx="111.9" cy="289.2" rx="1.4" ry="1.4" stroke-width="0.9"/>
<ellipse cx="100.1" cy="271.9" rx="2.8" ry="2.8" stroke-width="0.9"/>
<ellipse cx="102.8" cy="305.6" rx="7.4" ry="10.2" transform="rotate(-20 102.8 305.6)" fill="#fff" stroke-width="1.35"/>
<ellipse cx="103.8" cy="306.2" rx="5.0" ry="7.6" transform="rotate(-20 103.8 306.2)" stroke-width="1.15"/>
<path d="M99.2,300.1 C97.2,304.6 98.4,310.6 102.2,313.6" stroke-width="0.8"/>
<path d="M108.7,283.6 L108.7,296.6" stroke-width="0.63"/>
<path d="M113.2,282.4 L113.2,297.7" stroke-width="0.63"/>
<path d="M117.7,290.1 L117.7,308.9" stroke-width="0.63"/>
<path d="M121.2,289.2 L121.2,310.6" stroke-width="0.63"/>
<path d="M125.7,293.0 L125.7,309.8" stroke-width="0.63"/>
<path d="M130.2,298.5 L130.2,321.7" stroke-width="0.63"/>
<path d="M148.7,305.2 L148.7,326.4" stroke-width="0.63"/>
<path d="M152.2,309.5 L152.2,335.5" stroke-width="0.63"/>
<path d="M156.2,313.6 L156.2,330.2" stroke-width="0.63"/>
<path d="M160.7,318.3 L160.7,332.2" stroke-width="0.63"/>
<path d="M112.0,293.7 L122.9,337.1 L128.4,338.4 L139.3,306.8" stroke-width="1.09"/>
<path d="M118.2,295.5 L126.1,328.6 L133.9,304.7" stroke-width="1.03"/>
<path d="M115.1,294.6 L124.7,332.6" stroke-width="0.8"/>
<path d="M122.9,337.1 L122.9,346.6 M128.4,338.4 L128.4,349.6" stroke-width="1.03"/>
<path d="M114.7,290.6 C124.7,291.6 122.7,301.6 133.7,302.6" stroke-width="1.26"/>
<path d="M116.7,287.1 C127.7,288.1 125.7,298.1 135.7,299.1" stroke-width="1.15"/>
<path d="M133.7,302.6 L146.2,307.6 M135.7,299.1 L147.2,304.1" stroke-width="1.15"/>
<ellipse cx="143.7" cy="304.6" rx="1.5" ry="1.5" stroke-width="1.0"/>
<path d="M128.8,298.0 L149.8,306.2 M126.8,304.0 L147.8,312.2" stroke-width="1.15"/>
<ellipse cx="127.8" cy="301.0" rx="3.0" ry="3.0" stroke-width="1.0" fill="#fff"/>
<ellipse cx="127.8" cy="301.0" rx="1.4" ry="1.4" stroke-width="0.9"/>
<ellipse cx="148.8" cy="309.2" rx="3.0" ry="3.0" stroke-width="1.0" fill="#fff"/>
<ellipse cx="148.8" cy="309.2" rx="1.4" ry="1.4" stroke-width="0.9"/>
<ellipse cx="137.0" cy="291.9" rx="2.8" ry="2.8" stroke-width="0.9"/>
<ellipse cx="139.7" cy="325.6" rx="7.4" ry="10.2" transform="rotate(-20 139.7 325.6)" fill="#fff" stroke-width="1.35"/>
<ellipse cx="140.6" cy="326.2" rx="5.0" ry="7.6" transform="rotate(-20 140.6 326.2)" stroke-width="1.15"/>
<path d="M136.1,320.1 C134.1,324.6 135.3,330.6 139.1,333.6" stroke-width="0.8"/>
<path d="M145.6,304.7 L145.6,328.8" stroke-width="0.63"/>
<path d="M150.1,305.2 L150.1,325.1" stroke-width="0.63"/>
<path d="M154.6,307.0 L154.6,329.7" stroke-width="0.63"/>
<path d="M158.1,314.9 L158.1,336.1" stroke-width="0.63"/>
<path d="M162.6,318.5 L162.6,335.6" stroke-width="0.63"/>
<path d="M167.1,319.8 L167.1,341.3" stroke-width="0.63"/>
<path d="M185.6,330.0 L185.6,349.3" stroke-width="0.63"/>
<path d="M189.1,334.1 L189.1,361.3" stroke-width="0.63"/>
<path d="M193.1,333.6 L193.1,356.2" stroke-width="0.63"/>
<path d="M197.6,333.0 L197.6,356.2" stroke-width="0.63"/>
<path d="M148.9,313.7 L159.8,357.1 L165.2,358.4 L176.2,326.8" stroke-width="1.09"/>
<path d="M155.1,315.5 L163.0,348.6 L170.8,324.7" stroke-width="1.03"/>
<path d="M152.0,314.6 L161.6,352.6" stroke-width="0.8"/>
<path d="M159.8,357.1 L159.8,366.6 M165.2,358.4 L165.2,369.6" stroke-width="1.03"/>
<path d="M151.6,310.6 C161.6,311.6 159.6,321.6 170.6,322.6" stroke-width="1.26"/>
<path d="M153.6,307.1 C164.6,308.1 162.6,318.1 172.6,319.1" stroke-width="1.15"/>
<path d="M170.6,322.6 L183.1,327.6 M172.6,319.1 L184.1,324.1" stroke-width="1.15"/>
<ellipse cx="180.6" cy="324.6" rx="1.5" ry="1.5" stroke-width="1.0"/>
<path d="M165.7,318.0 L186.7,326.2 M163.7,324.0 L184.7,332.2" stroke-width="1.15"/>
<ellipse cx="164.7" cy="321.0" rx="3.0" ry="3.0" stroke-width="1.0" fill="#fff"/>
<ellipse cx="164.7" cy="321.0" rx="1.4" ry="1.4" stroke-width="0.9"/>
<ellipse cx="185.7" cy="329.2" rx="3.0" ry="3.0" stroke-width="1.0" fill="#fff"/>
<ellipse cx="185.7" cy="329.2" rx="1.4" ry="1.4" stroke-width="0.9"/>
<ellipse cx="173.9" cy="311.9" rx="2.8" ry="2.8" stroke-width="0.9"/>
<ellipse cx="176.6" cy="345.6" rx="7.4" ry="10.2" transform="rotate(-20 176.6 345.6)" fill="#fff" stroke-width="1.35"/>
<ellipse cx="177.5" cy="346.2" rx="5.0" ry="7.6" transform="rotate(-20 177.5 346.2)" stroke-width="1.15"/>
<path d="M173.0,340.1 C171.0,344.6 172.2,350.6 176.0,353.6" stroke-width="0.8"/>
<path d="M182.4,328.6 L182.4,356.5" stroke-width="0.63"/>
<path d="M186.9,332.7 L186.9,349.3" stroke-width="0.63"/>
<path d="M191.4,331.9 L191.4,354.6" stroke-width="0.63"/>
<path d="M194.9,331.1 L194.9,350.5" stroke-width="0.63"/>
<path d="M199.4,335.0 L199.4,348.9" stroke-width="0.63"/>
<path d="M185.7,333.7 L196.6,377.1 L202.1,378.4 L213.0,346.8" stroke-width="1.09"/>
<path d="M191.9,335.5 L199.8,368.6 L207.6,344.7" stroke-width="1.03"/>
<path d="M188.8,334.6 L198.4,372.6" stroke-width="0.8"/>
<path d="M196.6,377.1 L196.6,386.6 M202.1,378.4 L202.1,389.6" stroke-width="1.03"/>
<path d="M188.4,330.6 C198.4,331.6 196.4,341.6 207.4,342.6" stroke-width="1.26"/>
<path d="M190.4,327.1 C201.4,328.1 199.4,338.1 209.4,339.1" stroke-width="1.15"/>
<path d="M207.4,342.6 L219.9,347.6 M209.4,339.1 L220.9,344.1" stroke-width="1.15"/>
<ellipse cx="217.4" cy="344.6" rx="1.5" ry="1.5" stroke-width="1.0"/>
<path d="M50,242.5 L50.9,247.5 L46.5,252 L46.5,262 L50.5,266.5" stroke-width="1.21"/>
<ellipse cx="52.8" cy="259.1" rx="3.6" ry="3.6" stroke-width="1.1" fill="#fff"/>
<ellipse cx="52.8" cy="259.1" rx="1.6" ry="1.6" stroke-width="1.0"/>
<ellipse cx="65.6" cy="251.2" rx="3.2" ry="3.2" stroke-width="1.0" fill="#fff"/>
<ellipse cx="65.6" cy="251.2" rx="1.4" ry="1.4" stroke-width="0.9"/>
<ellipse cx="72.6" cy="269.0" rx="3.6" ry="3.6" stroke-width="1.1" fill="#fff"/>
<ellipse cx="72.6" cy="269.0" rx="1.6" ry="1.6" stroke-width="1.0"/>
<path d="M55.5,256.5 L63.5,248.5 M56.5,262 L69.5,267 M68.5,253 L75,266" stroke-width="1.15"/>
<path d="M50.5,266.5 L48,274 L51,279 L47.5,286 L44,292" stroke-width="1.15"/>
<path d="M56,270 L53,278 L57,284 L53,293" stroke-width="1.03"/>
<ellipse cx="46.8" cy="300.6" rx="5.4" ry="5.4" stroke-width="1.1" fill="#fff"/>
<ellipse cx="46.8" cy="300.6" rx="2.9" ry="2.9" stroke-width="2.2"/>
<path d="M42,296 L40.5,303 L43.5,307.5 M51.5,297.5 L58,300 L60,305.5 L55,308.5 L48.5,306" stroke-width="1.15"/>
<path d="M41.2,309.7 L34.9,328.9 L29.6,341.6 L23.2,342.7 L23.2,371.4" stroke-width="1.26"/>
<path d="M44.5,311 L38.5,329.5 L34,340.5" stroke-width="1.03"/>
<path d="M47.5,312 L42,330 L38,339" stroke-width="0.92"/>
<path d="M23.2,342.7 L26,339.5 L32,345 L32,351 L27,356 L27,366 L31.5,371.5 L36,374" stroke-width="1.15"/>
<ellipse cx="36.0" cy="351.5" rx="2.0" ry="2.0" stroke-width="0.8" fill="#000"/>
<ellipse cx="35.0" cy="372.0" rx="2.0" ry="2.0" stroke-width="0.8" fill="#000"/>
<ellipse cx="50.5" cy="360.0" rx="2.2" ry="2.2" stroke-width="0.8" fill="#000"/>
<ellipse cx="51.0" cy="384.0" rx="1.8" ry="1.8" stroke-width="0.8" fill="#000"/>
<ellipse cx="44.0" cy="365.5" rx="1.6" ry="1.6" stroke-width="0.8" fill="#000"/>
<path d="M36,356 C39,352 43,353 44,357 C45,361 41,364 38.5,362 M41,368 C44,366 47,368 47,371.5 C46.5,375 42,376 40,374" stroke-width="1.03"/>
<path d="M50.0,347.0 C46.0,338.0 50.0,326.0 58.0,321.0" stroke-width="1.03"/>
<path d="M53.6,348.3 C49.6,339.6 53.6,327.6 61.6,322.6" stroke-width="1.03"/>
<path d="M57.2,349.6 C53.2,341.2 57.2,329.2 65.2,324.2" stroke-width="1.03"/>
<path d="M60.8,350.8 C56.8,342.8 60.8,330.8 68.8,325.8" stroke-width="1.03"/>
<path d="M64.4,352.1 C60.4,344.4 64.4,332.4 72.4,327.4" stroke-width="1.03"/>
<path d="M68.0,353.4 C64.0,346.0 68.0,334.0 76.0,329.0" stroke-width="1.03"/>
<path d="M71.6,354.7 C67.6,347.6 71.6,335.6 79.6,330.6" stroke-width="1.03"/>
<path d="M75.2,356.0 C71.2,349.2 75.2,337.2 83.2,332.2" stroke-width="1.03"/>
<path d="M58,321 L62,318.5 L86.5,332 L84,336" stroke-width="1.15"/>
<path d="M50,347 L53,351.5 L76,361 L80,357" stroke-width="1.15"/>
<path d="M62.5,318.5 C66,316.5 70.5,317.5 72,320.5 M79,325 C82,323.5 86,325 86.5,328.5" stroke-width="1.03"/>
<ellipse cx="58.5" cy="313.5" rx="3.0" ry="3.0" stroke-width="2.0"/>
<path d="M54,309 L63,310 L66.5,315.5" stroke-width="1.03"/>
<ellipse cx="90.6" cy="331.8" rx="3.4" ry="3.4" stroke-width="1.6" fill="#fff"/>
<ellipse cx="90.6" cy="331.8" rx="1.2" ry="1.2" stroke-width="0.8"/>
<path d="M84.5,328 L94,325.5 L97,331 M86,336.5 L93.5,338.5 L98.5,334" stroke-width="1.03"/>
<ellipse cx="113.8" cy="342.6" rx="4.6" ry="6.0" transform="rotate(-20 113.8 342.6)" fill="#fff" stroke-width="1.5"/>
<ellipse cx="114.2" cy="343.0" rx="2.2" ry="3.2" transform="rotate(-20 114.2 343)" stroke-width="0.9"/>
<path d="M98,331.5 L107,336.5 M99,338 L108,347 M119,338.5 L128,340.5 M118.5,349 L126,353" stroke-width="1.03"/>
<path d="M67.8,367.1 L78.4,361.8 L90.1,356.5 L96.5,359.7 L113.5,367.1 L113.5,390.5 L108.2,400 L100.7,399 L79.5,379.9 L68.9,373.5 Z" stroke-width="1.26" fill="#fff"/>
<path d="M96.5,359.7 L96.8,394" stroke-width="0.92"/>
<ellipse cx="106.7" cy="373.5" rx="1.4" ry="1.4" stroke-width="0.6" fill="#000"/>
<ellipse cx="107.1" cy="397.0" rx="1.4" ry="1.4" stroke-width="0.6" fill="#000"/>
<ellipse cx="101.8" cy="381.6" rx="2.0" ry="2.6" stroke-width="0.9"/>
<ellipse cx="100.9" cy="390.2" rx="2.0" ry="2.6" stroke-width="0.9"/>
<ellipse cx="63.5" cy="362.8" rx="2.6" ry="2.6" stroke-width="1.0"/>
<ellipse cx="74.5" cy="363.5" rx="1.6" ry="1.6" stroke-width="0.9"/>
<path d="M61,366 L66,371 M58.5,361 L54,357" stroke-width="1.03"/>
<path d="M66,376 C70,381 72,386 79,388 C84,389 86,385 83,382 M72,378 L75,384 M86,392 C90,396 94,401 99,402 M90,389 L94,396 M82,395 L88,401 M76,390 L80,396" stroke-width="1.03"/>
<path d="M103,403 C108,408 114,409 118,406 M110,402 L114,408 M121,401 L125,409 L131,411 M127,404 L133,408" stroke-width="1.03"/>
<path d="M113.5,367.1 L122,362 L127,364.5 L127,372 L121,376 L113.5,378" stroke-width="1.15"/>
<path d="M122,362 L121.5,352 L127,349 L131,351.5 L131,360" stroke-width="1.03"/>
<path d="M124,377 L136,383.5 L136,390 M127.5,372 L141,379.5 L146,377" stroke-width="1.03"/>
<path d="M131,351.5 L143,358 L143,366 L137,369.5 M133,362 L133,371" stroke-width="1.03"/>
<ellipse cx="119.5" cy="356.5" rx="1.6" ry="1.6" stroke-width="0.9"/>
<ellipse cx="139.0" cy="362.5" rx="1.6" ry="1.6" stroke-width="0.9"/>
<ellipse cx="152.2" cy="395.2" rx="9.2" ry="8.0" transform="rotate(-20 152.2 395.2)" fill="#fff" stroke-width="1.3"/>
<ellipse cx="153.4" cy="394.4" rx="6.4" ry="5.6" transform="rotate(-20 153.4 394.4)" stroke-width="1.0"/>
<path d="M144.5,399 C147,404 154,406 159,402.5" stroke-width="1.6"/>
<path d="M143,388 L139,392 L139,401 L144,407 M161.5,390 L166,394 L166,402" stroke-width="1.03"/>
<path d="M23.2,371.4 L51.9,388.3 L120,425.1 L205.1,469" stroke-width="1.32"/>
<path d="M27,366.5 L55,383.6 L122,420 L200,460.5" stroke-width="1.15"/>
<path d="M31.5,364 L58,380 L124,416" stroke-width="0.92"/>
<ellipse cx="60.5" cy="387.1" rx="1.5" ry="1.5" stroke-width="0.8"/>
<path d="M57.5,383.7 L57.5,388.5 M63.5,386.9 L63.5,391.5" stroke-width="0.92"/>
<ellipse cx="84.0" cy="399.8" rx="1.5" ry="1.5" stroke-width="0.8"/>
<path d="M81.0,396.4 L81.0,401.2 M87.0,399.6 L87.0,404.2" stroke-width="0.92"/>
<ellipse cx="108.0" cy="412.8" rx="1.5" ry="1.5" stroke-width="0.8"/>
<path d="M105.0,409.4 L105.0,414.2 M111.0,412.6 L111.0,417.2" stroke-width="0.92"/>
<ellipse cx="132.0" cy="425.6" rx="1.5" ry="1.5" stroke-width="0.8"/>
<path d="M129.0,422.2 L129.0,427.0 M135.0,425.4 L135.0,430.0" stroke-width="0.92"/>
<ellipse cx="157.0" cy="438.6" rx="1.5" ry="1.5" stroke-width="0.8"/>
<path d="M154.0,435.2 L154.0,440.0 M160.0,438.4 L160.0,443.0" stroke-width="0.92"/>
<ellipse cx="181.0" cy="451.2" rx="1.5" ry="1.5" stroke-width="0.8"/>
<path d="M178.0,447.8 L178.0,452.6 M184.0,451.0 L184.0,455.6" stroke-width="0.92"/>
<path d="M128,412 C133,418 139,420 145,417 M150,410 L153,418 L160,421 M137,405 L141,412 M163,408 L166,417 L172,424 L178,424" stroke-width="1.03"/>
<path d="M168,432 L172,440 L180,443 M185,428 L188,437 L194,442 M176,418 L181,426" stroke-width="1.03"/>
<path d="M171,405 L171,428 M180,410 L180,440 M188,424 L188,452" stroke-width="0.8"/>
</g>
<g id="block-front">
<path d="M253.0,300 L252.8,314.3 L257.7,316.7 L271,326.4" stroke-width="1.26"/>
<path d="M250.0,302.5 L250.0,313 M247,304.5 L247,310" stroke-width="1.03"/>
<ellipse cx="248.0" cy="308.2" rx="1.3" ry="1.3" stroke-width="0.6" fill="#000"/>
<ellipse cx="244.3" cy="324.0" rx="1.3" ry="1.3" stroke-width="0.6" fill="#000"/>
<ellipse cx="221.3" cy="349.5" rx="1.3" ry="1.3" stroke-width="0.6" fill="#000"/>
<ellipse cx="207.5" cy="331.5" rx="1.3" ry="1.3" stroke-width="0.6" fill="#000"/>
<ellipse cx="248.0" cy="342.9" rx="1.4" ry="1.4" stroke-width="0.9"/>
<path d="M203,331.4 L203,338 L199,340.5 L199,345 M219,321.8 L219,325.5 L207,332.5 L207,336" stroke-width="1.15"/>
<path d="M212,326 L212,330 M215,324 L215,328 M209,328.5 L209,332" stroke-width="0.92"/>
<path d="M204,334.4 C210,332 215,329 219,325.5" stroke-width="0.92"/>
<ellipse cx="212.8" cy="337.9" rx="5.4" ry="8.6" stroke-width="1.15" fill="#fff" transform="rotate(22 212.8 337.9)"/>
<ellipse cx="213.6" cy="338.4" rx="3.6" ry="6.4" stroke-width="1.0" transform="rotate(22 213.6 338.4)"/>
<path d="M209.6,332 C208,337 209,343 212,346" stroke-width="0.92"/>
<ellipse cx="231.0" cy="335.9" rx="5.8" ry="9.2" stroke-width="1.15" fill="#fff" transform="rotate(22 231.0 335.9)"/>
<path d="M227.4,328.4 C225.6,333.6 226.6,340.6 230,343.6" stroke-width="0.92"/>
<path d="M199,345 L199,356 L203.5,360.5 L198.3,363.5" stroke-width="1.15"/>
<path d="M203.5,360.5 L207.9,360.4 L226,351.5 L246.8,341.5 L263.8,333.7" stroke-width="1.21"/>
<path d="M205,364 L226.5,354.5 L246.8,345 M252.8,314.3 L244,319 L238.5,330" stroke-width="1.03"/>
<path d="M257.7,316.7 L263.8,333.7 L263.8,362.8 L262.5,370.1 L257.7,383.5 L238.3,382.3 L238.3,356 L246.8,353.1" stroke-width="1.21"/>
<path d="M260.8,336 L260.8,362 L259.5,369 L255.5,380.5 L241,379.6 L241,358" stroke-width="0.92"/>
<ellipse cx="252.8" cy="373.8" rx="1.3" ry="1.3" stroke-width="0.6" fill="#000"/>
<ellipse cx="257.0" cy="349.0" rx="1.1" ry="1.1" stroke-width="0.6" fill="#000"/>
<path d="M329.6,365.4 L240.7,309.8" stroke-width="1.03"/>
<path d="M340,402.9 L252.8,350.7" stroke-width="1.03"/>
<path d="M280.8,304.6 C282,303.4 283.6,303.2 285,304 L304.1,315.5 L320.8,327.5 C322.8,329 323.4,330.4 323.2,332.5 L322,338.6 C321.6,348 319.5,357 316,362.8 C312.5,367.5 306,371.5 296.5,373.8 L286.8,375 C284.6,377.4 283,380.4 281.6,383.8 L277.1,394.4 L272.3,411.4 L272.3,421.1 L283.2,422.3 L283.6,424.6 L275.9,428.4 L269.8,430.8" stroke-width="1.38"/>
<path d="M280.8,304.6 L269.8,320.3 L263.8,333.7" stroke-width="1.32"/>
<path d="M283.6,307.4 L273.2,322 L267.4,334.5 L267.4,352" stroke-width="1.03"/>
<path d="M286.8,309.5 L276.6,324 L271.4,336" stroke-width="0.92"/>
<path d="M288.0,322.5 C286.6,317.5 289.4,313 294.2,312 C298.8,311.2 302.4,313.6 303,317.6 C303.4,320.8 301.6,323.6 299,324.6" stroke-width="1.21"/>
<ellipse cx="298.2" cy="317.9" rx="2.3" ry="3.0" stroke-width="1.2" transform="rotate(20 298.2 317.9)"/>
<ellipse cx="291.6" cy="320.8" rx="1.4" ry="1.4" stroke-width="0.9"/>
<path d="M303,317.6 L308,321.5 L308.6,326" stroke-width="1.03"/>
<path d="M305.5,320.4 L317.4,329.4 C319.2,330.8 319.6,332.4 319.4,334.5 L318.6,343 C318,350 316,356.4 313,360.4 C310,364 305,366.8 297.5,369 L288.4,370.6 C285,372.8 282.6,376 281,379.8 L276.6,391.5" stroke-width="1.09"/>
<ellipse cx="320.4" cy="333.2" rx="1.3" ry="1.3" stroke-width="0.6" fill="#000"/>
<ellipse cx="313.9" cy="364.6" rx="1.3" ry="1.3" stroke-width="0.6" fill="#000"/>
<ellipse cx="306.5" cy="352.0" rx="1.0" ry="1.0" stroke-width="0.6" fill="#000"/>
<ellipse cx="286.8" cy="382.3" rx="1.3" ry="1.9" stroke-width="0.9" transform="rotate(20 286.8 382.3)"/>
<ellipse cx="283.2" cy="388.3" rx="1.3" ry="1.9" stroke-width="0.9" transform="rotate(20 283.2 388.3)"/>
<ellipse cx="279.5" cy="394.4" rx="1.3" ry="1.9" stroke-width="0.9" transform="rotate(20 279.5 394.4)"/>
<path d="M277.1,334.9 C280,331 283.5,329.6 286.8,330.1 C295,330.6 304,333.4 308.7,338.6 C309.6,342.5 308.6,347 306.2,350.7 C302.5,356.5 296,361.5 289.2,362.8 C285.5,363.2 282.5,362.2 280.8,360.4" stroke-width="1.72"/>
<path d="M277.1,334.9 C274.8,338.5 274.6,342.5 275.9,345.8 C276.6,351 278.2,356.5 280.8,360.4" stroke-width="1.38"/>
<path d="M281.5,337.5 C284.5,334 289,333.4 293.5,334.6 C299,336 303.4,339 304.6,342.6 C304.8,346.5 303,350.5 300,353.6 C296.6,356.8 292.4,358.8 288.6,359" stroke-width="1.15"/>
<path d="M284.5,338.5 C285.4,345 289.6,351 296.2,352.6 M283.5,343.5 C285,349.6 288.5,354.5 294,356.4 M283.8,349.5 C285,353.6 287.4,357 291,358.6" stroke-width="1.38"/>
<path d="M290.5,336.5 C295.5,338 299.5,341.5 300.8,346.5" stroke-width="1.15"/>
<path d="M272.0,338.5 C270.0,344 270.4,351 272.6,357 C273.6,360 275.2,362.6 277,364.6" stroke-width="1.03"/>
<ellipse cx="268.6" cy="361.6" rx="2.9" ry="2.9" stroke-width="1.8"/>
<ellipse cx="268.6" cy="361.6" rx="1.1" ry="1.1" stroke-width="0.8"/>
<path d="M271.2,360 L279,356.5 M271.4,363.4 L277.6,366.5 M266.5,364.5 L264.5,371" stroke-width="1.03"/>
<path d="M286.8,330.1 L290.6,323.8 M308.7,338.6 L314,336.5 L319,338" stroke-width="1.03"/>
<path d="M272.3,411.4 L275,407.5 L281.4,408.6 L283.2,415 L283.2,422.3 M277,421.6 L277.8,427.4" stroke-width="1.15"/>
<ellipse cx="278.2" cy="414.8" rx="1.5" ry="1.5" stroke-width="1.0"/>
<ellipse cx="277.4" cy="418.6" rx="1.0" ry="1.0" stroke-width="0.6" fill="#000"/>
<path d="M250.4,396.8 L274.7,396.8 M252,400.6 L273.6,400.6" stroke-width="1.49" stroke="#666"/>
<path d="M243,414.6 L258,414.6 M243,418.0 L256,418.0" stroke-width="1.38" stroke="#666"/>
<path d="M262,398 L262,416 M257,402 L257,420 M266.5,398 L266.5,410" stroke-width="0.92"/>
<path d="M198.3,363.5 C193,366 188.5,371 187,377.5 C185.5,385 187.5,394 191.5,400.5" stroke-width="1.15"/>
<path d="M201.5,365.5 C196.5,368 192.4,373 191.2,378.5 C190,385 191.6,392.5 195,398" stroke-width="1.03"/>
<path d="M222,354.5 L226.1,372.5 C230,378 232.6,385 232.2,392 C231.6,400 226,410 216.4,418.7" stroke-width="1.21"/>
<path d="M224.6,366 C228,372 229.6,380 229,387.5 C228.2,396 223.6,405 216,412.5" stroke-width="1.03"/>
<path d="M239.5,389.5 C244,393.5 248,398.5 250.4,404.1 C252,408.5 252.8,412.5 252.8,416.2 L252.8,426" stroke-width="1.15"/>
<path d="M235.5,392 C240.5,396 244.6,401 246.8,406.5 C248.2,410.5 248.8,414.5 248.8,418 L248.8,428" stroke-width="1.03"/>
<ellipse cx="195.0" cy="386.0" rx="2.6" ry="3.4" stroke-width="1.1" transform="rotate(20 195.0 386.0)"/>
<ellipse cx="200.8" cy="388.8" rx="1.7" ry="1.7" stroke-width="1.2" fill="#fff"/>
<ellipse cx="206.2" cy="390.6" rx="1.3" ry="1.3" stroke-width="0.9"/>
<ellipse cx="213.8" cy="385.2" rx="1.3" ry="1.3" stroke-width="0.6" fill="#000"/>
<ellipse cx="217.4" cy="391.4" rx="1.3" ry="1.3" stroke-width="0.6" fill="#000"/>
<ellipse cx="209.6" cy="381.0" rx="1.4" ry="1.4" stroke-width="0.9"/>
<ellipse cx="203.5" cy="378.2" rx="1.1" ry="1.1" stroke-width="0.6" fill="#000"/>
<ellipse cx="199.8" cy="401.6" rx="3.3" ry="3.3" stroke-width="1.1"/>
<ellipse cx="199.8" cy="401.6" rx="1.5" ry="1.5" stroke-width="0.9"/>
<ellipse cx="194.6" cy="394.8" rx="1.3" ry="1.3" stroke-width="0.9"/>
<ellipse cx="212.4" cy="396.0" rx="1.5" ry="1.5" stroke-width="0.9"/>
<ellipse cx="206.6" cy="384.6" rx="2.2" ry="1.4" stroke-width="1.0" transform="rotate(30 206.6 384.6)"/>
<path d="M190.5,381 L196,377 L204,379.5 L210,377.5 L215.5,380 M203,392.5 L211,394.5 L214.5,399.5 M196,391 L198.5,396" stroke-width="1.03"/>
<path d="M208,398.5 C212,401 214,405 213,409.5 M204.5,405 L208.5,412" stroke-width="1.03"/>
<path d="M212.8,411.4 L228.6,394.4 M214.8,412.8 L230.4,396.0" stroke-width="1.38"/>
<path d="M200.6,418.4 L203,416.2 L211.4,418.6 C214.4,419.6 215.8,422 215.6,425 L215,435.7 M204.6,423 L209.4,424.6 C211,425.2 211.4,426.6 211.2,428.4 L210.6,437.5" stroke-width="1.38"/>
<path d="M200.6,418.4 L200.8,425.6 L204.6,427.6 L204.6,423" stroke-width="1.15"/>
<ellipse cx="216.6" cy="437.6" rx="1.4" ry="1.4" stroke-width="0.9"/>
<ellipse cx="209.0" cy="440.0" rx="1.3" ry="1.3" stroke-width="0.6" fill="#000"/>
<ellipse cx="194.0" cy="446.4" rx="1.3" ry="1.3" stroke-width="0.6" fill="#000"/>
<ellipse cx="222.6" cy="433.8" rx="1.1" ry="1.1" stroke-width="0.6" fill="#000"/>
<path d="M197.5,428 L197.5,448 M203,432 L203,454 M200.2,430 L200.2,451 M194.5,436 L194.5,449" stroke-width="1.03"/>
<path d="M204.5,440 C209,440.5 212,443.5 212.4,448 M206,444 L210,451 M198,441 L202,446 L201,452" stroke-width="1.15"/>
<path d="M190,430 L193,438 L190.5,444 M186,436 L188.5,443" stroke-width="1.03"/>
<path d="M228.6,433.2 L238.3,445.4 M222.5,436.5 L230,447.5 M245.5,424.7 L256,436.6" stroke-width="1.15"/>
<path d="M214.6,447 L222.5,443 L222.5,436.5 L238,428.5 L238,422.5 L252.8,416" stroke-width="1.15"/>
<path d="M222.5,443 L230.5,447.6 M238,428.5 L247.6,434 M238.3,445.4 L256,436.6 L268,430.8" stroke-width="1.03"/>
<path d="M226,428 L226,440 M231,420 L231,437 M218,434 L218,446" stroke-width="0.92"/>
<path d="M205.1,469 L206.5,462.5 L211.6,457.5 L269.8,430.8" stroke-width="1.38"/>
<path d="M200,460.5 L205.5,456.4 L213,452.4 L268.6,426" stroke-width="1.15"/>
<ellipse cx="209.4" cy="461.2" rx="1.9" ry="1.9" stroke-width="1.0"/>
<path d="M193,451 L199,456 L199.5,462 M186,447 L190,455" stroke-width="1.03"/>
</g>
<g id="block-more">
<path d="M131.7,359.2 L155.1,372.6 M126.7,368.4 L150.1,381.7 M116.7,378.4 L141.7,393.4 M113.4,388.4 L140.1,401.8" stroke-width="1.0"/>
<path d="M131.7,359.2 L126.7,368.4 L116.7,378.4 L113.4,388.4 M155.1,372.6 L150.1,381.7 L141.7,393.4" stroke-width="1.0"/>
<path d="M136,361.8 L131,371 M141,364.6 L136,373.6 M146,367.4 L141,376.4" stroke-width="0.9"/>
<path d="M119.0,355.5 L127.0,381.5 M122.6,354.5 L130.6,380.5" stroke-width="1.0"/>
<path d="M120.5,361 L124.4,360 M122.4,367 L126.2,366 M124.4,373.6 L128.2,372.6" stroke-width="1.6"/>
<ellipse cx="153.0" cy="396.6" rx="12.6" ry="11.4" transform="rotate(-20 153 396.6)" stroke-width="1.1"/>
<path d="M141.5,392 L139.5,395.5 L140.5,401 M164.5,389 L167.5,392.5" stroke-width="1.0"/>
<path d="M155.1,372.6 L166,378 L170,384 L168,392 M166,378 L172,374 L181,379" stroke-width="1.0"/>
<path d="M170,384 L177,387.5 L177,396 M181,379 L181,392" stroke-width="0.9"/>
<path d="M100,405 L108,414 M104,400 L113,411 L120,411.5 M96,397 C99,402 99,407 96,410" stroke-width="1.0"/>
<path d="M118,402 C121,408 125,412 131,413 M124,398 L128,407 L134,409 M137,404 L139,414 L146,419" stroke-width="1.0"/>
<path d="M139,408 C143,412 148,413 152,411 M146,414 L150,423 L157,427 M158,410 L160,421 L167,427" stroke-width="1.0"/>
<path d="M148,421 L144,427 M156,428 L153,434 M164,432 L160,438 M172,437 L169,443" stroke-width="1.3"/>
<ellipse cx="149.5" cy="437.2" rx="1.5" ry="1.5" stroke-width="0.6" fill="#000"/>
<ellipse cx="166.6" cy="446.6" rx="1.5" ry="1.5" stroke-width="0.6" fill="#000"/>
<ellipse cx="127.0" cy="425.6" rx="1.5" ry="1.5" stroke-width="0.6" fill="#000"/>
<ellipse cx="104.0" cy="413.4" rx="1.5" ry="1.5" stroke-width="0.6" fill="#000"/>
<ellipse cx="80.0" cy="400.4" rx="1.5" ry="1.5" stroke-width="0.6" fill="#000"/>
<path d="M156,441 L160,436 L165,439 M173,450 L177,445 L182,448" stroke-width="1.0"/>
<path d="M186,352 L195,357 L195,366 M190,345 L199,350 M183,360 L190,364 L190,373" stroke-width="1.0"/>
<path d="M176,362 L184,372 L184,381 M170,366 L178,376" stroke-width="0.9"/>
<path d="M143,350 L143,372" stroke-width="0.7"/>
<path d="M147.5,352 L147.5,369" stroke-width="0.7"/>
<path d="M157,356 L157,374" stroke-width="0.7"/>
<path d="M161,358 L161,371" stroke-width="0.7"/>
<path d="M166.5,361 L166.5,378" stroke-width="0.7"/>
<path d="M183.5,398 L183.5,428" stroke-width="0.7"/>
<path d="M191,404 L191,432" stroke-width="0.7"/>
<path d="M174.5,392 L174.5,420" stroke-width="0.7"/>
<path d="M160,404 L160,418" stroke-width="0.7"/>
<path d="M134.6,384 L134.6,396" stroke-width="0.7"/>
<path d="M51.6,347.5 C47.6,338.6 51.6,326.6 59.6,321.6" stroke-width="0.7"/>
<path d="M55.2,348.8 C51.2,340.2 55.2,328.2 63.2,323.2" stroke-width="0.7"/>
<path d="M58.8,350.0 C54.8,341.8 58.8,329.8 66.8,324.8" stroke-width="0.7"/>
<path d="M62.4,351.3 C58.4,343.4 62.4,331.4 70.4,326.4" stroke-width="0.7"/>
<path d="M66.0,352.6 C62.0,345.0 66.0,333.0 74.0,328.0" stroke-width="0.7"/>
<path d="M69.6,353.9 C65.6,346.6 69.6,334.6 77.6,329.6" stroke-width="0.7"/>
<path d="M73.2,355.2 C69.2,348.2 73.2,336.2 81.2,331.2" stroke-width="0.7"/>
<path d="M76.8,356.4 C72.8,349.8 76.8,337.8 84.8,332.8" stroke-width="0.7"/>
<path d="M76,330 C80,333 84,340 84,347 C84,353 81,357 78,358" stroke-width="1.1"/>
<path d="M86.5,332 C91,336 93,343 92,349.5 M84,336 L92,340.5" stroke-width="0.9"/>
<path d="M58,300 L64,309 L62,316 M66,296 L73,305 L74,313 L70,318 M77,300 L83,309 L83,318" stroke-width="0.9"/>
<path d="M60,289 L60,297 M75,291 L75,300 M80,296 L80,306" stroke-width="0.7"/>
</g>
<g id="block-more2">
<path d="M69,378 C72,384 77,388 84,388.5 M72,376 C76,383 82,386 88,385 M78,383 L74,392 L80,396 M84,389 L82,397 L89,401 M90,387 L95,396" stroke-width="1.4"/>
<path d="M92,397 C96,402 101,404 106,402 M97,401 L95,408 L102,412 M106,402 L110,410 L117,412 M112,400 C116,405 121,406 125,403" stroke-width="1.4"/>
<path d="M117,412 L122,419 L129,420 M125,404 L129,412 L136,415 M131,399 L135,407" stroke-width="1.3"/>
<path d="M60,376 L66,380 L64,386 L70,390 M56,370 L62,373" stroke-width="1.2"/>
<path d="M23.2,374.6 L51.9,391.4 L120,428.2 L203,471" stroke-width="1.0"/>
<path d="M48.9,384.4 L48.9,391.0 L52.9,393.2 L52.9,386.6" stroke-width="1.0"/>
<path d="M73.0,397.0 L73.0,403.6 L77.0,405.8 L77.0,399.2" stroke-width="1.0"/>
<path d="M97.0,410.0 L97.0,416.6 L101.0,418.8 L101.0,412.2" stroke-width="1.0"/>
<path d="M121.5,423.0 L121.5,429.6 L125.5,431.8 L125.5,425.2" stroke-width="1.0"/>
<path d="M146.0,436.0 L146.0,442.6 L150.0,444.8 L150.0,438.2" stroke-width="1.0"/>
<path d="M170.5,448.6 L170.5,455.2 L174.5,457.4 L174.5,450.8" stroke-width="1.0"/>
<path d="M33,347 C36,344 40,345 41,349 C42,353 39,357 36,356 C33,355 32,350 33,347 M42,352 C45,350 48.5,352 49,356 C49.4,360 46,363 43.5,361.6" stroke-width="1.1"/>
<path d="M29.6,341.6 L41,336 L53,343 L55,380 M41,336 L41.2,309.7" stroke-width="1.0"/>
<path d="M38,362 C41,360 44.6,362 45,366 C45.2,370 42,372.6 39.4,371" stroke-width="1.0"/>
<ellipse cx="64.2" cy="365.1" rx="2.6" ry="2.6" stroke-width="1.6"/>
<path d="M61,361 L58,357 M67,362.6 L72,360" stroke-width="1.0"/>
<path d="M51.3,345.0 C47.8,337.0 51.8,326.5 59.3,321.5" stroke-width="1.1"/>
<path d="M55.2,346.7 C51.7,338.7 55.7,328.2 63.2,323.2" stroke-width="1.1"/>
<path d="M59.1,348.4 C55.6,340.4 59.6,329.9 67.1,324.9" stroke-width="1.1"/>
<path d="M63.0,350.1 C59.5,342.1 63.5,331.6 71.0,326.6" stroke-width="1.1"/>
<path d="M66.9,351.8 C63.4,343.8 67.4,333.3 74.9,328.3" stroke-width="1.1"/>
<path d="M70.8,353.5 C67.3,345.5 71.3,335.0 78.8,330.0" stroke-width="1.1"/>
<path d="M74.7,355.2 C71.2,347.2 75.2,336.7 82.7,331.7" stroke-width="1.1"/>
<path d="M88,322 L95,318 L101,321.5 L101,328 L94,332 M95,318 L95,312 L100,309.5 L105,312 L105,318.5" stroke-width="1.0"/>
<ellipse cx="98.0" cy="325.0" rx="1.8" ry="1.8" stroke-width="1.2"/>
<ellipse cx="100.0" cy="314.5" rx="1.5" ry="1.5" stroke-width="1.0"/>
<path d="M101,328 L109,332.5 L109,339 M105,318.5 L113,323 L113,329" stroke-width="0.9"/>
<path d="M113.5,378 L121,382.5 L121,392 L114,396 M121,382.5 L127,379 M121,392 L128,396" stroke-width="1.0"/>
<path d="M128,396 C131,401 136,403.5 141,402.5 M134,388 L134,397" stroke-width="1.1"/>
</g>
<g id="block-more3">
<path d="M49.9,233 L49.9,245 M53.5,243.5 L53.5,250 M58,246 L58,252" stroke-width="1.0"/>
<path d="M47.5,255.5 C48.5,252.5 52,251.5 55,253 L62,247 C64,245 68,245.5 69.5,248 C70.5,250 70,253 68,254.5 L76.5,265.5 C78,268 77.5,271.5 75,273 C72.5,274.5 69,273.5 68,271" stroke-width="1.1"/>
<path d="M47.5,255.5 C46.5,258.5 47.5,262 50.5,263 L57,265.5 M50.5,263 L48.5,270 L52,274" stroke-width="1.1"/>
<path d="M57.5,262 L66,266 M58,256.5 L62.5,252" stroke-width="0.9"/>
<ellipse cx="53.3" cy="259.0" rx="1.6" ry="1.6" stroke-width="0.6" fill="#000"/>
<ellipse cx="65.3" cy="251.3" rx="1.4" ry="1.4" stroke-width="0.6" fill="#000"/>
<ellipse cx="72.9" cy="270.0" rx="1.6" ry="1.6" stroke-width="0.6" fill="#000"/>
<path d="M58,279 C58,273 62,270.5 66,271.5 C72,273 76.5,279 77,287 C77.5,294 74.5,298.5 70.5,298.5" stroke-width="1.0"/>
<path d="M56,281 L52.5,288 L54.5,294 L51,300" stroke-width="0.9"/>
<path d="M43,296 L53.5,292.5 C57.5,292 60,295 60,299 C60,303 57.5,306.5 54,307.5 L46,309" stroke-width="1.1"/>
<path d="M77,279 L84,283 L84,292 M80,272 L88,276.5 M84,292 L78,300 L80,308" stroke-width="1.0"/>
<path d="M88,283 L88,296 M92,287 L92,300" stroke-width="0.8"/>
<path d="M86.5,332 L93,328 C96,327 98.6,328.6 99,331.5 M84,336 L78,331 L72,322" stroke-width="1.0"/>
<path d="M66,317 L72,322 L80,320 L86,324" stroke-width="1.0"/>
<path d="M50.5,312.5 L45.5,330.5 L42,338.5" stroke-width="0.8"/>
<path d="M38,311 L31.5,329 L27,340" stroke-width="0.9"/>
</g>
<g id="block-more4">
<path d="M175,386.7 C180,382 186,378.5 191.7,376.7 C200,374.6 212,374.6 221.7,372.5 C226,371 229,369 231.8,366.7 L245.1,360 L258,353.5" stroke-width="1.2"/>
<path d="M176.5,390 C181,385.4 187,382 192.4,380.2 C201,378 213,378 222.6,375.8 C227,374.4 230.4,372.4 233.4,369.8 L246.4,363.2 L259,357" stroke-width="1.0"/>
<ellipse cx="198.4" cy="373.2" rx="1.8" ry="1.8" stroke-width="1.0"/>
<ellipse cx="223.6" cy="369.6" rx="1.8" ry="1.8" stroke-width="1.0"/>
<ellipse cx="241.6" cy="359.6" rx="1.6" ry="1.6" stroke-width="1.0"/>
<path d="M186,388 C187,384 191,381.6 196,382.4 C201,383 205,380.6 209,381.4 C212.6,382.2 214,385 212.6,388 C211,391.6 206,392.6 203,395.4 C200.6,398 196,398.6 192.6,396.6 C188.6,394.6 185.4,392 186,388 Z" stroke-width="1.0"/>
<path d="M238.4,386.7 C242.6,389.6 245.6,393 246.8,396.7 C248.4,401 248.8,405.6 248.5,410.1" stroke-width="1.0"/>
<path d="M226.8,428.4 L238.4,441.8 M248.4,420.2 L258.5,430.2 M232.5,425.5 L243.5,438.5" stroke-width="1.1"/>
<path d="M223.4,438.5 L236.8,431.8 L241.8,434.3 L253.4,428.5 L258.5,431 L268.5,426" stroke-width="1.0"/>
<path d="M178,430 L178,448 M183,427 L183,452 M188,433 L188,455 M192.5,438 L192.5,458" stroke-width="0.9"/>
<path d="M176,440 C180,437 186,437.4 189,441 M179,452 L186,456 L186,463 M190,447 L196,450.4" stroke-width="1.1"/>
<ellipse cx="181.5" cy="444.5" rx="1.4" ry="1.4" stroke-width="0.6" fill="#000"/>
<ellipse cx="196.5" cy="441.5" rx="1.3" ry="1.3" stroke-width="0.6" fill="#000"/>
</g>
<g id="pump">
<path d="M47.2,477.8 C47.6,474 49,471.6 51.2,470.6 L56,468.5 L81.4,481.5 L81.4,518.5 L79.8,532 L70.3,527.2 L55.9,519.2 L55.9,506.5 L47.2,496.9 Z" stroke-width="1.32" fill="#fff"/>
<path d="M51.2,474.6 L76,487.5 L81.4,484.5 M76,487.5 L76,515 L70.5,526.5" stroke-width="1.15"/>
<path d="M47.2,492.5 L52.5,498 L52.5,504 M55.9,506.5 L63,510.5 L63,516.5 L55.9,519.2" stroke-width="1.03"/>
<path d="M57.5,488.5 C56,488 55.8,489 55.8,490.4 L55.9,497.6 C56,499 56.6,499.8 57.8,500.4 L65.5,504 C67,504.6 67.9,504 67.9,502.6 L67.9,494.8 C67.8,493.4 67.2,492.6 66,492 Z" stroke-width="1.26"/>
<path d="M63,505 L70,509 M60,522 L66,518 L72,521" stroke-width="1.03"/>
<path d="M53.5,475 L53.5,466.5 C54,464.5 57,464.5 57.5,466.5 L57.5,476.5" stroke-width="1.15" fill="#fff"/>
<ellipse cx="55.5" cy="466.4" rx="2.0" ry="1.2" stroke-width="0.9"/>
<path d="M53.5,470.5 L57.5,471.5" stroke-width="0.92"/>
<path d="M62,478 L62,470 L64.5,463 C65,460.6 69,460.6 69.5,463 L71.5,471 L71.5,480" stroke-width="1.15" fill="#fff"/>
<ellipse cx="67.0" cy="462.6" rx="2.4" ry="1.4" stroke-width="1.0"/>
<ellipse cx="67.0" cy="468.5" rx="2.6" ry="1.6" stroke-width="1.4"/>
<path d="M62.5,473.5 L71,475.5" stroke-width="0.92"/>
<path d="M68.5,458 L68.5,454 C69,452.4 72,452.4 72.5,454 L72.5,460" stroke-width="1.15" fill="#fff"/>
<ellipse cx="70.5" cy="453.8" rx="2.0" ry="1.2" stroke-width="0.9"/>
<path d="M75.9,470 L77.5,452 C78,448.5 84.5,447.6 86,450.5 L88,458 L92.6,466 L92.6,482 C90,488.6 79,488.4 75.9,483 Z" stroke-width="1.32" fill="#fff"/>
<path d="M76.4,466.5 C79.5,470.5 89,470.6 92.4,466.4 M75.9,474 C79,478.6 89.6,478.8 92.6,474.2" stroke-width="1.15"/>
<path d="M77.5,452 C79,455 84.5,455.4 86,452.6 M78.5,457.5 L85.6,459" stroke-width="1.03"/>
<ellipse cx="81.8" cy="450.6" rx="3.6" ry="1.8" stroke-width="1.0"/>
<path d="M87.8,458.5 L89,450.5 C92,447.5 95,446.5 98,447 L99,444.5 C100,441.6 110.5,441.4 112.5,445 L113.5,451 C116,452 118.5,454.4 119.7,458 L118.6,468 L117.5,476.2 L109,481 L97.5,475 L92.6,466 Z" stroke-width="1.32" fill="#fff"/>
<ellipse cx="105.7" cy="443.8" rx="3.4" ry="1.8" stroke-width="1.0"/>
<path d="M98,447 C100.5,451 110.5,452 113.5,451 M89,450.5 C93,456 108,461.6 119.7,458 M88.4,454.5 C93,460.5 108,466 119.2,462.4" stroke-width="1.15"/>
<path d="M92.6,466 C97,470.5 109,473.6 118.6,468 M93.5,462.5 C98,467 109.5,470 118.9,465" stroke-width="1.49"/>
<path d="M111.5,462.5 L111.8,466.5 M114.5,461.8 L114.8,466" stroke-width="1.03"/>
<path d="M81.4,496.9 L86.5,492.5 L97.5,475 M92.6,482 L101,489.5 L109,481 M81.4,484.5 L86,487.5" stroke-width="1.15"/>
<path d="M95,477.5 L96.5,484.5 L100.5,488 M98.5,480 L103,484.5" stroke-width="1.84"/>
<path d="M85.4,517 C84.5,508 88,497 95.5,490.5 C102,485.4 112,485.4 118.6,489.6 C125.5,494.4 128,503 126.2,511.5 C124.4,520 118.5,529 110.5,535 C106,538.4 101,540.4 97.5,539.8 C93,538.8 91,536.5 88.5,533.5 C86.5,531 85.8,524 85.4,517 Z" stroke-width="1.32" fill="#fff"/>
<path d="M88.4,519 C87.4,510.5 90.6,500 97.5,494 C103.5,489.4 112,489.4 117.6,493" stroke-width="1.03"/>
<path d="M79.8,532 L84,534.5 L88.5,533.5 M81.4,518.5 L85.4,517" stroke-width="1.15"/>
<ellipse cx="112.5" cy="495.3" rx="1.5" ry="2.3" stroke-width="0.9" transform="rotate(25 112.5 495.3)"/>
<ellipse cx="122.1" cy="501.7" rx="1.5" ry="2.3" stroke-width="0.9" transform="rotate(25 122.1 501.7)"/>
<ellipse cx="94.2" cy="500.9" rx="1.5" ry="2.3" stroke-width="0.9" transform="rotate(25 94.2 500.9)"/>
<ellipse cx="81.7" cy="517.6" rx="1.5" ry="2.3" stroke-width="0.9" transform="rotate(25 81.7 517.6)"/>
<ellipse cx="91.0" cy="524.0" rx="1.5" ry="2.3" stroke-width="0.9" transform="rotate(25 91.0 524.0)"/>
<ellipse cx="98.2" cy="536.0" rx="1.5" ry="2.3" stroke-width="0.9" transform="rotate(25 98.2 536.0)"/>
<ellipse cx="103.6" cy="512.0" rx="6.0" ry="12.0" stroke-width="1.2" fill="#fff" transform="rotate(-28 103.6 512.0)"/>
<path d="M98.2,503.5 C96,509 97.5,517.5 102.5,523" stroke-width="2.07"/>
<path d="M101,501.6 C98.8,507.5 100.2,516.5 105.4,522.4" stroke-width="1.03"/>
<path d="M105.5,506.5 L111.5,508 L121,513.5 L127.5,518 C129.6,520 129.4,524 127.4,526 C126,527.4 123.6,527.4 122,526.4 L115,524.5 L106,523.5" stroke-width="1.26" fill="#fff"/>
<path d="M111.5,508 C109.4,512.5 110.4,520 115,524.5 M121,513.5 C119.4,517 120,522.4 123,526 M123.6,515.2 C122,518.6 122.6,523.4 125.4,526.4" stroke-width="1.15"/>
<path d="M117.6,511.6 C116,515.6 116.8,521.4 119.6,525.4" stroke-width="2.07"/>
<ellipse cx="127.2" cy="522.2" rx="1.6" ry="3.4" stroke-width="0.9" transform="rotate(-28 127.2 522.2)"/>
<path d="M96.6,497 C93,503 92.4,513 95.5,521 M99.4,494.6 C95.6,501 95,512.5 98.4,521.6" stroke-width="1.15"/>
<path d="M110.5,535 L104,531.5 M126.2,511.5 L121.5,509.5 M118.6,489.6 L115.5,493" stroke-width="1.03"/>
<path d="M81.4,496.9 L85.5,500 L85.4,517 M76,500 L81.4,503" stroke-width="1.15"/>
<path d="M58.5,478.5 L60.5,472 M60,480 L62,474" stroke-width="1.49"/>
<path d="M72.5,462 L75.5,464 L75.5,470 M88,458 L84.5,461 M86,450.5 L89,450.5" stroke-width="1.15"/>
<path d="M100.5,476.5 L104.5,479 L104.5,484.5 M106,474 L109.5,476.5" stroke-width="1.38"/>
<path d="M47.2,484 L51,486.5 L51,493.5 M49,480 L53.6,482.4" stroke-width="1.03"/>
<ellipse cx="67.0" cy="476.6" rx="1.3" ry="1.3" stroke-width="0.6" fill="#000"/>
<ellipse cx="85.6" cy="493.6" rx="1.2" ry="1.2" stroke-width="0.6" fill="#000"/>
</g>
</svg>
</body></html>
